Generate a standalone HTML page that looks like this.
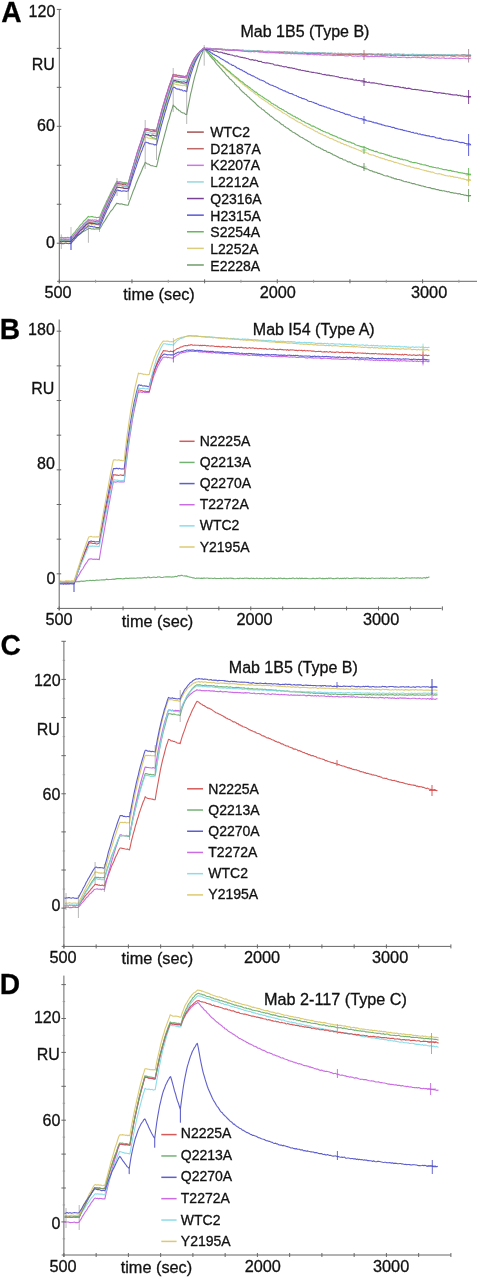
<!DOCTYPE html>
<html><head><meta charset="utf-8"><style>
html,body{margin:0;padding:0;background:#fff;}
svg{display:block;will-change:transform;}
text{font-family:"Liberation Sans",sans-serif;stroke:#111;stroke-width:0.3px;}
</style></head><body>
<svg width="479" height="1280" viewBox="0 0 479 1280">
<rect width="479" height="1280" fill="#fff"/>
<text x="0" y="22" font-size="30" font-weight="bold" fill="#000" transform="translate(1.2,0) scale(0.94,1)">A</text>
<line x1="59.3" y1="9.4" x2="59.3" y2="283.3" stroke="#666" stroke-width="1"/>
<line x1="56.8" y1="9.4" x2="61.3" y2="9.4" stroke="#666" stroke-width="1"/>
<line x1="56.8" y1="48.37" x2="61.3" y2="48.37" stroke="#666" stroke-width="1"/>
<line x1="56.8" y1="87.34" x2="61.3" y2="87.34" stroke="#666" stroke-width="1"/>
<line x1="56.8" y1="126.31" x2="61.3" y2="126.31" stroke="#666" stroke-width="1"/>
<line x1="56.8" y1="165.28" x2="61.3" y2="165.28" stroke="#666" stroke-width="1"/>
<line x1="56.8" y1="204.25" x2="61.3" y2="204.25" stroke="#666" stroke-width="1"/>
<line x1="56.8" y1="243.22" x2="61.3" y2="243.22" stroke="#666" stroke-width="1"/>
<line x1="57.1" y1="281.3" x2="477" y2="281.3" stroke="#666" stroke-width="1"/>
<line x1="59.3" y1="279.3" x2="59.3" y2="283.3" stroke="#666" stroke-width="1"/>
<line x1="131.96" y1="279.3" x2="131.96" y2="283.3" stroke="#666" stroke-width="1"/>
<line x1="204.62" y1="279.3" x2="204.62" y2="283.3" stroke="#666" stroke-width="1"/>
<line x1="277.28" y1="279.3" x2="277.28" y2="283.3" stroke="#666" stroke-width="1"/>
<line x1="349.94" y1="279.3" x2="349.94" y2="283.3" stroke="#666" stroke-width="1"/>
<line x1="422.6" y1="279.3" x2="422.6" y2="283.3" stroke="#666" stroke-width="1"/>
<line x1="95.63" y1="279.8" x2="95.63" y2="282.8" stroke="#999" stroke-width="1"/>
<line x1="168.29" y1="279.8" x2="168.29" y2="282.8" stroke="#999" stroke-width="1"/>
<line x1="240.95" y1="279.8" x2="240.95" y2="282.8" stroke="#999" stroke-width="1"/>
<line x1="313.61" y1="279.8" x2="313.61" y2="282.8" stroke="#999" stroke-width="1"/>
<line x1="386.27" y1="279.8" x2="386.27" y2="282.8" stroke="#999" stroke-width="1"/>
<line x1="458.93" y1="279.8" x2="458.93" y2="282.8" stroke="#999" stroke-width="1"/>
<text x="55.3" y="16.6" font-size="16" text-anchor="end" fill="#111">120</text>
<text x="54.8" y="69.8" font-size="16" text-anchor="end" fill="#111">RU</text>
<text x="54.8" y="131.2" font-size="16" text-anchor="end" fill="#111">60</text>
<text x="54.8" y="247.8" font-size="16" text-anchor="end" fill="#111">0</text>
<text x="44.5" y="298.2" font-size="16.3" fill="#111">500</text>
<text x="123.3" y="299.6" font-size="16.3" fill="#111">time (sec)</text>
<text x="259.7" y="297.6" font-size="16.3" fill="#111">2000</text>
<text x="411" y="297.6" font-size="16.3" fill="#111">3000</text>
<text x="240.5" y="36.8" font-size="16" fill="#111">Mab 1B5 (Type B)</text>
<line x1="187" y1="132.1" x2="203.8" y2="132.1" stroke="#9a4040" stroke-width="1.5" stroke-opacity="0.9"/>
<text x="210.3" y="137.1" font-size="14" fill="#111">WTC2</text>
<line x1="187" y1="148.71" x2="203.8" y2="148.71" stroke="#b85858" stroke-width="1.5" stroke-opacity="0.9"/>
<text x="210.3" y="153.78" font-size="14" fill="#111">D2187A</text>
<line x1="187" y1="165.32" x2="203.8" y2="165.32" stroke="#c46ae0" stroke-width="1.5" stroke-opacity="0.9"/>
<text x="210.3" y="170.46" font-size="14" fill="#111">K2207A</text>
<line x1="187" y1="181.93" x2="203.8" y2="181.93" stroke="#88d4dc" stroke-width="1.5" stroke-opacity="0.9"/>
<text x="210.3" y="187.14" font-size="14" fill="#111">L2212A</text>
<line x1="187" y1="198.54" x2="203.8" y2="198.54" stroke="#6a2c88" stroke-width="1.5" stroke-opacity="0.9"/>
<text x="210.3" y="203.82" font-size="14" fill="#111">Q2316A</text>
<line x1="187" y1="215.15" x2="203.8" y2="215.15" stroke="#4646d2" stroke-width="1.5" stroke-opacity="0.9"/>
<text x="210.3" y="220.5" font-size="14" fill="#111">H2315A</text>
<line x1="187" y1="231.76" x2="203.8" y2="231.76" stroke="#58b04a" stroke-width="1.5" stroke-opacity="0.9"/>
<text x="210.3" y="237.18" font-size="14" fill="#111">S2254A</text>
<line x1="187" y1="248.37" x2="203.8" y2="248.37" stroke="#d8c870" stroke-width="1.5" stroke-opacity="0.9"/>
<text x="210.3" y="253.86" font-size="14" fill="#111">L2252A</text>
<line x1="187" y1="264.98" x2="203.8" y2="264.98" stroke="#60905a" stroke-width="1.5" stroke-opacity="0.9"/>
<text x="210.3" y="270.54" font-size="14" fill="#111">E2228A</text>
<polyline points="59.8,239.79 60.8,240.04 61.8,239.9 62.8,240.08 63.8,240.1 64.8,239.65 65.8,239.61 66.8,240.27 67.8,239.81 68.8,239.79 69.8,240.4 70.8,239.98 71.77,239.03 72.74,237.51 73.72,236.44 74.69,234.87 75.66,234.09 76.63,233.13 77.61,231.73 78.58,230.8 79.55,229.66 80.52,228.1 81.49,227.6 82.47,226.43 83.44,225.18 84.41,223.97 85.38,223.65 86.36,222.37 87.33,221.61 88.3,220.8 89.32,220.8 90.34,221.08 91.35,220.77 92.37,221.2 93.39,221.01 94.41,221.49 95.43,221.53 96.45,220.98 97.46,221.08 98.48,221.21 99.5,221.87 100.52,218.85 101.55,216.45 102.57,213.68 103.59,211.38 104.62,208.86 105.64,206.46 106.66,204.31 107.69,202.01 108.71,200.01 109.74,197.61 110.76,195.63 111.78,193.44 112.81,191.44 113.83,189.12 114.85,186.68 115.88,185.25 116.9,183.37 117.93,183.58 118.95,183.55 119.98,183.88 121.01,183.69 122.04,184.37 123.06,184.34 124.09,184.28 125.12,184.25 126.15,185.03 127.17,185.27 128.2,184.67 129.2,181.45 130.2,177.41 131.2,173.54 132.2,170.06 133.2,166.9 134.2,163.51 135.2,159.44 136.2,156.54 137.2,152.79 138.2,150.1 139.2,146.61 140.2,143.92 141.2,140.93 142.2,137.54 143.2,134.97 144.2,131.51 145.2,128.46 146.23,129.12 147.25,128.89 148.28,129.23 149.31,129.6 150.34,129.94 151.36,129.75 152.39,129.81 153.42,130.62 154.45,130.31 155.47,130.95 156.5,131.02 157.48,126.65 158.46,122.85 159.45,119.12 160.43,115.53 161.41,111.89 162.39,108.34 163.38,104.96 164.36,101.86 165.34,98.23 166.32,94.97 167.31,92.07 168.29,88.63 169.27,85.7 170.25,83.32 171.24,80.11 172.22,77.35 173.2,74.21 174.16,74.72 175.13,75.04 176.09,74.76 177.06,75.4 178.02,75.56 178.99,75.25 179.95,75.84 180.91,75.84 181.88,76.13 182.84,75.98 183.81,76.38 184.77,76.5 185.74,76.03 186.7,76.15 187.67,73.64 188.64,71.12 189.62,68.03 190.59,65.89 191.56,63.9 192.53,61.75 193.51,60.02 194.48,58.37 195.45,56.94 196.42,55.77 197.39,54.3 198.37,53.23 199.34,52.51 200.31,50.97 201.28,50.54 202.26,49.88 203.23,48.81 204.2,48.08 205.2,48.61 206.2,48.22 207.2,48.25 208.2,48.51 209.2,48.79 210.2,48.37 211.19,48.61 212.19,48.69 213.19,49.15 214.19,48.89 215.19,49.29 216.19,48.8 217.19,48.99 218.19,49.3 219.19,49.55 220.19,49.26 221.19,49.14 222.19,49.11 223.19,49.5 224.19,49.28 225.18,49.83 226.18,49.91 227.18,49.44 228.18,49.57 229.18,50.05 230.18,49.97 231.18,50.16 232.18,49.84 233.18,49.72 234.18,49.9 235.18,50.35 236.18,49.99 237.18,50.1 238.17,50.2 239.17,50.25 240.17,50.3 241.17,50.75 242.17,50.19 243.17,50.12 244.17,50.91 245.17,50.91 246.17,51.04 247.17,50.64 248.17,51.1 249.17,51.13 250.17,50.61 251.16,51.07 252.16,51.19 253.16,51.09 254.16,51.02 255.16,50.88 256.16,50.97 257.16,50.92 258.16,50.83 259.16,51.29 260.16,51.09 261.16,51.55 262.16,50.97 263.16,51.7 264.16,51.57 265.15,51.8 266.15,51.81 267.15,51.85 268.15,51.63 269.15,51.22 270.15,51.84 271.15,51.42 272.15,51.56 273.15,51.89 274.15,51.81 275.15,51.76 276.15,52.21 277.15,51.99 278.14,51.81 279.14,51.77 280.14,52.29 281.14,52.02 282.14,52.29 283.14,51.98 284.14,51.89 285.14,52.2 286.14,52.45 287.14,51.97 288.14,52.5 289.14,52.63 290.14,52.57 291.13,52.62 292.13,51.99 293.13,52.52 294.13,52.74 295.13,52.12 296.13,52.32 297.13,52.35 298.13,52.59 299.13,52.53 300.13,52.6 301.13,52.87 302.13,52.28 303.13,52.35 304.13,52.44 305.12,52.46 306.12,52.44 307.12,53.2 308.12,53.13 309.12,52.54 310.12,52.9 311.12,52.77 312.12,52.8 313.12,52.85 314.12,53.11 315.12,53.09 316.12,52.93 317.12,52.82 318.11,52.96 319.11,52.82 320.11,53.19 321.11,53.34 322.11,53.09 323.11,52.88 324.11,52.98 325.11,53.16 326.11,53.36 327.11,53.53 328.11,53.23 329.11,53.59 330.11,53.47 331.1,53.34 332.1,53.31 333.1,53.43 334.1,53.62 335.1,53.41 336.1,53.65 337.1,53.48 338.1,53.33 339.1,53.58 340.1,53.73 341.1,53.25 342.1,53.56 343.1,53.58 344.1,53.96 345.09,54.02 346.09,53.59 347.09,54.03 348.09,53.96 349.09,53.56 350.09,53.74 351.09,53.48 352.09,54.05 353.09,53.95 354.09,54.15 355.09,54.09 356.09,54.01 357.09,54.08 358.08,53.96 359.08,53.6 360.08,54.01 361.08,53.56 362.08,53.69 363.08,54.21 364.08,53.64 365.08,53.69 366.08,53.71 367.08,54.35 368.08,53.81 369.08,53.7 370.08,54.37 371.07,53.81 372.07,54.4 373.07,54.28 374.07,54.42 375.07,54.53 376.07,54.25 377.07,54.44 378.07,53.84 379.07,54.44 380.07,54.25 381.07,54.43 382.07,53.95 383.07,54.48 384.07,54.64 385.06,53.96 386.06,54.18 387.06,54.39 388.06,54.61 389.06,54.15 390.06,54.12 391.06,54.19 392.06,54.49 393.06,54.61 394.06,54.34 395.06,54.33 396.06,54.36 397.06,54.34 398.05,54.41 399.05,54.15 400.05,54.49 401.05,54.88 402.05,54.45 403.05,54.73 404.05,54.27 405.05,54.7 406.05,54.77 407.05,54.71 408.05,54.6 409.05,54.58 410.05,54.72 411.04,54.93 412.04,54.34 413.04,54.31 414.04,54.84 415.04,54.99 416.04,54.68 417.04,54.63 418.04,54.86 419.04,54.44 420.04,54.52 421.04,54.47 422.04,54.79 423.04,54.59 424.04,54.53 425.03,54.91 426.03,55.12 427.03,54.61 428.03,54.94 429.03,54.72 430.03,55.08 431.03,54.87 432.03,54.63 433.03,54.6 434.03,54.45 435.03,54.82 436.03,54.76 437.03,54.6 438.02,54.75 439.02,54.73 440.02,55.1 441.02,54.6 442.02,55.29 443.02,54.89 444.02,54.99 445.02,54.9 446.02,55.2 447.02,55.19 448.02,54.99 449.02,54.94 450.02,55.14 451.01,55.25 452.01,54.89 453.01,55.17 454.01,55.36 455.01,54.97 456.01,54.79 457.01,54.8 458.01,55.19 459.01,55.16 460.01,55.4 461.01,55.32 462.01,54.84 463.01,54.8 464.01,54.86 465,54.81 466,55.23 467,55.36 468,55.4 469,54.89 470,55.39 471,54.95" fill="none" stroke="#9a4040" stroke-width="1.1" stroke-opacity="0.88" stroke-linejoin="round"/>
<polyline points="59.8,240.94 60.8,241.18 61.8,240.67 62.8,240.67 63.8,241.27 64.8,240.83 65.8,240.89 66.8,241.06 67.8,241.14 68.8,240.61 69.8,240.87 70.8,240.95 71.77,239.78 72.74,238.36 73.72,237.49 74.69,236.64 75.66,235.05 76.63,234.06 77.61,232.62 78.58,231.67 79.55,230.92 80.52,229.44 81.49,229.03 82.47,228.04 83.44,226.4 84.41,226.1 85.38,224.68 86.36,224.06 87.33,223.12 88.3,221.84 89.32,222.27 90.34,222.37 91.35,222.6 92.37,222.27 93.39,222.76 94.41,223.01 95.43,222.86 96.45,222.83 97.46,222.56 98.48,222.93 99.5,222.88 100.52,220.61 101.55,218.06 102.57,215.49 103.59,212.75 104.62,210.73 105.64,208.37 106.66,205.71 107.69,204.01 108.71,201.59 109.74,198.98 110.76,197.48 111.78,194.73 112.81,192.81 113.83,191.08 114.85,188.98 115.88,186.98 116.9,185.12 117.93,185.16 118.95,185.22 119.98,185.28 121.01,185.34 122.04,186 123.06,186.17 124.09,186.12 125.12,186.39 126.15,186.2 127.17,186.22 128.2,186.41 129.2,182.98 130.2,178.57 131.2,175.26 132.2,171.44 133.2,168.3 134.2,164.48 135.2,161.03 136.2,157.72 137.2,154.52 138.2,151.45 139.2,147.92 140.2,145.17 141.2,141.5 142.2,138.6 143.2,135.48 144.2,132.57 145.2,130.22 146.23,130.44 147.25,130.24 148.28,130.46 149.31,130.85 150.34,131.3 151.36,131.54 152.39,131.65 153.42,131.68 154.45,131.46 155.47,131.8 156.5,131.75 157.48,128.07 158.46,124.25 159.45,120.18 160.43,116.54 161.41,113.37 162.39,109.26 163.38,106.45 164.36,103.17 165.34,99.94 166.32,96.29 167.31,93.31 168.29,90.28 169.27,87.34 170.25,84.71 171.24,81.64 172.22,78.55 173.2,76.29 174.16,76.19 175.13,76.47 176.09,76.75 177.06,76.34 178.02,77.12 178.99,77.18 179.95,77.19 180.91,77.35 181.88,77.43 182.84,77.34 183.81,77.72 184.77,77.43 185.74,77.9 186.7,78.12 187.67,74.79 188.64,71.99 189.62,69.66 190.59,67.18 191.56,64.36 192.53,62.85 193.51,60.86 194.48,58.7 195.45,57.4 196.42,55.87 197.39,54.45 198.37,53.62 199.34,52.85 200.31,51.37 201.28,50.89 202.26,49.92 203.23,48.71 204.2,48.59 205.2,48.45 206.2,48.78 207.2,48.68 208.2,48.77 209.2,48.52 210.2,48.96 211.19,49.13 212.19,49.14 213.19,48.87 214.19,49.19 215.19,49.04 216.19,48.8 217.19,48.81 218.19,48.91 219.19,49.07 220.19,49.1 221.19,49.43 222.19,49.65 223.19,49.58 224.19,49.55 225.18,49.8 226.18,49.58 227.18,49.77 228.18,50.06 229.18,49.83 230.18,49.71 231.18,50.35 232.18,50.26 233.18,50.03 234.18,50.09 235.18,50.28 236.18,50.38 237.18,50.14 238.17,50.02 239.17,50.24 240.17,50.75 241.17,50.29 242.17,50.6 243.17,50.44 244.17,50.5 245.17,50.52 246.17,50.76 247.17,50.62 248.17,50.56 249.17,50.67 250.17,50.77 251.16,51.07 252.16,50.78 253.16,50.79 254.16,51.18 255.16,51.2 256.16,51.48 257.16,51 258.16,51.33 259.16,51.37 260.16,51.12 261.16,51.92 262.16,51.37 263.16,51.31 264.16,51.66 265.15,51.45 266.15,51.86 267.15,51.68 268.15,51.55 269.15,51.53 270.15,52.11 271.15,51.79 272.15,52.24 273.15,52.03 274.15,52.44 275.15,51.98 276.15,51.97 277.15,52.03 278.14,52.5 279.14,52.4 280.14,52.21 281.14,52.04 282.14,52.55 283.14,52.82 284.14,52.55 285.14,52.12 286.14,52.18 287.14,52.26 288.14,52.36 289.14,52.29 290.14,52.34 291.13,52.85 292.13,53.09 293.13,52.56 294.13,53.21 295.13,52.85 296.13,53.14 297.13,53.27 298.13,53.32 299.13,52.63 300.13,52.88 301.13,53.15 302.13,53.45 303.13,52.8 304.13,53 305.12,53.47 306.12,52.91 307.12,53.17 308.12,53.15 309.12,53.46 310.12,53.69 311.12,53.11 312.12,53.59 313.12,53.62 314.12,53.73 315.12,53.53 316.12,53.86 317.12,53.44 318.11,53.51 319.11,53.39 320.11,53.85 321.11,53.64 322.11,53.5 323.11,53.45 324.11,53.91 325.11,53.85 326.11,53.96 327.11,53.73 328.11,53.83 329.11,53.59 330.11,54.06 331.1,53.54 332.1,53.92 333.1,54.17 334.1,54.13 335.1,53.69 336.1,53.83 337.1,54.34 338.1,54.2 339.1,54.42 340.1,54.43 341.1,54.12 342.1,54.5 343.1,54.39 344.1,54.09 345.09,54.15 346.09,53.93 347.09,54.21 348.09,54.68 349.09,54.02 350.09,54.41 351.09,54.07 352.09,54.07 353.09,54.54 354.09,54.24 355.09,54.1 356.09,54.21 357.09,54.62 358.08,54.59 359.08,54.15 360.08,54.35 361.08,54.96 362.08,54.38 363.08,54.67 364.08,54.58 365.08,54.89 366.08,54.76 367.08,54.93 368.08,54.75 369.08,54.49 370.08,54.5 371.07,54.44 372.07,55.05 373.07,54.5 374.07,54.44 375.07,55.22 376.07,54.62 377.07,55.19 378.07,54.56 379.07,54.88 380.07,54.71 381.07,55.21 382.07,55.05 383.07,55.09 384.07,55.2 385.06,55.31 386.06,54.9 387.06,55.12 388.06,55.01 389.06,54.76 390.06,55.36 391.06,55.18 392.06,55.37 393.06,54.9 394.06,55.18 395.06,55.14 396.06,55.36 397.06,54.86 398.05,55.09 399.05,55.21 400.05,54.89 401.05,55.29 402.05,55.45 403.05,55.22 404.05,55.41 405.05,55.39 406.05,55.09 407.05,55.21 408.05,55.74 409.05,55.23 410.05,55.32 411.04,55.05 412.04,55.17 413.04,55.14 414.04,55.77 415.04,55.62 416.04,55.75 417.04,55.85 418.04,55.56 419.04,55.83 420.04,55.53 421.04,55.45 422.04,55.88 423.04,55.86 424.04,55.91 425.03,55.55 426.03,55.79 427.03,55.51 428.03,55.99 429.03,55.94 430.03,55.45 431.03,55.97 432.03,55.38 433.03,55.32 434.03,55.84 435.03,55.5 436.03,55.69 437.03,55.8 438.02,55.33 439.02,55.91 440.02,55.54 441.02,55.68 442.02,55.62 443.02,55.94 444.02,55.96 445.02,55.6 446.02,55.46 447.02,55.63 448.02,55.73 449.02,55.47 450.02,55.54 451.01,56.04 452.01,56 453.01,56.23 454.01,56.24 455.01,56.17 456.01,55.77 457.01,55.61 458.01,55.74 459.01,55.87 460.01,55.93 461.01,55.95 462.01,55.81 463.01,56.22 464.01,55.77 465,55.92 466,56.27 467,56.21 468,55.81 469,55.78 470,56.24 471,55.61" fill="none" stroke="#b85858" stroke-width="1.1" stroke-opacity="0.88" stroke-linejoin="round"/>
<polyline points="59.8,240.71 60.8,241.02 61.8,241.03 62.8,240.73 63.8,240.64 64.8,240.76 65.8,241.22 66.8,240.97 67.8,241.38 68.8,241.23 69.8,241.38 70.8,240.63 71.77,239.95 72.74,239.03 73.72,238.59 74.69,237.76 75.66,236.78 76.63,236.45 77.61,235.36 78.58,234.83 79.55,234.08 80.52,233.84 81.49,232.86 82.47,232.07 83.44,231.24 84.41,230.91 85.38,230.43 86.36,229.85 87.33,229.43 88.3,228.75 89.32,228.39 90.34,228.38 91.35,228.96 92.37,229.05 93.39,228.89 94.41,229.21 95.43,229.05 96.45,228.88 97.46,228.85 98.48,228.77 99.5,229.31 100.52,227.76 101.55,226.05 102.57,224 103.59,222.5 104.62,221.07 105.64,219.37 106.66,217.62 107.69,215.92 108.71,214.48 109.74,212.71 110.76,211.25 111.78,210.2 112.81,209.03 113.83,207.28 114.85,205.8 115.88,204.4 116.9,203.16 117.93,203.67 118.95,203.6 119.98,204.21 121.01,203.75 122.04,204.05 123.06,204.37 124.09,204.43 125.12,204.92 126.15,205.03 127.17,205.23 128.2,205.09 129.2,201.76 130.2,199.39 131.2,196.6 132.2,193.84 133.2,191.01 134.2,188.73 135.2,186.32 136.2,183.14 137.2,181.11 138.2,178.43 139.2,176.15 140.2,174.1 141.2,171.83 142.2,169.3 143.2,166.71 144.2,165.09 145.2,162.34 146.23,163.07 147.25,163.94 148.28,164.02 149.31,164.43 150.34,165.4 151.36,165.78 152.39,165.64 153.42,166.04 154.45,166.26 155.47,166.43 156.5,166.8 157.48,163.22 158.46,158.41 159.45,154.51 160.43,150.54 161.41,146.56 162.39,143.1 163.38,139.53 164.36,135.93 165.34,132.15 166.32,128.74 167.31,124.6 168.29,121.39 169.27,118.57 170.25,114.54 171.24,111.45 172.22,108.43 173.2,105.11 174.16,106.3 175.13,106.8 176.09,107.81 177.06,109.19 178.02,109.3 178.99,110.63 179.95,110.73 180.91,112.02 181.88,112.38 182.84,112.93 183.81,113.06 184.77,113.51 185.74,114.55 186.7,114.54 187.67,109.09 188.64,104.39 189.62,99.49 190.59,94.13 191.56,90.38 192.53,85.78 193.51,81.61 194.48,77.54 195.45,74.1 196.42,71.1 197.39,67.22 198.37,63.94 199.34,60.96 200.31,58.09 201.28,55.56 202.26,53.42 203.23,50.3 204.2,48.05 205.2,49.94 206.2,51.27 207.2,52.53 208.2,53.21 209.2,54.55 210.2,56.27 211.19,57.13 212.19,58.53 213.19,59.43 214.19,60.41 215.19,61.86 216.19,63.37 217.19,64.58 218.19,65.58 219.19,66.66 220.19,67.87 221.19,68.93 222.19,70.14 223.19,71.51 224.19,72.12 225.18,73.54 226.18,74.91 227.18,75.94 228.18,76.49 229.18,78.19 230.18,79.16 231.18,79.68 232.18,80.81 233.18,81.8 234.18,82.72 235.18,84.49 236.18,85.05 237.18,86.43 238.17,86.83 239.17,87.75 240.17,89.42 241.17,90.34 242.17,91.47 243.17,92.2 244.17,93.03 245.17,94.17 246.17,94.58 247.17,95.87 248.17,96.72 249.17,97.41 250.17,98.69 251.16,99.38 252.16,100.43 253.16,101.22 254.16,102.06 255.16,102.98 256.16,104.05 257.16,105.22 258.16,106.04 259.16,106.84 260.16,107.67 261.16,108.07 262.16,109.46 263.16,109.72 264.16,110.43 265.15,111.55 266.15,112.54 267.15,113.04 268.15,114.08 269.15,114.58 270.15,115.91 271.15,116.28 272.15,117.08 273.15,117.89 274.15,118.93 275.15,119.77 276.15,120.16 277.15,120.83 278.14,121.71 279.14,122.01 280.14,123.02 281.14,124.08 282.14,124.75 283.14,124.88 284.14,126.23 285.14,126.55 286.14,127.72 287.14,127.92 288.14,128.49 289.14,129.43 290.14,130.38 291.13,130.68 292.13,131.7 293.13,132.23 294.13,132.61 295.13,133.21 296.13,134.02 297.13,134.57 298.13,135.19 299.13,136.04 300.13,136.84 301.13,137.23 302.13,137.5 303.13,138.17 304.13,138.89 305.12,139.69 306.12,139.91 307.12,140.46 308.12,141.23 309.12,141.79 310.12,142.16 311.12,143.15 312.12,144.02 313.12,144.28 314.12,145 315.12,145.64 316.12,146.2 317.12,146.81 318.11,146.97 319.11,147.71 320.11,147.79 321.11,148.93 322.11,149.06 323.11,149.66 324.11,150.52 325.11,150.55 326.11,150.98 327.11,152 328.11,152.33 329.11,152.42 330.11,152.87 331.1,153.62 332.1,153.83 333.1,154.98 334.1,154.94 335.1,155.49 336.1,156.06 337.1,156.63 338.1,157.03 339.1,157.66 340.1,158.14 341.1,158.42 342.1,158.6 343.1,159.76 344.1,159.97 345.09,159.93 346.09,160.66 347.09,161.34 348.09,161.97 349.09,161.66 350.09,162.04 351.09,162.84 352.09,163.21 353.09,164.01 354.09,164.37 355.09,164.38 356.09,164.86 357.09,165.4 358.08,166.04 359.08,165.89 360.08,166.44 361.08,166.59 362.08,167.42 363.08,167.31 364.08,168.42 365.08,168.48 366.08,168.89 367.08,168.88 368.08,169.37 369.08,169.93 370.08,170.6 371.07,170.71 372.07,170.87 373.07,171.78 374.07,171.88 375.07,172.13 376.07,172.22 377.07,172.64 378.07,173.47 379.07,173.2 380.07,173.86 381.07,174.26 382.07,174.38 383.07,175.05 384.07,175.49 385.06,175.77 386.06,176 387.06,175.9 388.06,176.1 389.06,176.72 390.06,176.93 391.06,177.15 392.06,178 393.06,177.79 394.06,178.58 395.06,178.97 396.06,178.62 397.06,179.55 398.05,179.43 399.05,179.58 400.05,179.85 401.05,180.02 402.05,180.67 403.05,180.87 404.05,181.52 405.05,181.79 406.05,181.45 407.05,182 408.05,182.26 409.05,182.37 410.05,182.69 411.04,182.97 412.04,183.58 413.04,183.56 414.04,183.64 415.04,183.99 416.04,184.42 417.04,184.78 418.04,184.78 419.04,185.39 420.04,185.25 421.04,185.87 422.04,186.06 423.04,185.96 424.04,186.66 425.03,186.62 426.03,186.97 427.03,187.26 428.03,187.52 429.03,187.6 430.03,187.52 431.03,188.34 432.03,188.62 433.03,188.56 434.03,188.85 435.03,188.83 436.03,189.55 437.03,189.6 438.02,189.45 439.02,190.14 440.02,190.49 441.02,190.19 442.02,190.92 443.02,190.72 444.02,190.69 445.02,191.32 446.02,191.22 447.02,191.74 448.02,191.83 449.02,191.65 450.02,192.18 451.01,192.64 452.01,192.53 453.01,192.78 454.01,193.23 455.01,193.09 456.01,193.31 457.01,193.57 458.01,193.95 459.01,193.64 460.01,193.74 461.01,194.46 462.01,194.47 463.01,194.45 464.01,195.1 465,195.27 466,195.17 467,195.71 468,195.76 469,195.86 470,195.66 471,195.61" fill="none" stroke="#60905a" stroke-width="1.1" stroke-opacity="0.88" stroke-linejoin="round"/>
<polyline points="59.8,242.14 60.8,242.19 61.8,241.88 62.8,241.98 63.8,242.05 64.8,241.8 65.8,242.16 66.8,242.05 67.8,241.91 68.8,241.69 69.8,242.04 70.8,241.86 71.77,241.03 72.74,239.46 73.72,238.53 74.69,237.28 75.66,236.37 76.63,235.45 77.61,234.04 78.58,232.97 79.55,232.31 80.52,231.1 81.49,230.37 82.47,229.14 83.44,228.15 84.41,227.58 85.38,226.98 86.36,226.04 87.33,224.88 88.3,223.92 89.32,223.78 90.34,224.07 91.35,224.21 92.37,224.81 93.39,224.25 94.41,225 95.43,224.71 96.45,224.75 97.46,224.68 98.48,225.31 99.5,224.75 100.52,222.49 101.55,219.92 102.57,217.2 103.59,214.79 104.62,213.01 105.64,210.5 106.66,208.15 107.69,206.02 108.71,203.15 109.74,201.44 110.76,199.33 111.78,196.8 112.81,194.91 113.83,193.28 114.85,190.76 115.88,189.14 116.9,186.73 117.93,187.32 118.95,187.18 119.98,187.54 121.01,187.59 122.04,188.13 123.06,188.16 124.09,188.09 125.12,188.35 126.15,188.25 127.17,188.65 128.2,188.31 129.2,185.06 130.2,181.68 131.2,178.16 132.2,174.59 133.2,171.45 134.2,168.65 135.2,165.18 136.2,162.54 137.2,159.32 138.2,156.72 139.2,153.72 140.2,150.76 141.2,147.66 142.2,144.64 143.2,142.33 144.2,139.82 145.2,137.34 146.23,137.07 147.25,137.32 148.28,138.24 149.31,138.29 150.34,138.32 151.36,138.73 152.39,138.46 153.42,138.96 154.45,139.23 155.47,139.34 156.5,139.13 157.48,135.19 158.46,131.75 159.45,128.21 160.43,123.96 161.41,120.29 162.39,116.86 163.38,114.02 164.36,110.38 165.34,107.18 166.32,104.44 167.31,101.03 168.29,97.72 169.27,95.12 170.25,91.67 171.24,89.07 172.22,86.65 173.2,83.54 174.16,83.65 175.13,84.25 176.09,84.29 177.06,84.99 178.02,84.47 178.99,85.2 179.95,85.03 180.91,85.51 181.88,85.36 182.84,85.67 183.81,85.53 184.77,85.56 185.74,85.86 186.7,86.24 187.67,81.86 188.64,78.09 189.62,74.88 190.59,71.54 191.56,68.9 192.53,66.53 193.51,64.15 194.48,62.04 195.45,59.82 196.42,57.8 197.39,56.15 198.37,54.89 199.34,53.39 200.31,52.43 201.28,51.03 202.26,50.37 203.23,49.27 204.2,48.43 205.2,49.53 206.2,50.4 207.2,51.35 208.2,52.28 209.2,53.1 210.2,54.7 211.19,55.46 212.19,56.14 213.19,57.79 214.19,58.5 215.19,59.51 216.19,60.34 217.19,61.05 218.19,62.71 219.19,62.99 220.19,64.1 221.19,65.54 222.19,65.78 223.19,67.01 224.19,67.91 225.18,68.64 226.18,70.09 227.18,70.59 228.18,71.16 229.18,72.42 230.18,72.94 231.18,74.38 232.18,75.38 233.18,76.28 234.18,76.46 235.18,77.82 236.18,78.37 237.18,79.35 238.17,80.05 239.17,80.89 240.17,81.59 241.17,82.8 242.17,83.19 243.17,84.71 244.17,84.78 245.17,86.32 246.17,86.5 247.17,87.2 248.17,88.52 249.17,89.13 250.17,90.1 251.16,90.66 252.16,91.53 253.16,91.85 254.16,93.08 255.16,93.7 256.16,94.81 257.16,94.79 258.16,95.58 259.16,96.8 260.16,97.72 261.16,98.04 262.16,98.99 263.16,99.59 264.16,100.16 265.15,100.92 266.15,101.73 267.15,101.97 268.15,102.88 269.15,103.91 270.15,104.21 271.15,105.06 272.15,105.56 273.15,106.31 274.15,107.21 275.15,107.94 276.15,108.77 277.15,109.03 278.14,109.46 279.14,110.21 280.14,110.63 281.14,111.41 282.14,112.31 283.14,112.96 284.14,113.29 285.14,113.86 286.14,114.4 287.14,115.08 288.14,115.94 289.14,116.35 290.14,117.45 291.13,117.78 292.13,118.2 293.13,118.85 294.13,119.12 295.13,120.26 296.13,120.85 297.13,121.11 298.13,121.96 299.13,122.17 300.13,122.68 301.13,123.25 302.13,123.77 303.13,124.65 304.13,125.22 305.12,125.84 306.12,125.87 307.12,126.94 308.12,127.24 309.12,127.69 310.12,128.31 311.12,128.78 312.12,129.11 313.12,129.78 314.12,130.49 315.12,131.05 316.12,131.72 317.12,131.64 318.11,132.7 319.11,133.12 320.11,133.54 321.11,134.24 322.11,134.05 323.11,135.04 324.11,135.62 325.11,135.48 326.11,136.33 327.11,137.08 328.11,137.02 329.11,137.93 330.11,138.43 331.1,138.51 332.1,138.74 333.1,139.24 334.1,140.18 335.1,140.3 336.1,140.66 337.1,141.2 338.1,142.02 339.1,141.92 340.1,142.16 341.1,143.33 342.1,143.25 343.1,143.73 344.1,144.62 345.09,144.48 346.09,144.74 347.09,145.79 348.09,145.69 349.09,146.08 350.09,147.05 351.09,146.89 352.09,147.82 353.09,147.76 354.09,148.13 355.09,148.45 356.09,149.1 357.09,149.5 358.08,149.76 359.08,150.22 360.08,150.43 361.08,151.24 362.08,151.69 363.08,151.92 364.08,152.34 365.08,152.1 366.08,152.61 367.08,152.94 368.08,153.25 369.08,154.26 370.08,154.57 371.07,154.92 372.07,154.99 373.07,154.98 374.07,155.58 375.07,155.62 376.07,156.64 377.07,156.47 378.07,156.82 379.07,157.68 380.07,157.42 381.07,158.32 382.07,158.16 383.07,158.77 384.07,158.65 385.06,159.6 386.06,159.52 387.06,159.79 388.06,160.35 389.06,160.62 390.06,160.65 391.06,160.86 392.06,161.53 393.06,161.39 394.06,162.37 395.06,162.25 396.06,162.41 397.06,162.83 398.05,162.96 399.05,163.41 400.05,163.88 401.05,164.06 402.05,164.29 403.05,164.54 404.05,164.98 405.05,165.5 406.05,165.5 407.05,166.05 408.05,166.09 409.05,166.08 410.05,166.39 411.04,167.2 412.04,167.18 413.04,167.37 414.04,167.74 415.04,168.27 416.04,168.15 417.04,168.4 418.04,168.66 419.04,168.63 420.04,169.32 421.04,169.52 422.04,169.78 423.04,170 424.04,170.26 425.03,170.7 426.03,170.52 427.03,171.4 428.03,170.95 429.03,171.8 430.03,171.48 431.03,172.21 432.03,172.02 433.03,172.11 434.03,172.71 435.03,173.18 436.03,173.42 437.03,173.67 438.02,173.98 439.02,173.46 440.02,173.95 441.02,173.95 442.02,174.69 443.02,174.67 444.02,175.12 445.02,175.38 446.02,175.76 447.02,175.71 448.02,176.08 449.02,176.03 450.02,175.87 451.01,176.72 452.01,176.29 453.01,176.49 454.01,177.29 455.01,177.05 456.01,177.56 457.01,177.25 458.01,177.6 459.01,178.2 460.01,177.85 461.01,178.43 462.01,178.96 463.01,178.58 464.01,179.16 465,179.38 466,179.47 467,179.78 468,179.91 469,179.55 470,179.87 471,180.33" fill="none" stroke="#d8c870" stroke-width="1.1" stroke-opacity="0.88" stroke-linejoin="round"/>
<polyline points="59.8,238.18 60.8,237.55 61.8,237.81 62.8,237.42 63.8,237.97 64.8,237.62 65.8,237.65 66.8,237.74 67.8,237.29 68.8,237.74 69.8,237.77 70.8,237.79 71.77,235.99 72.74,234.63 73.72,233.28 74.69,232.59 75.66,230.97 76.63,229.7 77.61,228.59 78.58,227.54 79.55,226.07 80.52,224.93 81.49,224.14 82.47,223.03 83.44,221.55 84.41,220.3 85.38,219.92 86.36,218.72 87.33,217.58 88.3,216.42 89.32,216.99 90.34,216.69 91.35,216.63 92.37,216.64 93.39,216.93 94.41,217.22 95.43,217.12 96.45,217.66 97.46,217.49 98.48,217.4 99.5,217.63 100.52,215.15 101.55,212.78 102.57,210.33 103.59,208.05 104.62,205.76 105.64,203.81 106.66,201.11 107.69,199.44 108.71,196.94 109.74,195.31 110.76,192.65 111.78,190.98 112.81,188.98 113.83,187.26 114.85,184.96 115.88,183.14 116.9,181.21 117.93,181.74 118.95,181.93 119.98,181.63 121.01,181.93 122.04,182.09 123.06,182.83 124.09,182.55 125.12,182.75 126.15,182.64 127.17,183.04 128.2,183.25 129.2,179.82 130.2,176.02 131.2,173.16 132.2,170.05 133.2,166.6 134.2,164.16 135.2,160.8 136.2,157.84 137.2,155.22 138.2,152.36 139.2,149.5 140.2,147.06 141.2,144.1 142.2,141.32 143.2,138.5 144.2,136.35 145.2,133.69 146.23,134.47 147.25,134.91 148.28,135.19 149.31,135.72 150.34,136.29 151.36,136.69 152.39,137.7 153.42,137.87 154.45,137.95 155.47,138.66 156.5,138.91 157.48,134.39 158.46,130.97 159.45,126.68 160.43,123.5 161.41,119.12 162.39,115.63 163.38,112.07 164.36,109.11 165.34,105.71 166.32,102.23 167.31,98.68 168.29,95.76 169.27,92.92 170.25,89.41 171.24,87.18 172.22,84.26 173.2,81.55 174.16,81.64 175.13,81.84 176.09,82.38 177.06,82.05 178.02,82.31 178.99,82.37 179.95,82.62 180.91,83.3 181.88,82.92 182.84,83.61 183.81,83.49 184.77,84.03 185.74,84.07 186.7,84.15 187.67,80.47 188.64,76.35 189.62,73.34 190.59,70.51 191.56,67.89 192.53,65.65 193.51,63.58 194.48,61.43 195.45,59.71 196.42,57.82 197.39,55.98 198.37,54.67 199.34,53.55 200.31,52.41 201.28,50.96 202.26,49.94 203.23,49.23 204.2,48.08 205.2,49.6 206.2,49.89 207.2,51.39 208.2,52.24 209.2,52.98 210.2,54.25 211.19,55.13 212.19,56.47 213.19,57.36 214.19,58.06 215.19,59.22 216.19,60.16 217.19,60.51 218.19,61.95 219.19,62.87 220.19,63.9 221.19,64.61 222.19,65.21 223.19,65.95 224.19,67.19 225.18,67.71 226.18,69.02 227.18,69.73 228.18,70.79 229.18,71.27 230.18,72.07 231.18,73.4 232.18,74.04 233.18,74.64 234.18,75.61 235.18,76.33 236.18,77.31 237.18,78.02 238.17,78.64 239.17,79.99 240.17,80.71 241.17,81.4 242.17,81.8 243.17,82.51 244.17,83.71 245.17,84.55 246.17,85.18 247.17,85.58 248.17,86.74 249.17,87.33 250.17,87.96 251.16,88.87 252.16,89.49 253.16,90.38 254.16,91.18 255.16,92.09 256.16,92.1 257.16,93.18 258.16,94.19 259.16,94.66 260.16,95.29 261.16,96.2 262.16,96.23 263.16,97.52 264.16,98.06 265.15,98.7 266.15,99.15 267.15,100.07 268.15,100.33 269.15,101.31 270.15,101.74 271.15,102.93 272.15,103.47 273.15,103.85 274.15,104.71 275.15,105.04 276.15,105.78 277.15,106.11 278.14,107.29 279.14,107.83 280.14,108.43 281.14,108.5 282.14,109.69 283.14,109.64 284.14,110.68 285.14,111.21 286.14,111.45 287.14,112.33 288.14,113.28 289.14,113.64 290.14,113.97 291.13,114.93 292.13,115.13 293.13,116.12 294.13,116.28 295.13,116.58 296.13,117.84 297.13,117.67 298.13,118.36 299.13,119.31 300.13,119.32 301.13,120.2 302.13,120.98 303.13,121.29 304.13,121.61 305.12,122.46 306.12,123.03 307.12,123.34 308.12,123.89 309.12,124.15 310.12,124.72 311.12,125.69 312.12,126.16 313.12,125.88 314.12,126.52 315.12,127.03 316.12,127.97 317.12,127.97 318.11,128.42 319.11,129.37 320.11,129.37 321.11,130.48 322.11,130.53 323.11,131.34 324.11,131.74 325.11,131.7 326.11,132.61 327.11,132.77 328.11,133.06 329.11,133.36 330.11,134.32 331.1,134.65 332.1,134.88 333.1,135.73 334.1,135.65 335.1,136.27 336.1,136.41 337.1,137.04 338.1,137.89 339.1,137.99 340.1,138.13 341.1,138.6 342.1,139.34 343.1,139.45 344.1,140.34 345.09,140.07 346.09,141.12 347.09,141.31 348.09,141.86 349.09,141.88 350.09,142.03 351.09,142.5 352.09,143.24 353.09,143.14 354.09,143.58 355.09,144.5 356.09,144.94 357.09,145.29 358.08,145.65 359.08,145.78 360.08,146.4 361.08,146.62 362.08,146.86 363.08,147.11 364.08,147.14 365.08,147.54 366.08,148.02 367.08,148.53 368.08,148.6 369.08,149.62 370.08,149.65 371.07,150.11 372.07,150.57 373.07,150.37 374.07,151.23 375.07,151.61 376.07,151.38 377.07,151.59 378.07,152.45 379.07,152.85 380.07,153.09 381.07,153.09 382.07,153.56 383.07,153.48 384.07,153.89 385.06,154.34 386.06,154.9 387.06,154.68 388.06,155.65 389.06,155.23 390.06,156.28 391.06,155.99 392.06,156.75 393.06,157.04 394.06,157.44 395.06,157.34 396.06,157.81 397.06,157.77 398.05,158.48 399.05,158.18 400.05,159.08 401.05,159.12 402.05,158.97 403.05,159.95 404.05,159.72 405.05,159.79 406.05,160.21 407.05,160.29 408.05,160.76 409.05,161.36 410.05,161.84 411.04,161.82 412.04,162.25 413.04,162.48 414.04,162.65 415.04,162.64 416.04,162.78 417.04,162.95 418.04,163.51 419.04,163.48 420.04,164.16 421.04,164.06 422.04,164.51 423.04,164.72 424.04,165.03 425.03,164.88 426.03,165.2 427.03,165.78 428.03,165.63 429.03,166.23 430.03,166.69 431.03,166.46 432.03,167.14 433.03,167.08 434.03,167.57 435.03,167.46 436.03,167.86 437.03,168.02 438.02,167.85 439.02,168.32 440.02,168.58 441.02,168.7 442.02,169.07 443.02,169.48 444.02,169.6 445.02,169.82 446.02,169.49 447.02,170.14 448.02,170.28 449.02,170.73 450.02,170.19 451.01,170.52 452.01,171.36 453.01,171.07 454.01,171.54 455.01,171.64 456.01,171.68 457.01,171.9 458.01,172.19 459.01,172.72 460.01,172.54 461.01,172.93 462.01,172.73 463.01,173.24 464.01,173.34 465,173.63 466,173.92 467,173.46 468,174.35 469,174.24 470,174.13 471,174.47" fill="none" stroke="#58b04a" stroke-width="1.1" stroke-opacity="0.88" stroke-linejoin="round"/>
<polyline points="59.8,243.18 60.8,243.28 61.8,243.77 62.8,243.67 63.8,243.79 64.8,243.23 65.8,243.19 66.8,243.4 67.8,243.5 68.8,243.67 69.8,243.34 70.8,243.69 71.77,242.45 72.74,241.12 73.72,240.44 74.69,238.8 75.66,238.18 76.63,236.82 77.61,235.7 78.58,235.05 79.55,234.11 80.52,233.22 81.49,232.09 82.47,231.6 83.44,230.57 84.41,229.17 85.38,228.17 86.36,228.06 87.33,226.77 88.3,225.68 89.32,225.93 90.34,226.53 91.35,226.28 92.37,226.59 93.39,226.97 94.41,226.85 95.43,227.21 96.45,227.56 97.46,227.54 98.48,227.51 99.5,227.6 100.52,224.83 101.55,222.62 102.57,220.2 103.59,217.76 104.62,215.34 105.64,213.24 106.66,210.54 107.69,208.72 108.71,206.75 109.74,203.85 110.76,201.91 111.78,200.42 112.81,197.66 113.83,196.25 114.85,194.09 115.88,191.75 116.9,190.3 117.93,189.96 118.95,190.77 119.98,190.47 121.01,191.09 122.04,191.18 123.06,190.68 124.09,190.99 125.12,190.88 126.15,191.45 127.17,191 128.2,191.06 129.2,187.76 130.2,185.08 131.2,181.37 132.2,178.27 133.2,175.26 134.2,172.29 135.2,169.18 136.2,166.66 137.2,163.28 138.2,160.55 139.2,158.06 140.2,154.82 141.2,152.07 142.2,149.95 143.2,146.93 144.2,144.83 145.2,142.26 146.23,142.29 147.25,142.63 148.28,142.78 149.31,143.72 150.34,143.67 151.36,143.86 152.39,143.99 153.42,144.26 154.45,145 155.47,144.61 156.5,145.14 157.48,141.1 158.46,137.02 159.45,133.09 160.43,129.19 161.41,125.29 162.39,122.15 163.38,118.66 164.36,114.91 165.34,111.27 166.32,108.48 167.31,104.67 168.29,101.49 169.27,98.76 170.25,95.91 171.24,92.75 172.22,89.5 173.2,87.38 174.16,87.17 175.13,87.74 176.09,88.65 177.06,88.87 178.02,89.19 178.99,88.98 179.95,89.92 180.91,89.85 181.88,89.82 182.84,90.71 183.81,91.07 184.77,90.6 185.74,91.15 186.7,91.72 187.67,86.67 188.64,82.45 189.62,78.98 190.59,75.19 191.56,72.42 192.53,69.36 193.51,66.67 194.48,64.08 195.45,61.42 196.42,59.75 197.39,57.77 198.37,55.97 199.34,54.45 200.31,52.8 201.28,51.39 202.26,50.75 203.23,49.21 204.2,47.98 205.2,49.32 206.2,49.58 207.2,50.35 208.2,50.71 209.2,51.18 210.2,51.95 211.19,52.97 212.19,53.14 213.19,54.27 214.19,54.39 215.19,55.47 216.19,55.5 217.19,56.32 218.19,56.67 219.19,57.28 220.19,58.17 221.19,58.64 222.19,59.36 223.19,59.69 224.19,60.35 225.18,60.94 226.18,61.98 227.18,61.9 228.18,62.74 229.18,63.65 230.18,63.99 231.18,64.3 232.18,65.46 233.18,65.3 234.18,65.88 235.18,66.34 236.18,67.23 237.18,68.11 238.17,68.19 239.17,68.74 240.17,69.69 241.17,69.65 242.17,70.13 243.17,71.18 244.17,71.25 245.17,72.13 246.17,72.34 247.17,73.23 248.17,73.95 249.17,74.15 250.17,74.52 251.16,75.31 252.16,75.88 253.16,75.87 254.16,76.52 255.16,77.13 256.16,77.73 257.16,78.04 258.16,78.85 259.16,79.02 260.16,80.02 261.16,80.07 262.16,80.45 263.16,80.82 264.16,81.34 265.15,81.88 266.15,82.89 267.15,82.99 268.15,83.49 269.15,84.37 270.15,84.84 271.15,85.14 272.15,85.19 273.15,85.71 274.15,86.31 275.15,86.57 276.15,87.1 277.15,87.44 278.14,87.91 279.14,88.76 280.14,89.09 281.14,89.41 282.14,89.87 283.14,90.42 284.14,90.91 285.14,90.82 286.14,91.91 287.14,92.03 288.14,92.36 289.14,93.28 290.14,93.54 291.13,93.64 292.13,93.8 293.13,94.54 294.13,94.96 295.13,95.32 296.13,95.51 297.13,96.31 298.13,96.46 299.13,97.27 300.13,97.48 301.13,97.7 302.13,98.52 303.13,98.62 304.13,98.72 305.12,99.27 306.12,99.48 307.12,100.17 308.12,100.95 309.12,101.36 310.12,101.51 311.12,101.5 312.12,101.94 313.12,102.29 314.12,102.81 315.12,103.39 316.12,103.27 317.12,104.02 318.11,104.34 319.11,104.9 320.11,105.39 321.11,105.42 322.11,105.94 323.11,106.04 324.11,106.54 325.11,107.05 326.11,106.94 327.11,107.66 328.11,108 329.11,108.1 330.11,108.5 331.1,109.31 332.1,109.27 333.1,109.49 334.1,109.91 335.1,110.44 336.1,110.68 337.1,110.98 338.1,111.29 339.1,111.54 340.1,112.1 341.1,112.51 342.1,112.43 343.1,113.16 344.1,113.26 345.09,114.12 346.09,114.41 347.09,114.09 348.09,114.86 349.09,114.9 350.09,115.03 351.09,115.95 352.09,116.29 353.09,116.51 354.09,116.7 355.09,117.28 356.09,117.25 357.09,117.65 358.08,117.94 359.08,118.41 360.08,118.71 361.08,118.57 362.08,118.79 363.08,119.36 364.08,119.69 365.08,119.79 366.08,120.49 367.08,120.78 368.08,120.94 369.08,121.1 370.08,121.52 371.07,121.41 372.07,122.18 373.07,121.92 374.07,122.82 375.07,122.88 376.07,122.88 377.07,123.09 378.07,123.7 379.07,123.86 380.07,124.32 381.07,124.12 382.07,125.01 383.07,124.92 384.07,125.2 385.06,125.71 386.06,125.87 387.06,126 388.06,126.15 389.06,126.55 390.06,126.46 391.06,126.9 392.06,127.61 393.06,127.31 394.06,127.54 395.06,128.4 396.06,128.27 397.06,128.65 398.05,128.95 399.05,129.3 400.05,129.23 401.05,129.84 402.05,129.47 403.05,130.4 404.05,130.21 405.05,130.71 406.05,130.69 407.05,131.29 408.05,131.23 409.05,131.65 410.05,131.66 411.04,132.3 412.04,132.49 413.04,132.27 414.04,132.94 415.04,133.32 416.04,132.99 417.04,133.18 418.04,134 419.04,134.26 420.04,133.82 421.04,134.56 422.04,134.9 423.04,134.59 424.04,135.23 425.03,135.06 426.03,135.67 427.03,135.67 428.03,135.86 429.03,135.8 430.03,136.43 431.03,136.69 432.03,136.57 433.03,136.59 434.03,136.84 435.03,137.18 436.03,137.98 437.03,137.99 438.02,138.31 439.02,138.4 440.02,138.12 441.02,138.52 442.02,139.18 443.02,139.3 444.02,139.61 445.02,139.68 446.02,139.79 447.02,140.03 448.02,140.35 449.02,140.15 450.02,140.03 451.01,140.45 452.01,140.4 453.01,140.81 454.01,141.25 455.01,141.19 456.01,141.36 457.01,141.42 458.01,141.82 459.01,142.14 460.01,142.38 461.01,142.85 462.01,142.34 463.01,142.67 464.01,142.71 465,143.57 466,143.51 467,143.71 468,144.02 469,143.55 470,144.45 471,144.17" fill="none" stroke="#4646d2" stroke-width="1.1" stroke-opacity="0.88" stroke-linejoin="round"/>
<polyline points="59.8,241.6 60.8,241.42 61.8,241.7 62.8,241.34 63.8,241.32 64.8,241.3 65.8,241.68 66.8,241.46 67.8,241.22 68.8,241.38 69.8,241.55 70.8,241.4 71.77,240.39 72.74,239.43 73.72,238.13 74.69,237.14 75.66,235.64 76.63,235 77.61,233.99 78.58,232.61 79.55,231.18 80.52,230.21 81.49,229.75 82.47,228.86 83.44,227.77 84.41,226.65 85.38,225.74 86.36,224.48 87.33,223.97 88.3,223.4 89.32,222.89 90.34,223.33 91.35,223.64 92.37,223.58 93.39,223.43 94.41,223.43 95.43,223.91 96.45,224.14 97.46,224.17 98.48,223.86 99.5,224.2 100.52,221.75 101.55,218.95 102.57,216.84 103.59,214.18 104.62,211.7 105.64,209.26 106.66,207.59 107.69,205.41 108.71,202.67 109.74,200.55 110.76,198.67 111.78,196.52 112.81,194.92 113.83,192.5 114.85,190.87 115.88,188.92 116.9,186.88 117.93,187.47 118.95,187.32 119.98,187.54 121.01,187.82 122.04,187.75 123.06,187.71 124.09,188.45 125.12,188.4 126.15,188.34 127.17,188.4 128.2,188.59 129.2,184.66 130.2,180.87 131.2,177.69 132.2,174.49 133.2,170.42 134.2,167.76 135.2,163.96 136.2,161.21 137.2,157.84 138.2,154.3 139.2,151.17 140.2,148.68 141.2,145.78 142.2,142.71 143.2,139.66 144.2,136.81 145.2,134.23 146.23,134.51 147.25,134.76 148.28,134.54 149.31,135.18 150.34,135.47 151.36,135.34 152.39,135.06 153.42,135.35 154.45,135.87 155.47,135.82 156.5,136.33 157.48,132.16 158.46,128.35 159.45,124.14 160.43,120.76 161.41,117.32 162.39,113.97 163.38,110.53 164.36,106.67 165.34,103.58 166.32,100.77 167.31,96.94 168.29,93.87 169.27,90.98 170.25,88.51 171.24,85.35 172.22,82.88 173.2,80.26 174.16,80.5 175.13,80.12 176.09,80.87 177.06,81.17 178.02,81.29 178.99,81.61 179.95,81.75 180.91,81.76 181.88,82.12 182.84,82.01 183.81,81.81 184.77,82.08 185.74,82.73 186.7,82.37 187.67,78.83 188.64,75.82 189.62,72.62 190.59,69.91 191.56,67.1 192.53,64.79 193.51,62.31 194.48,60.45 195.45,58.63 196.42,57.29 197.39,55.79 198.37,54.05 199.34,53.25 200.31,51.68 201.28,50.85 202.26,49.6 203.23,49.08 204.2,48.02 205.2,48.91 206.2,48.7 207.2,49.32 208.2,49.26 209.2,49.42 210.2,50.08 211.19,49.88 212.19,50.32 213.19,50.67 214.19,51.2 215.19,51.21 216.19,50.94 217.19,51.51 218.19,52.15 219.19,52.31 220.19,52.17 221.19,52.22 222.19,52.57 223.19,53.21 224.19,52.99 225.18,53.8 226.18,53.53 227.18,54.11 228.18,54.35 229.18,54.23 230.18,54.69 231.18,55.01 232.18,54.96 233.18,55.41 234.18,55.72 235.18,56.22 236.18,55.91 237.18,56.06 238.17,56.56 239.17,56.86 240.17,57 241.17,57.57 242.17,57.23 243.17,57.71 244.17,57.91 245.17,57.92 246.17,58.35 247.17,58.58 248.17,58.74 249.17,59.28 250.17,59.68 251.16,59.89 252.16,59.51 253.16,59.86 254.16,60.54 255.16,60.07 256.16,60.3 257.16,60.5 258.16,61.44 259.16,61.29 260.16,61.46 261.16,61.41 262.16,62.25 263.16,62.56 264.16,62.53 265.15,62.93 266.15,62.87 267.15,62.88 268.15,62.99 269.15,63.3 270.15,63.39 271.15,63.78 272.15,63.73 273.15,63.94 274.15,64.84 275.15,65.01 276.15,65.19 277.15,65.03 278.14,65.32 279.14,65.6 280.14,66.01 281.14,65.83 282.14,66.2 283.14,66.44 284.14,66.88 285.14,66.69 286.14,66.62 287.14,67.14 288.14,67.73 289.14,67.36 290.14,67.93 291.13,67.74 292.13,68.05 293.13,68.53 294.13,68.32 295.13,68.8 296.13,69.1 297.13,69.14 298.13,69.63 299.13,69.91 300.13,69.65 301.13,70.23 302.13,70.42 303.13,70.49 304.13,70.68 305.12,70.86 306.12,71.19 307.12,71.35 308.12,71.2 309.12,71.7 310.12,71.94 311.12,71.93 312.12,72.47 313.12,72.2 314.12,72.58 315.12,72.78 316.12,73 317.12,72.85 318.11,73.43 319.11,73.17 320.11,73.69 321.11,73.82 322.11,74.2 323.11,74.51 324.11,74.8 325.11,74.38 326.11,75.11 327.11,74.94 328.11,75.15 329.11,74.96 330.11,75.8 331.1,75.48 332.1,75.7 333.1,75.9 334.1,76.03 335.1,76.25 336.1,76.43 337.1,76.81 338.1,76.85 339.1,77.34 340.1,77.66 341.1,77.84 342.1,77.57 343.1,77.99 344.1,78.21 345.09,78.38 346.09,78.29 347.09,78.3 348.09,78.93 349.09,79.02 350.09,78.95 351.09,79.37 352.09,79.06 353.09,79.81 354.09,80.07 355.09,80.3 356.09,79.79 357.09,80.42 358.08,80.66 359.08,80.32 360.08,80.86 361.08,80.69 362.08,80.88 363.08,80.9 364.08,81.27 365.08,81.89 366.08,81.85 367.08,82.18 368.08,82.48 369.08,81.99 370.08,82.71 371.07,82.92 372.07,82.88 373.07,82.79 374.07,82.83 375.07,83.2 376.07,83.31 377.07,83.38 378.07,83.88 379.07,84 380.07,83.86 381.07,83.95 382.07,84.37 383.07,84.7 384.07,84.82 385.06,84.96 386.06,85.33 387.06,85.37 388.06,85.28 389.06,85.67 390.06,85.77 391.06,85.66 392.06,85.68 393.06,86 394.06,86.43 395.06,86.61 396.06,86.4 397.06,86.75 398.05,86.53 399.05,87.1 400.05,87.13 401.05,87.54 402.05,87.76 403.05,87.27 404.05,88.15 405.05,87.66 406.05,88.45 407.05,88.61 408.05,88.15 409.05,88.35 410.05,88.39 411.04,89.14 412.04,89.17 413.04,89.48 414.04,89.5 415.04,89.29 416.04,89.77 417.04,89.58 418.04,89.7 419.04,89.92 420.04,90.29 421.04,90.12 422.04,90.46 423.04,90.61 424.04,90.94 425.03,90.82 426.03,90.92 427.03,91.17 428.03,91.24 429.03,91.59 430.03,91.23 431.03,91.43 432.03,91.46 433.03,91.9 434.03,92.39 435.03,92.32 436.03,92.49 437.03,92.87 438.02,92.92 439.02,92.63 440.02,92.71 441.02,93.1 442.02,92.99 443.02,93.42 444.02,93.14 445.02,93.52 446.02,93.92 447.02,93.68 448.02,93.73 449.02,94.35 450.02,94.04 451.01,94.73 452.01,94.64 453.01,94.99 454.01,94.84 455.01,94.93 456.01,94.88 457.01,94.85 458.01,95.7 459.01,95.24 460.01,95.26 461.01,96.07 462.01,95.88 463.01,96.05 464.01,96.45 465,96.42 466,96.17 467,96.32 468,96.75 469,96.89 470,96.65 471,96.8" fill="none" stroke="#6a2c88" stroke-width="1.1" stroke-opacity="0.88" stroke-linejoin="round"/>
<polyline points="59.8,240.01 60.8,239.65 61.8,240.24 62.8,240.13 63.8,239.72 64.8,240.06 65.8,240.07 66.8,239.67 67.8,239.94 68.8,240.23 69.8,239.96 70.8,240.18 71.77,238.58 72.74,238 73.72,236.56 74.69,235.32 75.66,233.75 76.63,232.91 77.61,231.53 78.58,230.8 79.55,229.53 80.52,228.54 81.49,227.56 82.47,226.43 83.44,225.55 84.41,224.75 85.38,223.49 86.36,222.89 87.33,222.27 88.3,221.18 89.32,221.55 90.34,221.06 91.35,221.66 92.37,221.48 93.39,222.18 94.41,221.96 95.43,222.26 96.45,222.42 97.46,222.01 98.48,222.09 99.5,222.75 100.52,220.22 101.55,217.43 102.57,214.66 103.59,212.26 104.62,210.52 105.64,208.12 106.66,205.59 107.69,203.59 108.71,201.5 109.74,198.7 110.76,197.17 111.78,195.27 112.81,193.13 113.83,191.13 114.85,188.8 115.88,186.99 116.9,184.69 117.93,185.43 118.95,185.5 119.98,185.46 121.01,185.33 122.04,185.57 123.06,185.88 124.09,186.42 125.12,186.18 126.15,186.6 127.17,186.16 128.2,186.3 129.2,182.61 130.2,179.04 131.2,175.89 132.2,172.06 133.2,168.6 134.2,165.52 135.2,162.02 136.2,159.12 137.2,155.78 138.2,152.75 139.2,149.34 140.2,146.29 141.2,143.36 142.2,140.86 143.2,137.95 144.2,134.83 145.2,131.99 146.23,131.91 147.25,132.78 148.28,132.8 149.31,132.85 150.34,132.84 151.36,133.26 152.39,133.62 153.42,133.42 154.45,133.56 155.47,133.89 156.5,134 157.48,129.73 158.46,125.98 159.45,122.53 160.43,119.18 161.41,115.39 162.39,111.65 163.38,108.46 164.36,105.13 165.34,102.37 166.32,98.8 167.31,96.34 168.29,92.79 169.27,89.78 170.25,86.79 171.24,84.38 172.22,81.68 173.2,79.22 174.16,79.29 175.13,79.33 176.09,79.07 177.06,79.9 178.02,79.48 178.99,79.58 179.95,79.64 180.91,80.07 181.88,80.22 182.84,80.04 183.81,80.08 184.77,79.96 185.74,80.5 186.7,80.67 187.67,76.76 188.64,73.72 189.62,71.26 190.59,68.6 191.56,65.73 192.53,64.21 193.51,61.98 194.48,60.14 195.45,58.14 196.42,57.11 197.39,55.28 198.37,54.15 199.34,53.24 200.31,52.05 201.28,50.53 202.26,49.59 203.23,48.82 204.2,48 205.2,48.67 206.2,48.46 207.2,48.47 208.2,48.44 209.2,48.6 210.2,48.61 211.19,48.9 212.19,48.71 213.19,49.13 214.19,49.17 215.19,49.25 216.19,49.21 217.19,48.8 218.19,49.06 219.19,49.45 220.19,49.12 221.19,49.34 222.19,49.11 223.19,49.65 224.19,49.31 225.18,49.39 226.18,49.8 227.18,49.27 228.18,49.26 229.18,49.64 230.18,49.71 231.18,49.49 232.18,49.77 233.18,50.12 234.18,50.26 235.18,50.34 236.18,50.28 237.18,49.75 238.17,50.03 239.17,50.15 240.17,49.86 241.17,50.5 242.17,50.15 243.17,50.59 244.17,50.56 245.17,50.27 246.17,50.38 247.17,50.51 248.17,50.35 249.17,50.24 250.17,50.61 251.16,50.5 252.16,50.56 253.16,51.03 254.16,51.04 255.16,50.81 256.16,50.55 257.16,51.18 258.16,50.82 259.16,50.73 260.16,51.29 261.16,51.45 262.16,50.97 263.16,51.24 264.16,51.55 265.15,51.29 266.15,51.19 267.15,51.08 268.15,51.01 269.15,51.74 270.15,51.71 271.15,51.24 272.15,51.65 273.15,51.32 274.15,51.8 275.15,51.54 276.15,51.83 277.15,51.73 278.14,51.41 279.14,51.83 280.14,51.93 281.14,51.48 282.14,51.5 283.14,51.72 284.14,52.11 285.14,52.35 286.14,51.96 287.14,52.32 288.14,52.23 289.14,51.91 290.14,52.08 291.13,52.43 292.13,52.17 293.13,52.22 294.13,52.42 295.13,51.99 296.13,52.27 297.13,52.35 298.13,52.42 299.13,52.54 300.13,52.24 301.13,52.43 302.13,52.44 303.13,52.18 304.13,52.76 305.12,52.92 306.12,52.63 307.12,52.54 308.12,52.53 309.12,52.63 310.12,52.59 311.12,52.53 312.12,53.1 313.12,52.66 314.12,52.56 315.12,52.94 316.12,52.44 317.12,52.75 318.11,52.94 319.11,53.17 320.11,52.78 321.11,52.6 322.11,53.36 323.11,52.62 324.11,52.97 325.11,53.06 326.11,53.47 327.11,52.99 328.11,52.92 329.11,52.97 330.11,53.07 331.1,52.91 332.1,53.53 333.1,53.24 334.1,53.44 335.1,53.1 336.1,53.43 337.1,53.65 338.1,53.12 339.1,53.72 340.1,53.21 341.1,53.57 342.1,53.77 343.1,53.41 344.1,53.8 345.09,53.39 346.09,53.45 347.09,53.86 348.09,53.62 349.09,53.2 350.09,53.29 351.09,53.62 352.09,53.48 353.09,53.27 354.09,53.9 355.09,53.52 356.09,54 357.09,53.59 358.08,53.46 359.08,53.67 360.08,54.01 361.08,54.09 362.08,53.84 363.08,53.6 364.08,53.84 365.08,53.65 366.08,53.74 367.08,53.47 368.08,53.5 369.08,54.25 370.08,54.13 371.07,53.73 372.07,54.04 373.07,53.6 374.07,54.24 375.07,54.08 376.07,54.18 377.07,53.97 378.07,53.99 379.07,54.31 380.07,53.92 381.07,53.74 382.07,53.79 383.07,54.44 384.07,53.95 385.06,53.79 386.06,54.21 387.06,53.87 388.06,54.12 389.06,54.41 390.06,53.99 391.06,54.16 392.06,54.58 393.06,54.54 394.06,54.56 395.06,53.9 396.06,54.66 397.06,54.35 398.05,54.03 399.05,54.71 400.05,54.03 401.05,54.74 402.05,53.99 403.05,54.04 404.05,54.36 405.05,54.48 406.05,54.48 407.05,54.67 408.05,54.12 409.05,54.62 410.05,54.31 411.04,54.83 412.04,54.58 413.04,54.64 414.04,54.21 415.04,54.84 416.04,54.35 417.04,54.3 418.04,54.48 419.04,54.78 420.04,54.42 421.04,54.55 422.04,54.67 423.04,54.39 424.04,54.3 425.03,54.54 426.03,54.8 427.03,54.78 428.03,54.41 429.03,54.78 430.03,54.93 431.03,54.84 432.03,54.43 433.03,54.33 434.03,55.09 435.03,54.88 436.03,54.54 437.03,54.92 438.02,54.8 439.02,54.85 440.02,54.64 441.02,54.9 442.02,54.68 443.02,54.69 444.02,54.65 445.02,54.99 446.02,55.1 447.02,54.65 448.02,54.49 449.02,54.64 450.02,55.05 451.01,54.74 452.01,54.47 453.01,55.14 454.01,54.82 455.01,54.54 456.01,55.09 457.01,54.9 458.01,55.18 459.01,55.18 460.01,55.18 461.01,55.23 462.01,54.84 463.01,55.19 464.01,54.95 465,55.08 466,54.74 467,55.07 468,54.64 469,55.27 470,54.74 471,55.06" fill="none" stroke="#88d4dc" stroke-width="1.1" stroke-opacity="0.88" stroke-linejoin="round"/>
<polyline points="59.8,239.27 60.8,239.26 61.8,239.28 62.8,238.94 63.8,238.66 64.8,239.39 65.8,238.84 66.8,239.29 67.8,238.93 68.8,238.95 69.8,239.03 70.8,239.04 71.77,237.98 72.74,236.6 73.72,235.06 74.69,234.17 75.66,232.66 76.63,232.12 77.61,230.46 78.58,229.5 79.55,228.59 80.52,227.32 81.49,226.71 82.47,225.6 83.44,224.21 84.41,223.29 85.38,222.55 86.36,221.4 87.33,220.55 88.3,219.37 89.32,219.68 90.34,219.82 91.35,220.18 92.37,219.84 93.39,220.29 94.41,219.91 95.43,220.06 96.45,220.09 97.46,220.72 98.48,220.11 99.5,220.33 100.52,217.91 101.55,215.58 102.57,213.07 103.59,210.2 104.62,208.03 105.64,205.95 106.66,203.18 107.69,200.89 108.71,199.23 109.74,196.38 110.76,194.3 111.78,192.27 112.81,190.71 113.83,188.28 114.85,186.35 115.88,184.47 116.9,182.81 117.93,182.32 118.95,182.62 119.98,182.96 121.01,183.3 122.04,183.04 123.06,183.41 124.09,183.64 125.12,183.35 126.15,183.67 127.17,183.56 128.2,184.33 129.2,179.86 130.2,176.3 131.2,173.05 132.2,169.19 133.2,165.98 134.2,162.36 135.2,159.51 136.2,155.86 137.2,152.44 138.2,149.1 139.2,146.2 140.2,143.35 141.2,140.28 142.2,137.29 143.2,134.21 144.2,131.67 145.2,128.42 146.23,128.73 147.25,129.23 148.28,129.27 149.31,129.17 150.34,129.57 151.36,129.68 152.39,129.42 153.42,129.62 154.45,130.01 155.47,129.81 156.5,129.88 157.48,126.15 158.46,121.99 159.45,118.44 160.43,115.4 161.41,111.28 162.39,108.28 163.38,104.27 164.36,101.22 165.34,98.17 166.32,94.87 167.31,92.31 168.29,89.33 169.27,85.87 170.25,82.89 171.24,80.72 172.22,77.9 173.2,75.02 174.16,74.85 175.13,75 176.09,75.72 177.06,75.89 178.02,75.88 178.99,75.92 179.95,76.02 180.91,76.23 181.88,76.39 182.84,76.67 183.81,76.63 184.77,76.67 185.74,76.68 186.7,77.13 187.67,74.29 188.64,70.89 189.62,68.8 190.59,66.36 191.56,63.88 192.53,61.84 193.51,60.61 194.48,58.42 195.45,56.89 196.42,55.5 197.39,54.82 198.37,53.32 199.34,51.96 200.31,51.22 201.28,50.53 202.26,49.69 203.23,48.69 204.2,48.58 205.2,48.54 206.2,48.28 207.2,48.39 208.2,48.42 209.2,48.31 210.2,48.86 211.19,48.66 212.19,49.05 213.19,49.27 214.19,48.93 215.19,48.97 216.19,49.11 217.19,49.27 218.19,49 219.19,49.35 220.19,49.36 221.19,49.27 222.19,49.92 223.19,49.88 224.19,49.78 225.18,49.52 226.18,50.11 227.18,49.9 228.18,50.37 229.18,50.25 230.18,50 231.18,50.47 232.18,50.41 233.18,50.29 234.18,50.71 235.18,50.4 236.18,50.32 237.18,50.3 238.17,50.82 239.17,50.61 240.17,50.58 241.17,50.56 242.17,51.2 243.17,50.87 244.17,51.39 245.17,51.48 246.17,51.48 247.17,51.07 248.17,51.7 249.17,51.51 250.17,51.75 251.16,51.85 252.16,51.44 253.16,51.54 254.16,52.02 255.16,51.59 256.16,51.5 257.16,51.5 258.16,51.98 259.16,51.83 260.16,52.4 261.16,51.71 262.16,52.07 263.16,52.38 264.16,52.35 265.15,52.58 266.15,52.49 267.15,52.72 268.15,52.85 269.15,52.82 270.15,52.66 271.15,52.55 272.15,52.71 273.15,52.51 274.15,52.59 275.15,52.85 276.15,52.84 277.15,52.85 278.14,52.66 279.14,53.42 280.14,52.95 281.14,53.12 282.14,53.06 283.14,53.28 284.14,53.51 285.14,53.68 286.14,53.46 287.14,53.77 288.14,53.36 289.14,53.49 290.14,53.43 291.13,53.98 292.13,53.36 293.13,53.48 294.13,53.96 295.13,53.58 296.13,53.48 297.13,53.77 298.13,53.89 299.13,53.93 300.13,53.79 301.13,53.93 302.13,53.92 303.13,53.88 304.13,54.18 305.12,54 306.12,54.01 307.12,54.65 308.12,54.65 309.12,54.29 310.12,54.45 311.12,54.14 312.12,54.12 313.12,54.56 314.12,54.94 315.12,54.29 316.12,54.63 317.12,54.94 318.11,54.35 319.11,54.85 320.11,54.63 321.11,55.06 322.11,55.15 323.11,55.24 324.11,55.19 325.11,54.67 326.11,55.17 327.11,55.12 328.11,54.95 329.11,54.91 330.11,55.16 331.1,55.16 332.1,55.18 333.1,55.65 334.1,55.11 335.1,55.64 336.1,55.11 337.1,55.58 338.1,55.42 339.1,55.41 340.1,55.51 341.1,55.27 342.1,55.37 343.1,55.56 344.1,55.42 345.09,55.97 346.09,55.88 347.09,55.86 348.09,55.95 349.09,55.55 350.09,55.46 351.09,55.55 352.09,56.22 353.09,55.94 354.09,56.36 355.09,55.87 356.09,55.95 357.09,56.19 358.08,56.38 359.08,56.07 360.08,56.14 361.08,56.07 362.08,56.01 363.08,56.57 364.08,56.6 365.08,56.25 366.08,56.04 367.08,56.66 368.08,56.36 369.08,56.61 370.08,56.38 371.07,56.13 372.07,56.69 373.07,56.21 374.07,56.9 375.07,56.31 376.07,56.48 377.07,56.23 378.07,56.43 379.07,56.8 380.07,56.38 381.07,56.43 382.07,56.41 383.07,56.4 384.07,56.82 385.06,56.62 386.06,57.07 387.06,57.03 388.06,56.92 389.06,57.28 390.06,57.34 391.06,56.83 392.06,57.23 393.06,57.19 394.06,56.81 395.06,57.31 396.06,56.73 397.06,57.27 398.05,57.48 399.05,57.29 400.05,57.35 401.05,57.35 402.05,57.17 403.05,56.95 404.05,57.19 405.05,57.16 406.05,57.58 407.05,57.66 408.05,57.75 409.05,57.26 410.05,57.73 411.04,57.76 412.04,57.08 413.04,57.52 414.04,57.18 415.04,57.19 416.04,57.5 417.04,57.73 418.04,57.33 419.04,57.46 420.04,57.61 421.04,57.68 422.04,57.36 423.04,57.42 424.04,57.32 425.03,57.58 426.03,58.13 427.03,57.51 428.03,57.99 429.03,57.92 430.03,58.11 431.03,58.08 432.03,57.51 433.03,57.74 434.03,58.16 435.03,58.03 436.03,58.21 437.03,57.57 438.02,58.24 439.02,57.9 440.02,58.23 441.02,58.09 442.02,57.92 443.02,58.08 444.02,57.69 445.02,58.44 446.02,58.41 447.02,58.24 448.02,58.26 449.02,58.35 450.02,58.13 451.01,57.98 452.01,58.33 453.01,58.61 454.01,58.53 455.01,58.49 456.01,58 457.01,58.14 458.01,58.13 459.01,58.37 460.01,58.66 461.01,58.45 462.01,58.43 463.01,58.32 464.01,58.14 465,58.22 466,58.81 467,58.77 468,58.58 469,58.62 470,58.27 471,58.12" fill="none" stroke="#c46ae0" stroke-width="1.1" stroke-opacity="0.88" stroke-linejoin="round"/>
<line x1="61.3" y1="234.4" x2="61.3" y2="249" stroke="#888" stroke-width="1" stroke-opacity="0.6"/>
<line x1="88.4" y1="221.4" x2="88.4" y2="242.8" stroke="#888" stroke-width="1" stroke-opacity="0.6"/>
<line x1="99.5" y1="218" x2="99.5" y2="232" stroke="#888" stroke-width="1" stroke-opacity="0.6"/>
<line x1="117" y1="178" x2="117" y2="196" stroke="#888" stroke-width="1" stroke-opacity="0.6"/>
<line x1="128.2" y1="186" x2="128.2" y2="200" stroke="#888" stroke-width="1" stroke-opacity="0.6"/>
<line x1="145.2" y1="120" x2="145.2" y2="168.9" stroke="#888" stroke-width="1" stroke-opacity="0.6"/>
<line x1="156.5" y1="128" x2="156.5" y2="160" stroke="#888" stroke-width="1" stroke-opacity="0.6"/>
<line x1="173.2" y1="68" x2="173.2" y2="112" stroke="#888" stroke-width="1" stroke-opacity="0.6"/>
<line x1="186.7" y1="84" x2="186.7" y2="124" stroke="#888" stroke-width="1" stroke-opacity="0.6"/>
<line x1="204.2" y1="45" x2="204.2" y2="65.7" stroke="#888" stroke-width="1" stroke-opacity="0.6"/>
<line x1="71" y1="236" x2="71" y2="250" stroke="#4646d2" stroke-width="1.3" stroke-opacity="0.8"/>
<line x1="71" y1="227" x2="71" y2="236" stroke="#888" stroke-width="1" stroke-opacity="0.5"/>
<line x1="364" y1="50" x2="364" y2="60" stroke="#b07070" stroke-width="1" stroke-opacity="0.85"/>
<line x1="361.5" y1="55" x2="366.5" y2="55" stroke="#b07070" stroke-width="1" stroke-opacity="0.6"/>
<line x1="364" y1="78" x2="364" y2="86" stroke="#6a2c88" stroke-width="1" stroke-opacity="0.85"/>
<line x1="361.5" y1="82" x2="366.5" y2="82" stroke="#6a2c88" stroke-width="1" stroke-opacity="0.6"/>
<line x1="364" y1="116" x2="364" y2="124" stroke="#4646d2" stroke-width="1" stroke-opacity="0.85"/>
<line x1="361.5" y1="120" x2="366.5" y2="120" stroke="#4646d2" stroke-width="1" stroke-opacity="0.6"/>
<line x1="364" y1="146" x2="364" y2="154" stroke="#58b04a" stroke-width="1" stroke-opacity="0.85"/>
<line x1="361.5" y1="150" x2="366.5" y2="150" stroke="#58b04a" stroke-width="1" stroke-opacity="0.6"/>
<line x1="364" y1="163" x2="364" y2="171" stroke="#60905a" stroke-width="1" stroke-opacity="0.85"/>
<line x1="361.5" y1="167" x2="366.5" y2="167" stroke="#60905a" stroke-width="1" stroke-opacity="0.6"/>
<line x1="468.6" y1="49" x2="468.6" y2="62.5" stroke="#a08090" stroke-width="1" stroke-opacity="0.85"/>
<line x1="466.1" y1="55.75" x2="471.1" y2="55.75" stroke="#a08090" stroke-width="1" stroke-opacity="0.6"/>
<line x1="468.6" y1="90" x2="468.6" y2="104" stroke="#6a2c88" stroke-width="1" stroke-opacity="0.85"/>
<line x1="466.1" y1="97" x2="471.1" y2="97" stroke="#6a2c88" stroke-width="1" stroke-opacity="0.6"/>
<line x1="468.6" y1="134" x2="468.6" y2="156" stroke="#4646d2" stroke-width="1" stroke-opacity="0.85"/>
<line x1="466.1" y1="145" x2="471.1" y2="145" stroke="#4646d2" stroke-width="1" stroke-opacity="0.6"/>
<line x1="468.6" y1="168" x2="468.6" y2="182" stroke="#58b04a" stroke-width="1" stroke-opacity="0.85"/>
<line x1="466.1" y1="175" x2="471.1" y2="175" stroke="#58b04a" stroke-width="1" stroke-opacity="0.6"/>
<line x1="468.6" y1="175" x2="468.6" y2="186" stroke="#d8c870" stroke-width="1" stroke-opacity="0.85"/>
<line x1="466.1" y1="180.5" x2="471.1" y2="180.5" stroke="#d8c870" stroke-width="1" stroke-opacity="0.6"/>
<line x1="468.6" y1="189" x2="468.6" y2="202" stroke="#60905a" stroke-width="1" stroke-opacity="0.85"/>
<line x1="466.1" y1="195.5" x2="471.1" y2="195.5" stroke="#60905a" stroke-width="1" stroke-opacity="0.6"/>
<text x="0" y="339" font-size="30" font-weight="bold" fill="#000" transform="translate(-0.3,0) scale(0.94,1)">B</text>
<line x1="59.2" y1="319.5" x2="59.2" y2="610.4" stroke="#666" stroke-width="1"/>
<line x1="56.7" y1="331.2" x2="61.2" y2="331.2" stroke="#666" stroke-width="1"/>
<line x1="56.7" y1="365.86" x2="61.2" y2="365.86" stroke="#666" stroke-width="1"/>
<line x1="56.7" y1="400.52" x2="61.2" y2="400.52" stroke="#666" stroke-width="1"/>
<line x1="56.7" y1="435.18" x2="61.2" y2="435.18" stroke="#666" stroke-width="1"/>
<line x1="56.7" y1="469.84" x2="61.2" y2="469.84" stroke="#666" stroke-width="1"/>
<line x1="56.7" y1="504.5" x2="61.2" y2="504.5" stroke="#666" stroke-width="1"/>
<line x1="56.7" y1="539.16" x2="61.2" y2="539.16" stroke="#666" stroke-width="1"/>
<line x1="56.7" y1="573.82" x2="61.2" y2="573.82" stroke="#666" stroke-width="1"/>
<line x1="57" y1="608.4" x2="441.6" y2="608.4" stroke="#666" stroke-width="1"/>
<line x1="59.2" y1="606.4" x2="59.2" y2="610.4" stroke="#666" stroke-width="1"/>
<line x1="91.13" y1="606.4" x2="91.13" y2="610.4" stroke="#666" stroke-width="1"/>
<line x1="123.06" y1="606.4" x2="123.06" y2="610.4" stroke="#666" stroke-width="1"/>
<line x1="154.99" y1="606.4" x2="154.99" y2="610.4" stroke="#666" stroke-width="1"/>
<line x1="186.92" y1="606.4" x2="186.92" y2="610.4" stroke="#666" stroke-width="1"/>
<line x1="218.85" y1="606.4" x2="218.85" y2="610.4" stroke="#666" stroke-width="1"/>
<line x1="250.78" y1="606.4" x2="250.78" y2="610.4" stroke="#666" stroke-width="1"/>
<line x1="282.71" y1="606.4" x2="282.71" y2="610.4" stroke="#666" stroke-width="1"/>
<line x1="314.64" y1="606.4" x2="314.64" y2="610.4" stroke="#666" stroke-width="1"/>
<line x1="346.57" y1="606.4" x2="346.57" y2="610.4" stroke="#666" stroke-width="1"/>
<line x1="378.5" y1="606.4" x2="378.5" y2="610.4" stroke="#666" stroke-width="1"/>
<line x1="410.43" y1="606.4" x2="410.43" y2="610.4" stroke="#666" stroke-width="1"/>
<line x1="442.36" y1="606.4" x2="442.36" y2="610.4" stroke="#666" stroke-width="1"/>
<text x="54.8" y="335.2" font-size="16" text-anchor="end" fill="#111">180</text>
<text x="54.3" y="394" font-size="16" text-anchor="end" fill="#111">RU</text>
<text x="54.8" y="469.2" font-size="16" text-anchor="end" fill="#111">80</text>
<text x="55.3" y="584" font-size="16" text-anchor="end" fill="#111">0</text>
<text x="45.5" y="624.6" font-size="16.3" fill="#111">500</text>
<text x="121.8" y="626.5" font-size="16.3" fill="#111">time (sec)</text>
<text x="236.4" y="625" font-size="16.3" fill="#111">2000</text>
<text x="363" y="625" font-size="16.3" fill="#111">3000</text>
<text x="252.8" y="335" font-size="16" fill="#111">Mab I54 (Type A)</text>
<line x1="179.4" y1="441.3" x2="194.6" y2="441.3" stroke="#d04848" stroke-width="1.5" stroke-opacity="0.9"/>
<text x="199.7" y="446.4" font-size="14" fill="#111">N2225A</text>
<line x1="179.4" y1="462.44" x2="194.6" y2="462.44" stroke="#66a866" stroke-width="1.5" stroke-opacity="0.9"/>
<text x="199.7" y="467.42" font-size="14" fill="#111">Q2213A</text>
<line x1="179.4" y1="483.58" x2="194.6" y2="483.58" stroke="#4c4cc8" stroke-width="1.5" stroke-opacity="0.9"/>
<text x="199.7" y="488.44" font-size="14" fill="#111">Q2270A</text>
<line x1="179.4" y1="504.72" x2="194.6" y2="504.72" stroke="#c45ce0" stroke-width="1.5" stroke-opacity="0.9"/>
<text x="199.7" y="509.46" font-size="14" fill="#111">T2272A</text>
<line x1="179.4" y1="525.86" x2="194.6" y2="525.86" stroke="#80d8e8" stroke-width="1.5" stroke-opacity="0.9"/>
<text x="199.7" y="530.48" font-size="14" fill="#111">WTC2</text>
<line x1="179.4" y1="547" x2="194.6" y2="547" stroke="#d8c464" stroke-width="1.5" stroke-opacity="0.9"/>
<text x="199.7" y="551.5" font-size="14" fill="#111">Y2195A</text>
<polyline points="59.8,581.62 60.81,581.61 61.83,581.76 62.84,582.38 63.86,582.06 64.87,581.78 65.89,581.67 66.9,581.61 67.91,581.61 68.93,581.71 69.94,581.87 70.96,581.72 71.97,581.78 72.99,582.1 74,581.7 75,581.62 76,582.04 77,581.56 77.99,581.75 78.99,581.39 79.99,581.63 80.99,581 81.99,581.12 82.99,581.51 83.99,580.97 84.98,581.17 85.98,580.74 86.98,580.58 87.98,580.75 88.98,580.7 89.98,580.28 90.98,580.6 91.97,580.44 92.97,580.31 93.97,580.56 94.97,580.59 95.97,580.13 96.97,579.98 97.97,580.28 98.96,580.2 99.96,579.94 100.96,579.95 101.96,579.67 102.96,579.91 103.96,579.73 104.96,579.89 105.96,579.38 106.95,579.13 107.95,579.71 108.95,579.43 109.95,579.54 110.95,579.44 111.95,579.4 112.95,579.02 113.94,579.36 114.94,579.11 115.94,578.88 116.94,578.64 117.94,578.52 118.94,578.58 119.94,578.6 120.93,578.55 121.93,578.73 122.93,578.95 123.93,578.58 124.93,578.61 125.93,578.04 126.93,578.54 127.92,578.36 128.92,578.5 129.92,578.11 130.92,578.3 131.92,578.15 132.92,578.32 133.92,577.99 134.91,578.26 135.91,578.25 136.91,577.94 137.91,577.87 138.91,577.99 139.91,577.8 140.91,578.12 141.9,578.05 142.9,577.66 143.9,577.77 144.9,577.27 145.9,577.87 146.9,577.6 147.9,577.09 148.89,577.04 149.89,577.68 150.89,577.6 151.89,577.44 152.89,577.25 153.89,577.1 154.89,577.27 155.88,577.59 156.88,577.35 157.88,576.86 158.88,576.97 159.88,576.86 160.88,577.46 161.88,577.43 162.88,577.47 163.87,577.05 164.87,576.93 165.87,576.7 166.87,576.83 167.87,576.87 168.87,576.87 169.87,576.79 170.86,577.06 171.86,577.12 172.86,576.69 173.86,576.99 174.86,576.51 175.86,576.42 176.86,576.7 177.85,575.85 178.85,575.5 179.85,575.94 180.85,575.38 181.85,575.35 182.85,575.73 183.85,575.96 184.84,575.7 185.84,576.22 186.84,575.89 187.84,576.81 188.84,576.81 189.84,577.17 190.84,577.22 191.83,577.52 192.83,577.91 193.83,577.71 194.83,578.16 195.83,578.44 196.83,577.89 197.83,578.28 198.82,578.16 199.82,578.2 200.82,578.34 201.82,578.12 202.82,578.41 203.82,577.88 204.82,578.31 205.81,578.2 206.81,577.95 207.81,577.99 208.81,578.57 209.81,578.33 210.81,578.23 211.81,578.24 212.8,578.53 213.8,578.37 214.8,578.05 215.8,578.63 216.8,578.56 217.8,578.52 218.8,578.47 219.79,578.44 220.79,578.17 221.79,578.7 222.79,578.49 223.79,578.06 224.79,578.58 225.79,578.28 226.79,577.99 227.78,578.66 228.78,578.13 229.78,578.3 230.78,578.04 231.78,578.38 232.78,578.4 233.78,578.63 234.77,578.74 235.77,578.69 236.77,578.52 237.77,578.3 238.77,578.74 239.77,578.17 240.77,578.24 241.76,578.44 242.76,578.29 243.76,578.45 244.76,578.09 245.76,578.19 246.76,578.01 247.76,578.34 248.75,578.19 249.75,578.65 250.75,578.2 251.75,578.15 252.75,578.57 253.75,578.16 254.75,578.67 255.74,578.42 256.74,578.11 257.74,578.56 258.74,578.8 259.74,578.25 260.74,578.44 261.74,578.44 262.73,578.76 263.73,578.79 264.73,578.05 265.73,578.31 266.73,578.65 267.73,578.33 268.73,578.41 269.72,578.45 270.72,578.01 271.72,578.03 272.72,578.72 273.72,578.32 274.72,578.35 275.72,578.45 276.71,578.6 277.71,578.71 278.71,578.06 279.71,578.5 280.71,578 281.71,578.43 282.71,578.65 283.71,578.38 284.7,578.29 285.7,578.68 286.7,578.55 287.7,578.73 288.7,578.43 289.7,578.24 290.7,578.55 291.69,578.38 292.69,577.99 293.69,578.1 294.69,578.76 295.69,578.51 296.69,578.02 297.69,578.59 298.68,578.6 299.68,578.03 300.68,578.78 301.68,578.13 302.68,578.39 303.68,578.56 304.68,578.38 305.67,578.26 306.67,578.37 307.67,578.49 308.67,578.75 309.67,578.69 310.67,578.77 311.67,578.63 312.66,578.36 313.66,578.26 314.66,578.71 315.66,578.72 316.66,578.22 317.66,578.6 318.66,578.25 319.65,578.02 320.65,578.35 321.65,578.69 322.65,578.4 323.65,578.62 324.65,578.64 325.65,578.6 326.64,578.2 327.64,578.69 328.64,578.03 329.64,578.36 330.64,578.03 331.64,578.26 332.64,578.67 333.63,578.61 334.63,578.75 335.63,578.4 336.63,578.37 337.63,578.08 338.63,578.33 339.63,578.67 340.62,578.21 341.62,578.62 342.62,578.18 343.62,578.58 344.62,578.09 345.62,578.7 346.62,578.02 347.62,577.99 348.61,578.38 349.61,578.55 350.61,578.49 351.61,578.24 352.61,578.49 353.61,578.08 354.61,578.17 355.6,578.14 356.6,578.09 357.6,577.94 358.6,578.07 359.6,578.33 360.6,578.38 361.6,578.16 362.59,578.38 363.59,578.15 364.59,578.53 365.59,577.89 366.59,578.5 367.59,578.6 368.59,578.34 369.58,578.38 370.58,578.65 371.58,577.98 372.58,577.94 373.58,578.26 374.58,578.43 375.58,578.28 376.57,578.23 377.57,578.19 378.57,578.21 379.57,578.54 380.57,577.89 381.57,578.35 382.57,577.9 383.56,578.49 384.56,578.03 385.56,578.45 386.56,578.06 387.56,578.31 388.56,578.21 389.56,578.56 390.55,578.17 391.55,578.2 392.55,578.18 393.55,577.98 394.55,578.53 395.55,578.04 396.55,577.88 397.54,577.93 398.54,578.33 399.54,578.47 400.54,578.22 401.54,578.5 402.54,577.91 403.54,578.44 404.54,578.34 405.53,577.89 406.53,577.79 407.53,578.05 408.53,578.04 409.53,578.09 410.53,578.27 411.53,577.87 412.52,577.88 413.52,577.94 414.52,577.8 415.52,578.01 416.52,578.13 417.52,577.87 418.52,577.75 419.51,578.22 420.51,577.7 421.51,578.31 422.51,578.11 423.51,577.79 424.51,577.61 425.51,578.24 426.5,577.39 427.5,577.67 428.5,577.14 429.5,576.95" fill="none" stroke="#66a866" stroke-width="1.1" stroke-opacity="0.9" stroke-linejoin="round"/>
<polyline points="59.8,583.26 60.81,583.68 61.83,583.3 62.84,583.57 63.86,583.87 64.87,583.58 65.89,583.23 66.9,583.29 67.91,583.43 68.93,583.76 69.94,583.74 70.96,583.41 71.97,583.57 72.99,583.38 74,583.49 75,581.56 76,580.3 77,578.1 78,576.33 79,574.88 80,572.88 81,571.15 82,569.78 83,568.48 84,566.52 85,564.89 86,563.35 87,562.07 88,560.3 89,559.03 90.03,559.08 91.06,558.77 92.09,559.05 93.12,559.51 94.15,559.07 95.18,559.55 96.21,559.05 97.24,559.42 98.27,559.4 99.3,559.62 100.31,553.01 101.31,547.09 102.32,541.39 103.33,535.97 104.34,529.88 105.34,524.49 106.35,518.63 107.36,513.48 108.36,507.31 109.37,502.59 110.38,496.81 111.39,491.57 112.39,486.68 113.4,481.53 114.38,482.07 115.36,482.1 116.35,481.99 117.33,481.67 118.31,481.72 119.29,481.94 120.27,481.89 121.25,481.86 122.24,481.89 123.22,481.97 124.2,482.04 125.21,472.4 126.23,463.67 127.24,455.84 128.26,447.93 129.27,440.42 130.29,433.81 131.3,427.35 132.31,420.62 133.33,414.92 134.34,409.83 135.36,405 136.37,400.7 137.39,395.53 138.4,391.96 139.38,392.12 140.36,391.78 141.35,392.26 142.33,392.41 143.31,391.86 144.29,392.38 145.27,392.29 146.25,392.58 147.24,392.13 148.22,392.59 149.2,392.11 150.21,387.95 151.23,384.44 152.24,380.86 153.26,377.7 154.27,374.56 155.29,372.47 156.3,369.51 157.31,367.29 158.33,365.07 159.34,363.56 160.36,361.22 161.37,360.21 162.39,358.12 163.4,357.3 164.4,357.05 165.4,357.29 166.4,357.1 167.4,357.65 168.4,357.26 169.4,357.78 170.4,357.75 171.4,358.01 172.4,358.14 173.4,358.04 174.42,356.61 175.45,356.31 176.47,355.02 177.49,354.96 178.52,354.49 179.54,353.38 180.56,352.88 181.59,353.12 182.61,352.42 183.64,352.39 184.66,352.25 185.68,352.12 186.71,351.59 187.73,351.68 188.75,351.58 189.78,351.33 190.8,350.9 191.8,351.41 192.8,351.1 193.8,351.56 194.79,351.23 195.79,351.39 196.79,351.11 197.79,351.24 198.79,351.98 199.79,351.68 200.79,351.98 201.79,351.85 202.78,352.13 203.78,352.04 204.78,351.82 205.78,352.03 206.78,352.36 207.78,352.06 208.78,352.76 209.78,352.13 210.77,352.61 211.77,352.93 212.77,352.89 213.77,352.49 214.77,352.53 215.77,353.09 216.77,352.92 217.77,352.74 218.76,352.84 219.76,353.34 220.76,352.9 221.76,353.18 222.76,353.77 223.76,353.28 224.76,353.83 225.76,353.24 226.75,353.44 227.75,353.39 228.75,354 229.75,353.93 230.75,354.16 231.75,354.26 232.75,354.25 233.75,353.82 234.74,354.16 235.74,353.88 236.74,354.55 237.74,354.27 238.74,354.4 239.74,354.8 240.74,354.93 241.74,354.68 242.73,354.56 243.73,355.01 244.73,355.04 245.73,354.59 246.73,354.84 247.73,355.29 248.73,355.37 249.73,355.37 250.72,355.08 251.72,354.88 252.72,355.51 253.72,355.02 254.72,355.39 255.72,355.27 256.72,355.69 257.72,355.36 258.71,355.42 259.71,355.85 260.71,355.8 261.71,356.07 262.71,355.41 263.71,355.47 264.71,355.96 265.71,355.87 266.7,356.23 267.7,355.94 268.7,355.65 269.7,356.05 270.7,355.91 271.7,356.4 272.7,356.46 273.7,356.55 274.69,355.99 275.69,356.4 276.69,356.16 277.69,356.83 278.69,356.21 279.69,356.66 280.69,356.76 281.69,356.39 282.68,356.74 283.68,356.42 284.68,356.41 285.68,356.63 286.68,356.51 287.68,356.85 288.68,357.08 289.68,357.32 290.67,356.84 291.67,357.05 292.67,357.26 293.67,357.01 294.67,357.05 295.67,357.14 296.67,357.55 297.67,357.21 298.66,357.58 299.66,357.12 300.66,357.29 301.66,357.32 302.66,357.31 303.66,357.3 304.66,357.53 305.66,357.9 306.65,357.82 307.65,358.12 308.65,357.62 309.65,357.65 310.65,357.64 311.65,357.88 312.65,357.62 313.65,358.2 314.64,357.94 315.64,357.67 316.64,358.08 317.64,358.06 318.64,357.9 319.64,358.03 320.64,358.36 321.64,358.66 322.63,358.38 323.63,358.14 324.63,358 325.63,358.27 326.63,358.23 327.63,358.42 328.63,358.48 329.63,358.38 330.62,358.32 331.62,358.97 332.62,359.02 333.62,358.87 334.62,359.07 335.62,358.82 336.62,358.99 337.62,358.79 338.61,359 339.61,359.19 340.61,359.11 341.61,359.21 342.61,359.1 343.61,358.92 344.61,359.32 345.61,359.43 346.6,358.94 347.6,358.92 348.6,358.82 349.6,359.05 350.6,359.03 351.6,359.08 352.6,359.09 353.6,359.24 354.59,359.16 355.59,359.82 356.59,359.14 357.59,359.13 358.59,359.89 359.59,359.49 360.59,359.82 361.59,359.51 362.58,359.3 363.58,359.35 364.58,360.09 365.58,359.42 366.58,359.77 367.58,359.66 368.58,359.99 369.58,359.81 370.57,360.19 371.57,359.74 372.57,360.03 373.57,360.42 374.57,360.09 375.57,360.46 376.57,359.76 377.57,360.46 378.56,360.1 379.56,360.61 380.56,360.41 381.56,360.08 382.56,360.52 383.56,360.07 384.56,360.39 385.56,360.59 386.55,360.16 387.55,360.1 388.55,360.75 389.55,360.26 390.55,360.75 391.55,360.54 392.55,360.35 393.55,360.91 394.54,360.55 395.54,360.49 396.54,361.02 397.54,361.12 398.54,360.62 399.54,361.16 400.54,360.5 401.54,361.07 402.53,360.93 403.53,360.69 404.53,360.83 405.53,360.8 406.53,361.11 407.53,360.93 408.53,360.96 409.53,361.18 410.52,360.95 411.52,360.76 412.52,361.11 413.52,361.43 414.52,360.96 415.52,361 416.52,361.54 417.52,360.97 418.51,361.63 419.51,361.12 420.51,361.07 421.51,361.51 422.51,361.66 423.51,361.34 424.51,361.21 425.51,361.12 426.5,361.04 427.5,361.62 428.5,361.67 429.5,361.35" fill="none" stroke="#c45ce0" stroke-width="1.1" stroke-opacity="0.9" stroke-linejoin="round"/>
<polyline points="59.8,583.78 60.81,584.01 61.83,583.96 62.84,583.94 63.86,584.13 64.87,583.59 65.89,584.18 66.9,583.9 67.91,583.66 68.93,583.95 69.94,583.64 70.96,583.73 71.97,584.06 72.99,584.05 74,583.88 75,580.93 76,577.91 77,574.5 78,571.25 79,569 80,565.38 81,562.81 82,559.7 83,557.26 84,554.69 85,551.37 86,549.05 87,546.32 88,543.92 89,541.52 90.03,541.45 91.06,541.06 92.09,541.39 93.12,541.57 94.15,541.41 95.18,542.04 96.21,541.71 97.24,541.77 98.27,541.72 99.3,542.03 100.31,536.47 101.31,530.22 102.32,524.92 103.33,519.23 104.34,513.58 105.34,508.48 106.35,503.37 107.36,498.12 108.36,493.28 109.37,487.96 110.38,483.14 111.39,478.04 112.39,473.14 113.4,468.52 114.38,468.59 115.36,468.6 116.35,468.35 117.33,468.39 118.31,468.94 119.29,468.33 120.27,468.69 121.25,469.11 122.24,468.73 123.22,468.95 124.2,468.88 125.21,460.28 126.23,452.14 127.24,443.76 128.26,436.76 129.27,430.28 130.29,423.52 131.3,417.97 132.31,411.77 133.33,406.67 134.34,401.45 135.36,397.37 136.37,392.7 137.39,388.89 138.4,384.95 139.38,384.83 140.36,385.5 141.35,385.06 142.33,385.92 143.31,385.97 144.29,385.69 145.27,386.09 146.25,386.04 147.24,386.26 148.22,386.75 149.2,386.46 150.21,382.77 151.23,378.85 152.24,375.67 153.26,373.06 154.27,370.33 155.29,368.26 156.3,365.7 157.31,363.87 158.33,361.71 159.34,360.24 160.36,358.14 161.37,356.42 162.39,355.65 163.4,354.32 164.4,354.07 165.4,354.19 166.4,354.49 167.4,354.92 168.4,354.81 169.4,354.7 170.4,354.88 171.4,354.77 172.4,354.86 173.4,354.75 174.42,354.47 175.45,353.34 176.47,353.21 177.49,352.4 178.52,352.03 179.54,352.17 180.56,351.94 181.59,351.38 182.61,351.5 183.64,351.09 184.66,350.76 185.68,350.65 186.71,350.03 187.73,349.97 188.75,350.38 189.78,349.99 190.8,350.37 191.8,349.88 192.8,349.98 193.8,350 194.79,350.65 195.79,350.42 196.79,350.26 197.79,350.19 198.79,350.68 199.79,350.3 200.79,351.05 201.79,350.56 202.78,351.12 203.78,351.27 204.78,350.89 205.78,351.2 206.78,351.35 207.78,351.24 208.78,351.28 209.78,351.73 210.77,351.29 211.77,351.61 212.77,351.24 213.77,351.75 214.77,352.14 215.77,351.75 216.77,352.09 217.77,351.83 218.76,351.94 219.76,352.02 220.76,352.47 221.76,352.1 222.76,351.94 223.76,352.4 224.76,352.49 225.76,352.57 226.75,352.53 227.75,352.45 228.75,352.85 229.75,352.53 230.75,352.6 231.75,352.59 232.75,352.55 233.75,352.73 234.74,353.16 235.74,352.99 236.74,353.09 237.74,352.97 238.74,353.04 239.74,353.44 240.74,353.69 241.74,353.1 242.73,353.59 243.73,353.86 244.73,353.57 245.73,353.9 246.73,353.38 247.73,353.91 248.73,353.42 249.73,353.55 250.72,353.5 251.72,353.47 252.72,354.12 253.72,353.84 254.72,353.9 255.72,354.24 256.72,353.9 257.72,354.43 258.71,353.94 259.71,354.61 260.71,354.57 261.71,354.32 262.71,354.71 263.71,354.68 264.71,354.81 265.71,354.33 266.7,354.46 267.7,354.42 268.7,354.57 269.7,354.7 270.7,354.98 271.7,354.6 272.7,354.82 273.7,354.64 274.69,354.81 275.69,354.54 276.69,354.97 277.69,355.07 278.69,355.09 279.69,355.35 280.69,355.11 281.69,354.95 282.68,355.53 283.68,355.13 284.68,355 285.68,355.29 286.68,355.48 287.68,355.17 288.68,355.18 289.68,355.1 290.67,355.51 291.67,355.4 292.67,355.78 293.67,355.3 294.67,355.7 295.67,355.37 296.67,355.44 297.67,355.41 298.66,355.87 299.66,355.98 300.66,355.77 301.66,356.12 302.66,356.14 303.66,356.22 304.66,356.08 305.66,355.96 306.65,355.97 307.65,356.31 308.65,355.94 309.65,355.94 310.65,356.57 311.65,356.56 312.65,356.37 313.65,356.55 314.64,355.96 315.64,356.57 316.64,356.46 317.64,356.25 318.64,356.28 319.64,356.63 320.64,356.85 321.64,356.75 322.63,356.23 323.63,356.69 324.63,356.53 325.63,356.48 326.63,356.37 327.63,356.83 328.63,356.61 329.63,356.7 330.62,356.86 331.62,357.22 332.62,356.75 333.62,357.03 334.62,357.12 335.62,357.24 336.62,357.35 337.62,356.88 338.61,357.42 339.61,356.83 340.61,357.17 341.61,357.42 342.61,357.59 343.61,357.18 344.61,357.48 345.61,357.52 346.6,357.04 347.6,357.63 348.6,357.73 349.6,357.21 350.6,357.38 351.6,357.51 352.6,357.94 353.6,357.99 354.59,357.4 355.59,357.61 356.59,357.42 357.59,357.4 358.59,357.56 359.59,358.17 360.59,358.17 361.59,357.64 362.58,358.01 363.58,358.05 364.58,357.93 365.58,358.28 366.58,357.71 367.58,357.89 368.58,357.79 369.58,358.46 370.57,358.4 371.57,358.15 372.57,357.89 373.57,358.54 374.57,358.51 375.57,358.61 376.57,358.7 377.57,358.51 378.56,358.4 379.56,358.68 380.56,358.18 381.56,358.77 382.56,358.37 383.56,358.51 384.56,358.88 385.56,358.22 386.55,358.51 387.55,358.92 388.55,358.62 389.55,359.05 390.55,358.93 391.55,358.57 392.55,358.81 393.55,358.73 394.54,359 395.54,359.07 396.54,358.93 397.54,358.62 398.54,359.27 399.54,358.76 400.54,359.15 401.54,359.33 402.53,359.06 403.53,358.76 404.53,359.19 405.53,358.86 406.53,358.94 407.53,359 408.53,359 409.53,359.35 410.52,359.51 411.52,359.29 412.52,359.73 413.52,359.05 414.52,359.28 415.52,359.3 416.52,359.5 417.52,359.63 418.51,359.34 419.51,359.49 420.51,359.48 421.51,359.47 422.51,359.27 423.51,359.85 424.51,359.3 425.51,359.64 426.5,359.51 427.5,359.69 428.5,359.94 429.5,360.04" fill="none" stroke="#4c4cc8" stroke-width="1.1" stroke-opacity="0.9" stroke-linejoin="round"/>
<polyline points="59.8,582.9 60.81,582.7 61.83,582.43 62.84,582.21 63.86,582.32 64.87,582.91 65.89,582.5 66.9,582.5 67.91,582.48 68.93,582.47 69.94,582.35 70.96,582.42 71.97,582.58 72.99,582.56 74,582.25 75,579.4 76,576.47 77,574.01 78,571.37 79,568.82 80,565.72 81,563.22 82,560.73 83,557.93 84,555.36 85,552.52 86,550.44 87,548.02 88,545.24 89,543.13 90.03,542.88 91.06,542.9 92.09,543.17 93.12,543.44 94.15,543.39 95.18,543.35 96.21,543.99 97.24,543.85 98.27,543.57 99.3,543.46 100.31,538.57 101.31,533.4 102.32,527.98 103.33,522.78 104.34,517.9 105.34,512.64 106.35,507.22 107.36,502.61 108.36,497.72 109.37,493.12 110.38,488.09 111.39,483.85 112.39,479.35 113.4,474.52 114.38,474.9 115.36,474.77 116.35,475.12 117.33,475.04 118.31,475.51 119.29,475.19 120.27,474.91 121.25,475 122.24,475.55 123.22,475.13 124.2,475.71 125.21,466.54 126.23,458.01 127.24,450.19 128.26,443.14 129.27,435.97 130.29,429.38 131.3,423.33 132.31,417.7 133.33,412.24 134.34,407.42 135.36,402.47 136.37,397.95 137.39,393.68 138.4,390.06 139.38,390.06 140.36,390.27 141.35,390.44 142.33,390.76 143.31,391.37 144.29,391.2 145.27,391.15 146.25,391.44 147.24,391.55 148.22,391.34 149.2,392.05 150.21,387 151.23,382.97 152.24,378.64 153.26,374.61 154.27,371.79 155.29,367.96 156.3,365.13 157.31,362.47 158.33,360.06 159.34,357.82 160.36,356.39 161.37,353.91 162.39,352.47 163.4,350.62 164.4,350.83 165.4,350.73 166.4,351.03 167.4,351.02 168.4,351.44 169.4,351.71 170.4,351.12 171.4,351.39 172.4,351.55 173.4,351.89 174.42,350.26 175.45,349.96 176.47,349.07 177.49,348.55 178.52,348.18 179.54,347.71 180.56,347.05 181.59,347.04 182.61,346.54 183.64,345.98 184.66,345.71 185.68,345.5 186.71,345.8 187.73,345.67 188.75,344.97 189.78,345.18 190.8,344.66 191.8,344.7 192.8,345.25 193.8,345.2 194.79,345.15 195.79,345.2 196.79,345.27 197.79,345.26 198.79,345.24 199.79,345.81 200.79,345.17 201.79,345.63 202.78,345.35 203.78,345.55 204.78,345.35 205.78,345.48 206.78,345.9 207.78,345.49 208.78,345.85 209.78,346.06 210.77,346.08 211.77,345.75 212.77,346.06 213.77,346.03 214.77,346.46 215.77,346.57 216.77,346.4 217.77,346.6 218.76,346.36 219.76,346.86 220.76,346.7 221.76,346.89 222.76,346.36 223.76,346.83 224.76,346.86 225.76,346.94 226.75,347.15 227.75,346.66 228.75,346.63 229.75,347.03 230.75,346.81 231.75,347.46 232.75,347.46 233.75,347.17 234.74,347.48 235.74,347.38 236.74,347.67 237.74,347.43 238.74,347.2 239.74,347.88 240.74,347.35 241.74,347.28 242.73,347.86 243.73,347.81 244.73,348.03 245.73,347.57 246.73,348.18 247.73,348.16 248.73,348.06 249.73,347.61 250.72,348.26 251.72,348 252.72,347.86 253.72,348.07 254.72,348.61 255.72,348.16 256.72,348.33 257.72,348.73 258.71,348.63 259.71,348.42 260.71,348.44 261.71,348.66 262.71,348.7 263.71,348.91 264.71,348.9 265.71,348.58 266.7,349.18 267.7,349.18 268.7,348.99 269.7,348.76 270.7,349.06 271.7,349.44 272.7,349.02 273.7,349.11 274.69,349.46 275.69,349.55 276.69,349.67 277.69,349.38 278.69,349.7 279.69,349.35 280.69,349.25 281.69,349.82 282.68,349.51 283.68,350.07 284.68,349.68 285.68,349.74 286.68,350.2 287.68,349.59 288.68,350.4 289.68,349.94 290.67,349.76 291.67,350.04 292.67,349.92 293.67,350.08 294.67,350.33 295.67,350.42 296.67,350.17 297.67,350.87 298.66,350.24 299.66,350.25 300.66,350.43 301.66,350.27 302.66,351.02 303.66,350.49 304.66,350.42 305.66,350.95 306.65,350.77 307.65,350.64 308.65,350.97 309.65,350.79 310.65,350.75 311.65,351.14 312.65,350.97 313.65,351.1 314.64,351.26 315.64,351.71 316.64,351.44 317.64,351.45 318.64,351.28 319.64,351.45 320.64,351.34 321.64,351.85 322.63,351.96 323.63,351.92 324.63,351.63 325.63,351.91 326.63,351.62 327.63,352.06 328.63,352.22 329.63,351.64 330.62,351.62 331.62,352.38 332.62,352.09 333.62,352.3 334.62,352.39 335.62,352.4 336.62,351.88 337.62,352.04 338.61,352.17 339.61,352.62 340.61,352.54 341.61,352.17 342.61,352.15 343.61,352.72 344.61,352.82 345.61,352.18 346.6,352.47 347.6,352.33 348.6,352.63 349.6,352.34 350.6,352.67 351.6,352.54 352.6,352.49 353.6,353.26 354.59,352.64 355.59,353.3 356.59,353.18 357.59,352.91 358.59,352.98 359.59,353.01 360.59,352.97 361.59,353.25 362.58,352.94 363.58,353.34 364.58,353.3 365.58,353.1 366.58,353.75 367.58,353.25 368.58,353.56 369.58,353.67 370.57,353.72 371.57,353.63 372.57,353.58 373.57,353.59 374.57,353.87 375.57,353.37 376.57,353.81 377.57,354.06 378.56,353.79 379.56,353.85 380.56,354.05 381.56,354.16 382.56,353.83 383.56,354.09 384.56,354.3 385.56,354.17 386.55,353.88 387.55,354.55 388.55,354.06 389.55,354.34 390.55,353.9 391.55,354.44 392.55,354.37 393.55,354.69 394.54,354.18 395.54,354.05 396.54,354.33 397.54,354.44 398.54,354.68 399.54,354.41 400.54,354.81 401.54,354.91 402.53,354.29 403.53,355.09 404.53,354.38 405.53,354.57 406.53,354.46 407.53,355.07 408.53,355.22 409.53,354.71 410.52,354.98 411.52,355.33 412.52,355.2 413.52,354.83 414.52,355.02 415.52,355.41 416.52,355.41 417.52,355.13 418.51,355.24 419.51,354.86 420.51,355.15 421.51,355.51 422.51,354.93 423.51,355.08 424.51,355.41 425.51,355 426.5,355.16 427.5,355.64 428.5,355.22 429.5,355.5" fill="none" stroke="#d04848" stroke-width="1.1" stroke-opacity="0.9" stroke-linejoin="round"/>
<polyline points="59.8,582.35 60.81,582.02 61.83,582.15 62.84,581.65 63.86,582.02 64.87,582.02 65.89,581.99 66.9,581.98 67.91,581.65 68.93,582.09 69.94,581.88 70.96,582.16 71.97,581.8 72.99,582.33 74,581.97 75,579.64 76,576.79 77,574.04 78,571.63 79,569.02 80,566.76 81,564.19 82,561.72 83,559.94 84,557.58 85,554.92 86,552.69 87,550.65 88,548.29 89,545.93 90.03,546.09 91.06,546.4 92.09,545.88 93.12,546.23 94.15,546.03 95.18,546.47 96.21,546.09 97.24,546.47 98.27,546.27 99.3,546.47 100.31,541.75 101.31,536.01 102.32,531.04 103.33,526.38 104.34,520.96 105.34,516.11 106.35,511.47 107.36,506.89 108.36,501.9 109.37,497.35 110.38,492.66 111.39,488.36 112.39,484.05 113.4,479.88 114.38,479.74 115.36,480.02 116.35,480.31 117.33,479.99 118.31,480.42 119.29,480.52 120.27,480.72 121.25,480.63 122.24,480.61 123.22,480.66 124.2,480.5 125.21,471.2 126.23,461.53 127.24,453.12 128.26,444.92 129.27,437.71 130.29,430.98 131.3,424.17 132.31,417.47 133.33,412.36 134.34,406.25 135.36,401.25 136.37,396.69 137.39,391.83 138.4,388.23 139.38,388.28 140.36,388.62 141.35,388.47 142.33,388.4 143.31,388.34 144.29,388.5 145.27,388.83 146.25,389.07 147.24,388.62 148.22,388.96 149.2,389.12 150.21,383.46 151.23,378.95 152.24,374.13 153.26,370.06 154.27,366.17 155.29,363.3 156.3,359.38 157.31,356.68 158.33,354.24 159.34,351.69 160.36,349.2 161.37,347.36 162.39,345.42 163.4,343.74 164.4,343.81 165.4,343.73 166.4,344.28 167.4,344.11 168.4,344.6 169.4,344.33 170.4,344.85 171.4,344.44 172.4,344.84 173.4,345.18 174.42,343.38 175.45,342.68 176.47,341.51 177.49,340.22 178.52,339.94 179.54,339.11 180.56,338.29 181.59,338.37 182.61,337.84 183.64,337.64 184.66,336.65 185.68,336.53 186.71,336.44 187.73,336.02 188.75,335.64 189.78,335.65 190.8,335.55 191.8,335.67 192.8,335.7 193.8,335.76 194.79,335.9 195.79,336.12 196.79,335.85 197.79,336.1 198.79,336.47 199.79,336.49 200.79,336.57 201.79,336.75 202.78,336.48 203.78,336.83 204.78,336.86 205.78,336.59 206.78,336.99 207.78,336.83 208.78,336.97 209.78,336.72 210.77,337.25 211.77,337 212.77,337.15 213.77,337.29 214.77,337.55 215.77,337.79 216.77,337.77 217.77,337.68 218.76,337.45 219.76,337.72 220.76,337.85 221.76,337.7 222.76,338.22 223.76,337.81 224.76,338.04 225.76,338.47 226.75,337.93 227.75,338.16 228.75,338.62 229.75,338.7 230.75,338.37 231.75,338.64 232.75,338.6 233.75,338.28 234.74,339.01 235.74,339.04 236.74,339.13 237.74,338.63 238.74,338.96 239.74,339.24 240.74,339.33 241.74,339.39 242.73,338.81 243.73,339.37 244.73,339.16 245.73,339.06 246.73,339.41 247.73,339.13 248.73,339.37 249.73,339.53 250.72,339.57 251.72,339.56 252.72,339.75 253.72,339.83 254.72,339.6 255.72,339.72 256.72,339.86 257.72,339.67 258.71,340.13 259.71,340.49 260.71,340.03 261.71,340.59 262.71,340.24 263.71,340.36 264.71,340.68 265.71,340.47 266.7,340.57 267.7,340.96 268.7,340.34 269.7,340.69 270.7,340.63 271.7,340.85 272.7,340.94 273.7,341.11 274.69,340.85 275.69,341.41 276.69,341.49 277.69,341.4 278.69,341.32 279.69,341.52 280.69,340.98 281.69,341.49 282.68,341.41 283.68,341.36 284.68,341.7 285.68,341.51 286.68,341.98 287.68,341.4 288.68,341.57 289.68,341.79 290.67,341.58 291.67,341.61 292.67,342.11 293.67,341.83 294.67,341.78 295.67,342.29 296.67,342.46 297.67,342.32 298.66,342.37 299.66,342.15 300.66,342.7 301.66,342.65 302.66,342.72 303.66,342.55 304.66,342.36 305.66,342.6 306.65,342.58 307.65,342.82 308.65,342.48 309.65,342.58 310.65,342.9 311.65,342.62 312.65,342.69 313.65,343.04 314.64,343.01 315.64,343.36 316.64,343.53 317.64,343.24 318.64,343.35 319.64,343.22 320.64,343.41 321.64,343.28 322.63,343.72 323.63,343.47 324.63,343.31 325.63,343.49 326.63,343.88 327.63,343.27 328.63,344.09 329.63,343.94 330.62,343.78 331.62,343.65 332.62,343.67 333.62,343.79 334.62,344.14 335.62,344.11 336.62,344.05 337.62,344 338.61,344.07 339.61,343.89 340.61,344.13 341.61,344.42 342.61,343.93 343.61,344.71 344.61,344.01 345.61,344.4 346.6,344.32 347.6,344.56 348.6,344.38 349.6,344.7 350.6,344.29 351.6,345.02 352.6,345.08 353.6,345.08 354.59,344.98 355.59,344.58 356.59,345.01 357.59,345.01 358.59,345.23 359.59,345 360.59,345.31 361.59,344.97 362.58,344.78 363.58,344.93 364.58,345.64 365.58,345.14 366.58,345.03 367.58,345.1 368.58,345.77 369.58,345.69 370.57,345.44 371.57,345.17 372.57,345.81 373.57,345.21 374.57,345.85 375.57,345.63 376.57,345.61 377.57,345.38 378.56,345.93 379.56,346.14 380.56,345.84 381.56,346.22 382.56,345.71 383.56,345.86 384.56,345.98 385.56,345.82 386.55,346.5 387.55,346.16 388.55,345.79 389.55,346.34 390.55,345.98 391.55,346.18 392.55,346.59 393.55,346.25 394.54,346.23 395.54,346.74 396.54,346.3 397.54,346.88 398.54,346.18 399.54,346.25 400.54,347.03 401.54,346.76 402.53,346.75 403.53,346.97 404.53,346.61 405.53,347.1 406.53,346.67 407.53,347.17 408.53,346.91 409.53,347.27 410.52,347.35 411.52,347.25 412.52,346.76 413.52,347.05 414.52,347.45 415.52,347.1 416.52,346.95 417.52,347.19 418.51,346.96 419.51,346.94 420.51,347.39 421.51,346.96 422.51,347.3 423.51,347.26 424.51,347.68 425.51,347.36 426.5,347.46 427.5,347.65 428.5,347.3 429.5,347.58" fill="none" stroke="#80d8e8" stroke-width="1.1" stroke-opacity="0.9" stroke-linejoin="round"/>
<polyline points="59.8,580.76 60.81,580.92 61.83,581.25 62.84,581.35 63.86,581.36 64.87,581.24 65.89,580.63 66.9,580.94 67.91,580.89 68.93,580.9 69.94,580.97 70.96,581.14 71.97,580.6 72.99,581.07 74,580.64 75,577.95 76,574.89 77,571.51 78,568.47 79,565.55 80,562.46 81,558.96 82,556.25 83,553.22 84,550.37 85,547.45 86,544.32 87,541.8 88,538.82 89,536.81 90.03,536.8 91.06,536.28 92.09,536.81 93.12,537.05 94.15,536.9 95.18,536.97 96.21,536.88 97.24,536.84 98.27,536.83 99.3,536.67 100.31,530.8 101.31,524.77 102.32,519.08 103.33,513.24 104.34,507.49 105.34,502.41 106.35,496.25 107.36,490.92 108.36,485.87 109.37,480.2 110.38,474.71 111.39,469.96 112.39,464.69 113.4,460.04 114.38,459.75 115.36,459.84 116.35,460.06 117.33,460.22 118.31,459.89 119.29,459.9 120.27,460.52 121.25,460.16 122.24,460.76 123.22,460.71 124.2,460.53 125.21,451.02 126.23,442.6 127.24,434.37 128.26,427.29 129.27,420.2 130.29,413.71 131.3,407.2 132.31,401.81 133.33,396.32 134.34,391.05 135.36,386.1 136.37,381.93 137.39,377.37 138.4,373 139.38,373.87 140.36,373.37 141.35,373.72 142.33,373.84 143.31,374.35 144.29,374.25 145.27,374.31 146.25,374.75 147.24,374.76 148.22,374.64 149.2,374.55 150.21,370.42 151.23,367.31 152.24,363.83 153.26,360.93 154.27,357.72 155.29,355.57 156.3,352.5 157.31,350.5 158.33,349.03 159.34,347.06 160.36,344.9 161.37,343.5 162.39,341.98 163.4,341.01 164.4,341.16 165.4,341.2 166.4,341.13 167.4,340.95 168.4,341.24 169.4,341.8 170.4,341.71 171.4,341.66 172.4,341.72 173.4,341.62 174.42,340.51 175.45,339.95 176.47,339.41 177.49,338.63 178.52,338.42 179.54,337.97 180.56,337.67 181.59,337.35 182.61,337.36 183.64,336.9 184.66,336.98 185.68,336.52 186.71,336.16 187.73,336.11 188.75,336.16 189.78,335.62 190.8,335.97 191.8,336.25 192.8,336.14 193.8,336.19 194.79,336.39 195.79,335.81 196.79,336.33 197.79,336.27 198.79,336.19 199.79,336.44 200.79,336.24 201.79,336.84 202.78,336.44 203.78,336.74 204.78,336.6 205.78,337.39 206.78,336.87 207.78,337.19 208.78,336.85 209.78,337.15 210.77,337.32 211.77,337.09 212.77,337.85 213.77,337.74 214.77,337.33 215.77,337.74 216.77,337.56 217.77,337.87 218.76,338.23 219.76,337.85 220.76,338.43 221.76,338.23 222.76,338.42 223.76,338.78 224.76,338.21 225.76,338.73 226.75,338.95 227.75,338.69 228.75,338.56 229.75,339.07 230.75,338.89 231.75,338.62 232.75,339.39 233.75,338.86 234.74,339.41 235.74,339.03 236.74,339.33 237.74,339.45 238.74,339.33 239.74,339.64 240.74,340.04 241.74,339.58 242.73,339.89 243.73,340.22 244.73,339.66 245.73,340.32 246.73,340.43 247.73,340.26 248.73,339.87 249.73,340.12 250.72,340.16 251.72,340.46 252.72,340.29 253.72,340.95 254.72,341.05 255.72,340.41 256.72,341.07 257.72,340.83 258.71,340.98 259.71,340.99 260.71,340.99 261.71,341.18 262.71,341.32 263.71,341.17 264.71,341.18 265.71,341.36 266.7,341.29 267.7,341.71 268.7,341.72 269.7,341.94 270.7,341.94 271.7,341.99 272.7,341.75 273.7,341.97 274.69,341.79 275.69,342.42 276.69,342.58 277.69,342.45 278.69,342.39 279.69,342.31 280.69,342.56 281.69,342.81 282.68,342.66 283.68,342.8 284.68,342.47 285.68,342.65 286.68,342.98 287.68,343.31 288.68,342.9 289.68,343.15 290.67,343.07 291.67,342.97 292.67,343.17 293.67,343.55 294.67,343.37 295.67,343.5 296.67,343.62 297.67,343.75 298.66,343.82 299.66,343.95 300.66,344.17 301.66,344.04 302.66,344.04 303.66,344.37 304.66,344.06 305.66,344.19 306.65,343.9 307.65,344.4 308.65,344.42 309.65,344.75 310.65,344.13 311.65,344.32 312.65,344.79 313.65,344.87 314.64,344.84 315.64,344.55 316.64,345.15 317.64,344.91 318.64,345.2 319.64,345.24 320.64,345.17 321.64,345.1 322.63,345.27 323.63,344.9 324.63,345.45 325.63,345.65 326.63,345.45 327.63,345.53 328.63,345.66 329.63,345.65 330.62,345.28 331.62,345.89 332.62,345.91 333.62,345.52 334.62,345.83 335.62,345.52 336.62,345.68 337.62,345.84 338.61,345.99 339.61,346.27 340.61,346.45 341.61,346.35 342.61,346.05 343.61,346.11 344.61,345.98 345.61,346.39 346.6,346.31 347.6,346.5 348.6,346.44 349.6,346.68 350.6,346.81 351.6,346.59 352.6,346.7 353.6,346.89 354.59,346.56 355.59,346.96 356.59,346.59 357.59,346.79 358.59,346.95 359.59,347.04 360.59,347.01 361.59,347.44 362.58,347.01 363.58,347.49 364.58,347.47 365.58,347.1 366.58,347.21 367.58,347.6 368.58,347.53 369.58,347.61 370.57,347.86 371.57,347.34 372.57,347.41 373.57,348.1 374.57,347.6 375.57,347.89 376.57,347.67 377.57,347.59 378.56,348.19 379.56,348.18 380.56,347.86 381.56,347.74 382.56,348.33 383.56,347.98 384.56,348.41 385.56,348.04 386.55,348.68 387.55,348.04 388.55,348.24 389.55,348.19 390.55,348.55 391.55,348.72 392.55,348.24 393.55,348.62 394.54,348.97 395.54,348.58 396.54,348.88 397.54,348.92 398.54,348.62 399.54,349.14 400.54,349.11 401.54,348.88 402.53,348.71 403.53,348.67 404.53,349.31 405.53,349.12 406.53,349.11 407.53,349.07 408.53,348.78 409.53,348.96 410.52,348.9 411.52,349.6 412.52,349.67 413.52,349.29 414.52,349.49 415.52,349.5 416.52,349.84 417.52,349.88 418.51,349.24 419.51,349.92 420.51,349.7 421.51,349.53 422.51,349.9 423.51,349.34 424.51,349.99 425.51,350.07 426.5,349.47 427.5,349.65 428.5,350.25 429.5,350.25" fill="none" stroke="#d8c464" stroke-width="1.1" stroke-opacity="0.9" stroke-linejoin="round"/>
<line x1="74" y1="583" x2="74" y2="592" stroke="#4c4cc8" stroke-width="1.2" stroke-opacity="0.85"/>
<line x1="173.4" y1="350" x2="173.4" y2="362.5" stroke="#4c4cc8" stroke-width="1" stroke-opacity="0.7"/>
<line x1="173.4" y1="338" x2="173.4" y2="350" stroke="#999" stroke-width="1" stroke-opacity="0.5"/>
<line x1="423" y1="343.6" x2="423" y2="351.6" stroke="#80d8e8" stroke-width="1" stroke-opacity="0.7"/>
<line x1="423" y1="345.9" x2="423" y2="353.9" stroke="#d8c464" stroke-width="1" stroke-opacity="0.7"/>
<line x1="423" y1="351.5" x2="423" y2="359.5" stroke="#d04848" stroke-width="1" stroke-opacity="0.7"/>
<line x1="423" y1="355.8" x2="423" y2="363.8" stroke="#4c4cc8" stroke-width="1" stroke-opacity="0.7"/>
<line x1="423" y1="357.5" x2="423" y2="365.5" stroke="#c45ce0" stroke-width="1" stroke-opacity="0.7"/>
<text x="0" y="655.3" font-size="30" font-weight="bold" fill="#000" transform="translate(0.5,0) scale(0.94,1)">C</text>
<line x1="63.9" y1="641.3" x2="63.9" y2="948.4" stroke="#666" stroke-width="1"/>
<line x1="61.4" y1="641.3" x2="65.9" y2="641.3" stroke="#666" stroke-width="1"/>
<line x1="61.4" y1="679.42" x2="65.9" y2="679.42" stroke="#666" stroke-width="1"/>
<line x1="61.4" y1="717.54" x2="65.9" y2="717.54" stroke="#666" stroke-width="1"/>
<line x1="61.4" y1="755.66" x2="65.9" y2="755.66" stroke="#666" stroke-width="1"/>
<line x1="61.4" y1="793.78" x2="65.9" y2="793.78" stroke="#666" stroke-width="1"/>
<line x1="61.4" y1="831.9" x2="65.9" y2="831.9" stroke="#666" stroke-width="1"/>
<line x1="61.4" y1="870.02" x2="65.9" y2="870.02" stroke="#666" stroke-width="1"/>
<line x1="61.4" y1="908.14" x2="65.9" y2="908.14" stroke="#666" stroke-width="1"/>
<line x1="62.7" y1="660.36" x2="65.1" y2="660.36" stroke="#999" stroke-width="1"/>
<line x1="62.7" y1="698.48" x2="65.1" y2="698.48" stroke="#999" stroke-width="1"/>
<line x1="62.7" y1="736.6" x2="65.1" y2="736.6" stroke="#999" stroke-width="1"/>
<line x1="62.7" y1="774.72" x2="65.1" y2="774.72" stroke="#999" stroke-width="1"/>
<line x1="62.7" y1="812.84" x2="65.1" y2="812.84" stroke="#999" stroke-width="1"/>
<line x1="62.7" y1="850.96" x2="65.1" y2="850.96" stroke="#999" stroke-width="1"/>
<line x1="62.7" y1="889.08" x2="65.1" y2="889.08" stroke="#999" stroke-width="1"/>
<line x1="62.7" y1="927.2" x2="65.1" y2="927.2" stroke="#999" stroke-width="1"/>
<line x1="61.7" y1="946.4" x2="450.9" y2="946.4" stroke="#666" stroke-width="1"/>
<line x1="63.9" y1="944.4" x2="63.9" y2="948.4" stroke="#666" stroke-width="1"/>
<line x1="96.15" y1="944.4" x2="96.15" y2="948.4" stroke="#666" stroke-width="1"/>
<line x1="128.4" y1="944.4" x2="128.4" y2="948.4" stroke="#666" stroke-width="1"/>
<line x1="160.65" y1="944.4" x2="160.65" y2="948.4" stroke="#666" stroke-width="1"/>
<line x1="192.9" y1="944.4" x2="192.9" y2="948.4" stroke="#666" stroke-width="1"/>
<line x1="225.15" y1="944.4" x2="225.15" y2="948.4" stroke="#666" stroke-width="1"/>
<line x1="257.4" y1="944.4" x2="257.4" y2="948.4" stroke="#666" stroke-width="1"/>
<line x1="289.65" y1="944.4" x2="289.65" y2="948.4" stroke="#666" stroke-width="1"/>
<line x1="321.9" y1="944.4" x2="321.9" y2="948.4" stroke="#666" stroke-width="1"/>
<line x1="354.15" y1="944.4" x2="354.15" y2="948.4" stroke="#666" stroke-width="1"/>
<line x1="386.4" y1="944.4" x2="386.4" y2="948.4" stroke="#666" stroke-width="1"/>
<line x1="418.65" y1="944.4" x2="418.65" y2="948.4" stroke="#666" stroke-width="1"/>
<line x1="450.9" y1="944.4" x2="450.9" y2="948.4" stroke="#666" stroke-width="1"/>
<text x="60.6" y="685.5" font-size="16" text-anchor="end" fill="#111">120</text>
<text x="59.8" y="734.8" font-size="16" text-anchor="end" fill="#111">RU</text>
<text x="60.4" y="800.3" font-size="16" text-anchor="end" fill="#111">60</text>
<text x="60.4" y="911.2" font-size="16" text-anchor="end" fill="#111">0</text>
<text x="49.4" y="962.8" font-size="16.3" fill="#111">500</text>
<text x="121.6" y="963.8" font-size="16.3" fill="#111">time (sec)</text>
<text x="243.9" y="962.7" font-size="16.3" fill="#111">2000</text>
<text x="372" y="962.7" font-size="16.3" fill="#111">3000</text>
<text x="228.8" y="672.9" font-size="16" fill="#111">Mab 1B5 (Type B)</text>
<line x1="187.1" y1="788.8" x2="203" y2="788.8" stroke="#d04848" stroke-width="1.5" stroke-opacity="0.9"/>
<text x="208.3" y="793.5" font-size="14" fill="#111">N2225A</text>
<line x1="187.1" y1="810.02" x2="203" y2="810.02" stroke="#66a866" stroke-width="1.5" stroke-opacity="0.9"/>
<text x="208.3" y="814.62" font-size="14" fill="#111">Q2213A</text>
<line x1="187.1" y1="831.24" x2="203" y2="831.24" stroke="#4c4cc8" stroke-width="1.5" stroke-opacity="0.9"/>
<text x="208.3" y="835.74" font-size="14" fill="#111">Q2270A</text>
<line x1="187.1" y1="852.46" x2="203" y2="852.46" stroke="#c45ce0" stroke-width="1.5" stroke-opacity="0.9"/>
<text x="208.3" y="856.86" font-size="14" fill="#111">T2272A</text>
<line x1="187.1" y1="873.68" x2="203" y2="873.68" stroke="#80d8e8" stroke-width="1.5" stroke-opacity="0.9"/>
<text x="208.3" y="877.98" font-size="14" fill="#111">WTC2</text>
<line x1="187.1" y1="894.9" x2="203" y2="894.9" stroke="#d8c464" stroke-width="1.5" stroke-opacity="0.9"/>
<text x="208.3" y="899.1" font-size="14" fill="#111">Y2195A</text>
<polyline points="64.5,905.69 65.49,905.97 66.49,905.27 67.48,905.53 68.47,905.88 69.46,905.24 70.46,905.46 71.45,905.32 72.44,905.67 73.44,905.99 74.43,905.59 75.42,905.86 76.41,905.25 77.41,905.54 78.4,905.97 79.38,904.55 80.36,902.57 81.35,901.13 82.33,899.87 83.31,899.07 84.29,897.12 85.28,895.95 86.26,894.73 87.24,893.6 88.22,892.66 89.21,891.25 90.19,890.3 91.17,888.89 92.15,888.04 93.14,886.55 94.12,885.66 95.1,884.4 96.13,884.58 97.17,884.54 98.2,885.21 99.23,884.92 100.27,885.5 101.3,885.37 102.33,885.03 103.37,885.74 104.4,885.78 105.38,882.75 106.36,879.74 107.34,877.52 108.33,874.45 109.31,872.39 110.29,869.87 111.27,866.8 112.25,864.64 113.23,862.85 114.21,860.45 115.19,857.79 116.17,855.8 117.16,854.09 118.14,851.34 119.12,849.46 120.1,847.97 121.14,847.97 122.19,848.42 123.23,848.45 124.28,848.72 125.32,849.04 126.37,849.26 127.41,848.92 128.46,849.44 129.5,849.88 130.48,845.58 131.46,840.76 132.44,837.14 133.43,833.05 134.41,830 135.39,825.87 136.37,822.96 137.35,819.26 138.33,816.51 139.31,812.78 140.29,810.19 141.27,807.41 142.26,804.53 143.24,801.81 144.22,799.7 145.2,796.67 146.2,797.69 147.2,798.11 148.2,798.42 149.2,798.6 150.2,798.72 151.2,799.05 152.2,799.13 153.2,799.39 154.2,799.82 155.2,799.64 156.22,793.01 157.25,787.35 158.27,781.76 159.29,776.07 160.32,770.42 161.34,765.6 162.36,761.01 163.38,757.15 164.41,753.25 165.43,749.23 166.45,745.34 167.48,742.7 168.5,739.42 169.47,739.44 170.45,740.46 171.43,740.95 172.4,740.87 173.38,741.46 174.35,741.38 175.32,741.99 176.3,742.19 177.27,743.07 178.25,743.18 179.22,743.06 180.2,743.69 181.19,739.83 182.18,736.56 183.16,733.74 184.15,731.09 185.14,728.32 186.13,725.08 187.12,722.43 188.11,720.04 189.09,717.58 190.08,715.5 191.07,713.09 192.06,710.77 193.05,708.74 194.04,706.99 195.02,704.72 196.01,702.98 197,701.25 198,701.86 199,702.33 200.01,703.31 201.01,703.98 202.01,704.3 203.01,705.4 204.01,705.48 205.02,706.21 206.02,706.91 207.02,707.48 208.02,708.29 209.03,708.15 210.03,708.74 211.03,709.3 212.03,709.89 213.03,710.66 214.04,711.36 215.04,712.09 216.04,712.72 217.04,713.06 218.04,713.56 219.05,714.04 220.05,714.39 221.05,714.93 222.05,715.59 223.05,715.93 224.06,716.87 225.06,717.1 226.06,718.2 227.06,718.22 228.06,719.09 229.07,719.22 230.07,719.71 231.07,720.39 232.07,720.99 233.07,721.85 234.08,721.72 235.08,722.11 236.08,722.67 237.08,723.79 238.09,723.66 239.09,724.86 240.09,724.75 241.09,725.83 242.09,725.87 243.1,726.81 244.1,726.94 245.1,727.36 246.1,727.56 247.1,728.35 248.11,728.87 249.11,729.73 250.11,729.88 251.11,730.62 252.11,730.77 253.12,731.38 254.12,731.84 255.12,731.92 256.12,732.75 257.12,733.31 258.13,733.54 259.13,733.81 260.13,734.25 261.13,734.91 262.14,735.79 263.14,735.85 264.14,736.12 265.14,736.76 266.14,737.41 267.15,737.94 268.15,737.8 269.15,738.51 270.15,738.61 271.15,739.26 272.16,739.81 273.16,740.02 274.16,740.4 275.16,741.36 276.16,741.32 277.17,742.18 278.17,742.11 279.17,742.55 280.17,742.99 281.18,743.9 282.18,743.74 283.18,744.25 284.18,744.98 285.18,745.25 286.19,746.01 287.19,745.94 288.19,746.15 289.19,747.08 290.19,747.24 291.2,747.74 292.2,747.86 293.2,748.85 294.2,749.12 295.2,749.09 296.21,749.57 297.21,749.77 298.21,750.83 299.21,750.55 300.21,751.15 301.22,751.37 302.22,751.97 303.22,752.45 304.22,752.54 305.23,753.18 306.23,753.62 307.23,753.64 308.23,754.61 309.23,754.5 310.24,755.01 311.24,755.69 312.24,755.54 313.24,755.65 314.24,756.21 315.25,756.45 316.25,756.8 317.25,757.81 318.25,757.95 319.25,757.93 320.26,758.45 321.26,758.79 322.26,758.93 323.26,759.39 324.26,759.54 325.27,760.61 326.27,760.58 327.27,760.97 328.27,761.56 329.27,761.68 330.28,761.94 331.28,762.48 332.28,762.66 333.28,762.83 334.29,763.5 335.29,763.3 336.29,764.01 337.29,764.01 338.29,764.61 339.3,764.67 340.3,765.26 341.3,765.44 342.3,766.03 343.3,766.06 344.31,766.2 345.31,766.91 346.31,767.07 347.31,767.64 348.31,767.88 349.32,767.69 350.32,768.45 351.32,768.3 352.32,769.32 353.33,769.36 354.33,769.66 355.33,769.79 356.33,769.84 357.33,770.34 358.34,770.63 359.34,770.83 360.34,771.77 361.34,771.49 362.34,771.98 363.35,772.05 364.35,772.83 365.35,772.52 366.35,773.51 367.35,773.15 368.36,773.5 369.36,773.93 370.36,774.11 371.36,774.21 372.36,775.06 373.37,774.74 374.37,775.21 375.37,775.26 376.37,775.57 377.38,776.1 378.38,776.52 379.38,776.35 380.38,776.97 381.38,777.16 382.39,777.93 383.39,778.2 384.39,778.16 385.39,778.52 386.39,778.24 387.4,778.9 388.4,779.45 389.4,779.69 390.4,779.82 391.4,780.12 392.41,780.52 393.41,780.49 394.41,780.41 395.41,781.07 396.41,780.97 397.42,781.74 398.42,781.44 399.42,782.21 400.42,782.29 401.42,782.54 402.43,782.43 403.43,782.88 404.43,783.17 405.43,783.78 406.44,783.79 407.44,784.07 408.44,784.5 409.44,784.3 410.44,784.69 411.45,784.86 412.45,785 413.45,785.14 414.45,785.4 415.45,785.42 416.46,786.34 417.46,786.01 418.46,786.72 419.46,786.55 420.46,786.76 421.47,786.75 422.47,787.34 423.47,787.34 424.47,787.69 425.48,788.23 426.48,788.59 427.48,788.1 428.48,788.85 429.48,789.21 430.49,789.39 431.49,789.58 432.49,789.76 433.49,789.75 434.49,789.61 435.5,789.94 436.5,790.63 437.5,790.51" fill="none" stroke="#d04848" stroke-width="1.1" stroke-opacity="0.9" stroke-linejoin="round"/>
<polyline points="64.5,907.38 65.49,907.56 66.49,907.32 67.48,907.21 68.47,907.23 69.46,907.74 70.46,907.37 71.45,907.6 72.44,907.55 73.44,907.28 74.43,907.32 75.42,907.4 76.41,907.41 77.41,907.48 78.4,907.17 79.38,906.1 80.36,905.12 81.35,903.54 82.33,902.48 83.31,901.59 84.29,900.35 85.28,899.17 86.26,897.68 87.24,897.06 88.22,896.05 89.21,894.5 90.19,893.52 91.17,893.08 92.15,891.74 93.14,891.04 94.12,889.49 95.1,889.22 96.13,889.07 97.17,888.86 98.2,889.31 99.23,889.24 100.27,889.08 101.3,889.74 102.33,889.03 103.37,889.32 104.4,889.78 105.38,885.72 106.36,881.18 107.34,877.92 108.33,873.45 109.31,869.96 110.29,866.71 111.27,862.68 112.25,859.41 113.23,856.12 114.21,852.94 115.19,849.66 116.17,846.46 117.16,843.6 118.14,840.64 119.12,837.92 120.1,834.69 121.14,834.78 122.19,835.51 123.23,835.53 124.28,835.71 125.32,835.77 126.37,835.4 127.41,835.55 128.46,836.26 129.5,836.01 130.48,830.25 131.46,825.14 132.44,819.48 133.43,815.04 134.41,809.97 135.39,804.93 136.37,800.85 137.35,796.31 138.33,791.95 139.31,787.82 140.29,783.96 141.27,780.52 142.26,776.85 143.24,773.78 144.22,769.98 145.2,766.96 146.2,767.34 147.2,767.41 148.2,767.45 149.2,767.75 150.2,767.68 151.2,767.93 152.2,767.9 153.2,767.61 154.2,768.01 155.2,768.19 156.22,761.87 157.25,755.74 158.27,749.87 159.29,745.08 160.32,740.35 161.34,735.79 162.36,731.22 163.38,727.04 164.41,722.98 165.43,719.35 166.45,716.45 167.48,712.63 168.5,709.95 169.47,709.95 170.45,710.15 171.43,710.73 172.4,710.08 173.38,710.7 174.35,710.78 175.32,710.32 176.3,710.51 177.27,710.65 178.25,710.62 179.22,710.85 180.2,711.25 181.19,708.86 182.18,706.25 183.16,704.11 184.15,702.39 185.14,700.51 186.13,699.21 187.12,697.67 188.11,696.62 189.09,695.49 190.08,694.61 191.07,693.75 192.06,692.99 193.05,692.12 194.04,691.44 195.02,690.9 196.01,690.48 197,689.64 198,690.18 199,690.26 200.01,689.98 201.01,690.59 202.01,690.48 203.01,690.68 204.01,690.42 205.02,690.91 206.02,690.42 207.02,690.71 208.02,690.77 209.03,690.65 210.03,690.86 211.03,691.31 212.03,690.63 213.03,691.27 214.04,690.87 215.04,691.24 216.04,691.43 217.04,691.35 218.04,691.66 219.05,691.7 220.05,691.15 221.05,691.38 222.05,691.84 223.05,691.88 224.06,691.79 225.06,691.48 226.06,691.64 227.06,691.81 228.06,692.03 229.07,692.26 230.07,691.94 231.07,692.31 232.07,692.37 233.07,692.21 234.08,692.65 235.08,692.21 236.08,692.7 237.08,692.33 238.09,692.8 239.09,692.61 240.09,692.56 241.09,693.02 242.09,692.71 243.1,693.09 244.1,692.91 245.1,692.61 246.1,692.85 247.1,692.84 248.11,692.82 249.11,692.77 250.11,693.27 251.11,693.25 252.11,693.45 253.12,693.24 254.12,693.02 255.12,693.72 256.12,693.68 257.12,693.8 258.13,693.52 259.13,693.43 260.13,694.01 261.13,693.37 262.14,693.79 263.14,693.49 264.14,693.68 265.14,694.23 266.14,694.23 267.15,693.98 268.15,693.68 269.15,694.07 270.15,694.42 271.15,694.43 272.16,693.83 273.16,694.03 274.16,694.26 275.16,693.95 276.16,694.25 277.17,694.45 278.17,694.24 279.17,694.68 280.17,694.88 281.18,694.37 282.18,694.61 283.18,694.81 284.18,694.41 285.18,694.73 286.19,694.81 287.19,695.06 288.19,694.9 289.19,695.18 290.19,695.08 291.2,694.66 292.2,695.19 293.2,695.02 294.2,695.11 295.2,695.09 296.21,695.2 297.21,695.11 298.21,695.15 299.21,695.54 300.21,695.05 301.22,695.21 302.22,695.25 303.22,694.99 304.22,695.1 305.23,695.44 306.23,695.89 307.23,695.59 308.23,695.37 309.23,695.24 310.24,695.47 311.24,696.03 312.24,695.55 313.24,696.02 314.24,695.86 315.25,695.49 316.25,696.17 317.25,695.84 318.25,695.54 319.25,696.26 320.26,696.07 321.26,695.69 322.26,695.97 323.26,696.02 324.26,695.88 325.27,696.24 326.27,696.46 327.27,696.34 328.27,696 329.27,696.65 330.28,696.4 331.28,696.06 332.28,696.65 333.28,696.75 334.29,696.69 335.29,696.85 336.29,696.52 337.29,696.17 338.29,696.88 339.3,696.72 340.3,697.01 341.3,697.04 342.3,696.81 343.3,696.39 344.31,697.05 345.31,696.43 346.31,696.72 347.31,696.76 348.31,696.58 349.32,696.74 350.32,697.09 351.32,696.66 352.32,697.11 353.32,696.76 354.33,696.74 355.33,697.4 356.33,696.88 357.33,696.71 358.34,697.23 359.34,697.18 360.34,697.25 361.34,697.59 362.34,697.08 363.35,697.33 364.35,697.56 365.35,697.1 366.35,697.45 367.35,697.23 368.36,697.77 369.36,697.08 370.36,697.23 371.36,697.69 372.36,697.2 373.37,697.68 374.37,697.45 375.37,697.72 376.37,697.74 377.38,697.82 378.38,698.03 379.38,697.44 380.38,697.38 381.38,697.61 382.39,697.43 383.39,697.71 384.39,698.22 385.39,697.64 386.39,697.79 387.4,697.54 388.4,698.11 389.4,697.9 390.4,698.01 391.4,698.36 392.41,697.86 393.41,698.16 394.41,697.88 395.41,698.46 396.41,698.52 397.42,698.05 398.42,698.53 399.42,697.95 400.42,697.86 401.43,698.17 402.43,698.13 403.43,698.06 404.43,698.17 405.43,698.12 406.44,698.24 407.44,698.56 408.44,698.2 409.44,698.5 410.44,698.74 411.45,698.49 412.45,698.18 413.45,698.32 414.45,698.24 415.45,698.39 416.46,698.77 417.46,698.77 418.46,698.59 419.46,698.29 420.46,698.73 421.47,699.05 422.47,698.67 423.47,698.77 424.47,698.79 425.48,698.74 426.48,699.15 427.48,698.47 428.48,698.77 429.48,699.2 430.49,698.55 431.49,699.23 432.49,698.95 433.49,698.89 434.49,699.28 435.5,699.34 436.5,698.7 437.5,698.78" fill="none" stroke="#c45ce0" stroke-width="1.1" stroke-opacity="0.9" stroke-linejoin="round"/>
<polyline points="64.5,905.25 65.49,905.47 66.49,905.63 67.48,905.48 68.47,905.72 69.46,905.22 70.46,905.23 71.45,905.56 72.44,905.45 73.44,905.53 74.43,905.71 75.42,905.65 76.41,905.24 77.41,905.26 78.4,905.22 79.38,903.88 80.36,902.15 81.35,900.22 82.33,898.09 83.31,896.56 84.29,894.65 85.28,892.53 86.26,890.84 87.24,889.72 88.22,887.89 89.21,886.38 90.19,884.6 91.17,882.96 92.15,881.39 93.14,880.12 94.12,878.62 95.1,877.24 96.13,877.3 97.17,877.63 98.2,877.21 99.23,877.95 100.27,877.48 101.3,877.73 102.33,877.69 103.37,877.55 104.4,877.65 105.38,874.41 106.36,871.7 107.34,868.37 108.33,865.82 109.31,862.87 110.29,860.3 111.27,857.05 112.25,854.41 113.23,852.13 114.21,849.65 115.19,847.2 116.17,844.84 117.16,842.43 118.14,839.45 119.12,837.59 120.1,835.53 121.14,835.9 122.19,835.7 123.23,835.7 124.28,835.66 125.32,835.88 126.37,835.91 127.41,836.29 128.46,836.13 129.5,836.77 130.48,831.09 131.46,826.52 132.44,821.51 133.43,816.92 134.41,812.42 135.39,808.35 136.37,804.54 137.35,800.4 138.33,796.56 139.31,792.68 140.29,789.23 141.27,786.26 142.26,782.37 143.24,779.68 144.22,776.76 145.2,773.63 146.2,773.66 147.2,773.76 148.2,774.29 149.2,774.42 150.2,774.17 151.2,774.43 152.2,774.94 153.2,774.44 154.2,775.22 155.2,775.09 156.22,768.1 157.25,762.41 158.27,756.04 159.29,750.74 160.32,745.4 161.34,740.23 162.36,735.79 163.38,731.3 164.41,727.68 165.43,724.03 166.45,719.72 167.48,716.45 168.5,713.45 169.47,713.73 170.45,713.78 171.43,714.13 172.4,714.53 173.38,713.97 174.35,714.13 175.32,714.5 176.3,714.74 177.27,714.93 178.25,714.83 179.22,715.22 180.2,715.39 181.19,711.68 182.18,707.99 183.16,705.54 184.15,702.57 185.14,700.36 186.13,698.24 187.12,695.68 188.11,694.73 189.09,693.01 190.08,691.49 191.07,690.27 192.06,688.87 193.05,688 194.04,686.93 195.02,686.05 196.01,685.4 197,684.72 198,685.12 199,684.9 200.01,684.73 201.01,685.3 202.01,685.33 203.01,685.57 204.01,685.44 205.02,684.99 206.02,685.15 207.02,685.88 208.02,685.73 209.03,685.62 210.03,686.05 211.03,685.49 212.03,686.15 213.03,685.73 214.04,685.65 215.04,686.38 216.04,686.46 217.04,685.85 218.04,686.46 219.05,686.75 220.05,686.76 221.05,686.58 222.05,686.87 223.05,686.92 224.06,686.76 225.06,687.14 226.06,686.63 227.06,686.71 228.06,686.93 229.07,687.39 230.07,686.84 231.07,687.08 232.07,687.29 233.07,687.75 234.08,687.45 235.08,687.89 236.08,687.25 237.08,687.54 238.09,687.42 239.09,687.52 240.09,688.14 241.09,687.78 242.09,687.94 243.1,688.04 244.1,687.73 245.1,688.56 246.1,688.34 247.1,688.66 248.11,688.08 249.11,688.54 250.11,688.73 251.11,688.76 252.11,688.57 253.12,688.96 254.12,689.1 255.12,688.99 256.12,689.11 257.12,688.73 258.13,689.13 259.13,689.26 260.13,688.96 261.13,689.44 262.14,689.04 263.14,689.62 264.14,689.4 265.14,689.17 266.14,689.49 267.15,689.93 268.15,689.69 269.15,689.87 270.15,689.9 271.15,689.66 272.16,690.07 273.16,690.12 274.16,690.43 275.16,690.11 276.16,690.01 277.17,690.73 278.17,690.72 279.17,690.24 280.17,690.45 281.18,691.02 282.18,690.71 283.18,690.78 284.18,691.09 285.18,691.4 286.19,691.29 287.19,690.86 288.19,691.24 289.19,691.77 290.19,691.58 291.2,691.62 292.2,691.76 293.2,691.87 294.2,691.39 295.2,692.12 296.21,691.66 297.21,691.95 298.21,691.85 299.21,691.75 300.21,691.93 301.22,692.25 302.22,692.52 303.22,692.33 304.22,692.42 305.23,692.82 306.23,692.71 307.23,692.81 308.23,692.83 309.23,692.63 310.24,693.24 311.24,692.78 312.24,692.77 313.24,693.39 314.24,693.09 315.25,693.39 316.25,693.25 317.25,693.09 318.25,693.27 319.25,693.3 320.26,693.42 321.26,693.46 322.26,693.19 323.26,693.39 324.26,693.84 325.27,693.73 326.27,693.58 327.27,694.05 328.27,693.66 329.27,694.23 330.28,694.35 331.28,694.05 332.28,693.98 333.28,694.4 334.29,694.24 335.29,693.81 336.29,694.23 337.29,694.5 338.29,694.46 339.3,694.52 340.3,694.13 341.3,694.66 342.3,694.57 343.3,694.28 344.31,694.65 345.31,694.37 346.31,694.22 347.31,694.55 348.31,694.73 349.32,694.71 350.32,694.74 351.32,694.89 352.32,694.74 353.32,694.89 354.33,694.49 355.33,694.4 356.33,694.43 357.33,694.46 358.34,694.49 359.34,694.57 360.34,694.27 361.34,694.66 362.34,694.69 363.35,694.51 364.35,694.45 365.35,695.04 366.35,694.89 367.35,694.91 368.36,694.84 369.36,694.34 370.36,694.53 371.36,694.88 372.36,694.94 373.37,694.45 374.37,694.8 375.37,694.93 376.37,695.01 377.38,694.44 378.38,694.97 379.38,694.82 380.38,695.14 381.38,694.42 382.39,694.97 383.39,695.15 384.39,695.06 385.39,694.6 386.39,694.76 387.4,695.19 388.4,694.89 389.4,694.8 390.4,694.76 391.4,694.84 392.41,694.52 393.41,694.76 394.41,695.18 395.41,695.16 396.41,694.62 397.42,695.03 398.42,695.21 399.42,694.65 400.42,694.76 401.43,694.95 402.43,694.73 403.43,695.05 404.43,695.14 405.43,694.83 406.44,695.21 407.44,695.33 408.44,694.7 409.44,695.08 410.44,694.64 411.45,695.11 412.45,694.59 413.45,694.85 414.45,695.16 415.45,695.09 416.46,694.89 417.46,694.7 418.46,695.22 419.46,695.03 420.46,694.75 421.47,695.26 422.47,695.17 423.47,695.12 424.47,694.93 425.48,695.18 426.48,694.69 427.48,694.77 428.48,695.13 429.48,694.94 430.49,694.83 431.49,694.6 432.49,694.76 433.49,695.21 434.49,694.64 435.5,695.09 436.5,694.91 437.5,694.92" fill="none" stroke="#66a866" stroke-width="1.1" stroke-opacity="0.9" stroke-linejoin="round"/>
<polyline points="64.5,904.89 65.49,905.35 66.49,905.37 67.48,904.99 68.47,905.25 69.46,905.01 70.46,905.26 71.45,905.37 72.44,904.86 73.44,905.07 74.43,904.83 75.42,905.18 76.41,904.8 77.41,905.28 78.4,905.35 79.38,902.96 80.36,901.63 81.35,899.42 82.33,897.73 83.31,896.13 84.29,894.83 85.28,893.53 86.26,891.36 87.24,890.48 88.22,888.6 89.21,886.93 90.19,885.83 91.17,884.52 92.15,882.84 93.14,881.46 94.12,880.42 95.1,879.12 96.13,878.62 97.17,879.1 98.2,879.46 99.23,879.49 100.27,878.96 101.3,879.7 102.33,879.52 103.37,879.78 104.4,879.41 105.38,876.56 106.36,873.12 107.34,869.53 108.33,866.68 109.31,863.27 110.29,860.87 111.27,857.9 112.25,854.86 113.23,852.36 114.21,849.96 115.19,846.83 116.17,844.47 117.16,841.89 118.14,839.9 119.12,837.04 120.1,835.38 121.14,835.28 122.19,835.69 123.23,835.24 124.28,835.43 125.32,835.45 126.37,835.95 127.41,835.51 128.46,835.6 129.5,836.27 130.48,831.29 131.46,826.58 132.44,821.79 133.43,817.06 134.41,812.8 135.39,809.14 136.37,804.69 137.35,800.91 138.33,797.71 139.31,794.21 140.29,790.32 141.27,787.02 142.26,784.47 143.24,780.84 144.22,778.25 145.2,775.65 146.2,775.13 147.2,775.35 148.2,775.81 149.2,775.66 150.2,776.41 151.2,776.13 152.2,776.57 153.2,776.49 154.2,776.23 155.2,776.29 156.22,769.31 157.25,762.48 158.27,756.49 159.29,749.96 160.32,744.36 161.34,739.08 162.36,734.44 163.38,729.71 164.41,725.22 165.43,720.75 166.45,717.21 167.48,713.49 168.5,710.24 169.47,710.11 170.45,710.3 171.43,710.93 172.4,710.46 173.38,711.37 174.35,711.41 175.32,711.58 176.3,711.46 177.27,711.46 178.25,711.62 179.22,711.97 180.2,711.72 181.19,709.2 182.18,706.33 183.16,703.39 184.15,701.45 185.14,699.43 186.13,697.6 187.12,696 188.11,693.74 189.09,693.05 190.08,691.85 191.07,690.84 192.06,689.66 193.05,688.37 194.04,687.93 195.02,687.19 196.01,686.27 197,685.64 198,686.23 199,686.19 200.01,685.87 201.01,686.15 202.01,686.17 203.01,686.77 204.01,686.58 205.02,686.35 206.02,686.43 207.02,687.01 208.02,686.82 209.03,686.9 210.03,686.95 211.03,686.76 212.03,686.7 213.03,687.17 214.04,687 215.04,687.61 216.04,687.36 217.04,687.34 218.04,687.86 219.05,687.72 220.05,687.91 221.05,687.95 222.05,687.97 223.05,688.13 224.06,687.85 225.06,688.05 226.06,687.92 227.06,688.44 228.06,688.16 229.07,688.21 230.07,688.51 231.07,688.07 232.07,688.11 233.07,688.86 234.08,688.36 235.08,688.76 236.08,688.66 237.08,688.78 238.09,688.66 239.09,689.03 240.09,688.61 241.09,688.83 242.09,689.34 243.1,689.32 244.1,689.25 245.1,689.06 246.1,688.91 247.1,689.06 248.11,689.77 249.11,689.83 250.11,689.39 251.11,689.69 252.11,689.55 253.12,689.91 254.12,689.63 255.12,690.03 256.12,689.41 257.12,690.06 258.13,689.79 259.13,690.31 260.13,689.74 261.13,689.72 262.14,690.14 263.14,690.09 264.14,689.9 265.14,689.92 266.14,690.17 267.15,690.52 268.15,690.39 269.15,690.53 270.15,690.18 271.15,690.56 272.16,690.13 273.16,690.17 274.16,690.25 275.16,690.34 276.16,691 277.17,691.09 278.17,690.82 279.17,690.68 280.17,690.78 281.18,691.13 282.18,691.04 283.18,690.97 284.18,691.16 285.18,691.1 286.19,691.48 287.19,690.91 288.19,691.41 289.19,690.9 290.19,691.62 291.2,691.59 292.2,691.71 293.2,691.15 294.2,691.61 295.2,691.33 296.21,691.48 297.21,691.71 298.21,691.52 299.21,692.01 300.21,691.34 301.22,691.61 302.22,691.46 303.22,692.12 304.22,691.9 305.23,691.97 306.23,691.87 307.23,691.78 308.23,691.56 309.23,691.92 310.24,691.92 311.24,692.01 312.24,692.22 313.24,691.91 314.24,691.91 315.25,691.88 316.25,692.44 317.25,692.63 318.25,692.01 319.25,692.1 320.26,692.07 321.26,692.27 322.26,692.41 323.26,692.73 324.26,692.19 325.27,692.29 326.27,692.81 327.27,692.21 328.27,692.87 329.27,692.92 330.28,692.82 331.28,692.35 332.28,692.66 333.28,692.87 334.29,692.67 335.29,692.49 336.29,692.81 337.29,692.92 338.29,692.87 339.3,692.51 340.3,692.43 341.3,692.64 342.3,692.97 343.3,692.82 344.31,693.22 345.31,692.66 346.31,693.12 347.31,692.51 348.31,692.66 349.32,692.54 350.32,693.07 351.32,693.27 352.32,692.81 353.32,692.76 354.33,692.63 355.33,692.73 356.33,692.84 357.33,692.68 358.34,693.04 359.34,692.92 360.34,692.65 361.34,693.17 362.34,692.96 363.35,692.94 364.35,693.33 365.35,692.89 366.35,693.3 367.35,692.77 368.36,693.43 369.36,692.75 370.36,693.38 371.36,693.48 372.36,692.98 373.37,693.17 374.37,693.23 375.37,693.4 376.37,692.96 377.38,693.3 378.38,693.09 379.38,692.77 380.38,693.31 381.38,693.5 382.39,693.14 383.39,693.11 384.39,693.23 385.39,693.58 386.39,693.32 387.4,693.46 388.4,693.44 389.4,692.84 390.4,693.35 391.4,693.63 392.41,693.36 393.41,693.02 394.41,693.32 395.41,693.65 396.41,693.2 397.42,693.1 398.42,693.64 399.42,693.47 400.42,693.18 401.43,693.23 402.43,692.95 403.43,692.99 404.43,693.58 405.43,693.54 406.44,693.47 407.44,693.71 408.44,693.21 409.44,693.7 410.44,693.51 411.45,692.96 412.45,693.34 413.45,693.56 414.45,693.38 415.45,693.2 416.46,693.74 417.46,693.33 418.46,693.25 419.46,693.41 420.46,693.22 421.47,693.25 422.47,693.52 423.47,693 424.47,693.1 425.48,693.13 426.48,693.24 427.48,693.36 428.48,693.08 429.48,693.71 430.49,693.06 431.49,693.07 432.49,693.58 433.49,693.28 434.49,693.2 435.5,693.46 436.5,693.01 437.5,693.19" fill="none" stroke="#80d8e8" stroke-width="1.1" stroke-opacity="0.9" stroke-linejoin="round"/>
<polyline points="64.5,902.99 65.49,903.38 66.49,902.93 67.48,903.19 68.47,903.11 69.46,902.65 70.46,903.08 71.45,903.24 72.44,903.34 73.44,903.06 74.43,903.02 75.42,903.11 76.41,903.29 77.41,903.26 78.4,903.31 79.38,901.3 80.36,898.79 81.35,897.21 82.33,895.01 83.31,893.31 84.29,891.21 85.28,889.32 86.26,887.55 87.24,885.53 88.22,883.94 89.21,882.38 90.19,880.06 91.17,878.73 92.15,877.07 93.14,875.49 94.12,874.01 95.1,872.09 96.13,871.97 97.17,872.28 98.2,872.88 99.23,872.84 100.27,873.09 101.3,872.87 102.33,873.22 103.37,872.84 104.4,873.05 105.38,869.38 106.36,865.35 107.34,861.55 108.33,858 109.31,854.86 110.29,851.28 111.27,848.08 112.25,845.26 113.23,842.07 114.21,838.43 115.19,835.86 116.17,832.91 117.16,829.88 118.14,827.08 119.12,824.34 120.1,822.22 121.14,822.49 122.19,822.24 123.23,822.71 124.28,822.4 125.32,822.3 126.37,823.03 127.41,822.76 128.46,822.81 129.5,822.92 130.48,817.85 131.46,811.88 132.44,806.69 133.43,802.1 134.41,797.54 135.39,792.34 136.37,788.31 137.35,784.42 138.33,779.94 139.31,775.75 140.29,772.07 141.27,768.77 142.26,764.94 143.24,761.64 144.22,758.16 145.2,755.52 146.2,755.35 147.2,755.61 148.2,755.33 149.2,755.66 150.2,755.29 151.2,755.82 152.2,755.81 153.2,755.7 154.2,755.68 155.2,756.12 156.22,750.01 157.25,744.4 158.27,738.85 159.29,733.94 160.32,728.68 161.34,723.87 162.36,720.04 163.38,715.91 164.41,712.37 165.43,708.78 166.45,705.83 167.48,702.73 168.5,699.59 169.47,699.46 170.45,699.63 171.43,699.71 172.4,699.81 173.38,700.22 174.35,700.5 175.32,700.45 176.3,700.59 177.27,700.58 178.25,700.7 179.22,701.25 180.2,700.9 181.19,698.29 182.18,696.67 183.16,694.76 184.15,692.67 185.14,691.51 186.13,690.36 187.12,688.71 188.11,687.66 189.09,686.91 190.08,685.98 191.07,685.41 192.06,684.18 193.05,683.66 194.04,682.87 195.02,683 196.01,682.03 197,681.94 198,681.8 199,681.5 200.01,682.21 201.01,681.74 202.01,681.64 203.01,682.43 204.01,681.97 205.02,681.85 206.02,681.98 207.02,682.47 208.02,682.57 209.03,682.44 210.03,682.5 211.03,682.41 212.03,682.97 213.03,682.38 214.04,682.45 215.04,683.11 216.04,683.19 217.04,683.15 218.04,683.42 219.05,683.41 220.05,683.01 221.05,682.91 222.05,683.34 223.05,682.96 224.06,683.35 225.06,683.1 226.06,683.74 227.06,683.18 228.06,683.86 229.07,684.01 230.07,683.43 231.07,683.77 232.07,683.5 233.07,683.7 234.08,683.62 235.08,683.95 236.08,683.79 237.08,684.12 238.09,684.41 239.09,684.28 240.09,684.67 241.09,684.59 242.09,684.72 243.1,684.29 244.1,684.69 245.1,684.83 246.1,685 247.1,684.96 248.11,684.61 249.11,685.13 250.11,684.81 251.11,685.14 252.11,684.55 253.12,685.03 254.12,685.17 255.12,685.41 256.12,685.28 257.12,685.03 258.13,685.18 259.13,685.36 260.13,685.02 261.13,685.22 262.14,685.81 263.14,685.25 264.14,685.7 265.14,685.21 266.14,685.41 267.15,685.34 268.15,685.65 269.15,685.52 270.15,685.43 271.15,686.23 272.16,685.82 273.16,685.75 274.16,685.74 275.16,685.8 276.16,685.99 277.17,686.16 278.17,685.9 279.17,686.38 280.17,686.04 281.18,686.54 282.18,686.22 283.18,686.56 284.18,686.69 285.18,686.34 286.19,686.94 287.19,686.8 288.19,686.59 289.19,686.7 290.19,686.78 291.2,687.28 292.2,687.16 293.2,686.61 294.2,687.3 295.2,687.11 296.21,687.37 297.21,686.89 298.21,687.07 299.21,687.63 300.21,687.6 301.22,687.45 302.22,687.41 303.22,687.25 304.22,687.39 305.23,687.54 306.23,687.53 307.23,687.62 308.23,687.81 309.23,688.05 310.24,687.91 311.24,688.04 312.24,687.54 313.24,687.91 314.24,687.81 315.25,687.66 316.25,687.83 317.25,688.34 318.25,688.48 319.25,688.07 320.26,687.83 321.26,688.23 322.26,687.95 323.26,688.21 324.26,687.99 325.27,688.41 326.27,688.2 327.27,688.25 328.27,688.21 329.27,688.27 330.28,688.71 331.28,688.82 332.28,688.34 333.28,688.29 334.29,688.68 335.29,688.5 336.29,688.39 337.29,688.91 338.29,688.84 339.3,688.67 340.3,689.12 341.3,688.83 342.3,688.93 343.3,688.9 344.31,689.12 345.31,689.27 346.31,688.67 347.31,688.98 348.31,689.12 349.32,689.26 350.32,689.26 351.32,688.66 352.32,688.76 353.32,689.31 354.33,688.92 355.33,689.42 356.33,689.13 357.33,689.15 358.34,689.03 359.34,688.79 360.34,689.12 361.34,689.3 362.34,688.96 363.35,689.03 364.35,689.3 365.35,689.33 366.35,689.38 367.35,689.01 368.36,689.55 369.36,689.29 370.36,689.74 371.36,689.09 372.36,689.02 373.37,689.66 374.37,689.76 375.37,689.24 376.37,689.39 377.38,689.56 378.38,689.57 379.38,689.62 380.38,689.9 381.38,689.91 382.39,689.15 383.39,689.22 384.39,689.59 385.39,689.45 386.39,689.34 387.4,689.63 388.4,689.51 389.4,690.02 390.4,690.04 391.4,690 392.41,689.59 393.41,689.97 394.41,689.7 395.41,689.34 396.41,689.9 397.42,689.97 398.42,689.5 399.42,689.88 400.42,689.99 401.43,689.57 402.43,689.68 403.43,690.08 404.43,690.17 405.43,689.57 406.44,689.83 407.44,689.71 408.44,690.13 409.44,690.14 410.44,689.69 411.45,689.9 412.45,689.8 413.45,689.78 414.45,690.14 415.45,689.6 416.46,689.7 417.46,690.1 418.46,689.94 419.46,689.91 420.46,689.74 421.47,689.83 422.47,689.96 423.47,690.28 424.47,690.27 425.48,690.17 426.48,690.01 427.48,690.12 428.48,690.06 429.48,690.34 430.49,690.22 431.49,690.26 432.49,690.21 433.49,690.05 434.49,689.95 435.5,689.96 436.5,690.33 437.5,690.28" fill="none" stroke="#d8c464" stroke-width="1.1" stroke-opacity="0.9" stroke-linejoin="round"/>
<polyline points="64.5,897.73 65.49,898.34 66.49,897.7 67.48,897.93 68.47,897.64 69.46,897.62 70.46,897.96 71.45,898.26 72.44,897.77 73.44,897.72 74.43,898.23 75.42,898.23 76.41,898.36 77.41,898.26 78.4,897.81 79.38,895.71 80.36,893.73 81.35,892.08 82.33,890.22 83.31,887.88 84.29,886.45 85.28,884.43 86.26,882.21 87.24,880.74 88.22,878.67 89.21,877.34 90.19,875.44 91.17,873.76 92.15,872.05 93.14,870.26 94.12,868.86 95.1,867.51 96.13,867.08 97.17,867.61 98.2,867.69 99.23,867.66 100.27,867.62 101.3,867.71 102.33,867.71 103.37,868.28 104.4,867.71 105.38,863.77 106.36,860.37 107.34,856.73 108.33,852.46 109.31,849.1 110.29,846.08 111.27,842.74 112.25,839.22 113.23,835.84 114.21,832.69 115.19,829.9 116.17,827.03 117.16,823.76 118.14,821.03 119.12,818.36 120.1,815.66 121.14,815.61 122.19,815.51 123.23,816.45 124.28,816.21 125.32,816.59 126.37,816.7 127.41,816.43 128.46,816.51 129.5,816.99 130.48,811.89 131.46,806.36 132.44,801.51 133.43,796.24 134.41,791.73 135.39,787.41 136.37,782.65 137.35,778.54 138.33,774.93 139.31,770.49 140.29,766.68 141.27,763.29 142.26,759.73 143.24,756.68 144.22,753.23 145.2,750.32 146.2,750.21 147.2,750.89 148.2,751.23 149.2,750.92 150.2,751.28 151.2,751.8 152.2,751.25 153.2,751.45 154.2,751.71 155.2,751.94 156.22,746.02 157.25,740.13 158.27,735.12 159.29,729.99 160.32,725.65 161.34,721.24 162.36,717.23 163.38,713.53 164.41,709.44 165.43,706.62 166.45,703.32 167.48,699.88 168.5,697.39 169.47,697.95 170.45,698.12 171.43,698.25 172.4,697.83 173.38,698.48 174.35,698.39 175.32,698.66 176.3,698.73 177.27,698.93 178.25,698.79 179.22,698.65 180.2,699.26 181.19,696.2 182.18,694.17 183.16,692.62 184.15,690.42 185.14,688.93 186.13,687.87 187.12,686.47 188.11,685.13 189.09,684.17 190.08,682.89 191.07,682.29 192.06,681.7 193.05,680.46 194.04,680.02 195.02,679.57 196.01,678.81 197,678.94 198,678.97 199,678.42 200.01,678.83 201.01,678.97 202.01,678.67 203.01,679.4 204.01,679.17 205.02,679.11 206.02,679.26 207.02,679.23 208.02,679.68 209.03,680.07 210.03,679.74 211.03,679.51 212.03,680.23 213.03,680.28 214.04,680.08 215.04,680.36 216.04,680.06 217.04,680.62 218.04,680.85 219.05,680.29 220.05,680.55 221.05,680.57 222.05,680.49 223.05,680.56 224.06,680.84 225.06,680.64 226.06,681.17 227.06,680.95 228.06,681.28 229.07,681.69 230.07,681.65 231.07,681.26 232.07,681.22 233.07,681.75 234.08,681.32 235.08,681.76 236.08,681.54 237.08,682 238.09,681.96 239.09,682.07 240.09,682.3 241.09,682.07 242.09,682.13 243.1,682.18 244.1,682.05 245.1,682.18 246.1,682.28 247.1,682.48 248.11,682.22 249.11,682.94 250.11,682.95 251.11,683.14 252.11,683.09 253.12,682.48 254.12,683.08 255.12,683.25 256.12,683.33 257.12,683.29 258.13,683.45 259.13,683.25 260.13,683.09 261.13,683.2 262.14,683.45 263.14,683.46 264.14,683.59 265.14,683.13 266.14,683.4 267.15,683.8 268.15,683.75 269.15,683.6 270.15,683.72 271.15,683.52 272.16,683.98 273.16,684.09 274.16,683.72 275.16,683.81 276.16,683.94 277.17,684.27 278.17,683.72 279.17,684.5 280.17,684.59 281.18,684.49 282.18,684.4 283.18,684.25 284.18,684.66 285.18,684.04 286.19,684.16 287.19,684.62 288.19,684.36 289.19,684.4 290.19,684.32 291.2,684.91 292.2,685.02 293.2,684.82 294.2,684.45 295.2,685.05 296.21,685.09 297.21,684.83 298.21,684.72 299.21,684.89 300.21,684.88 301.22,684.83 302.22,685.51 303.22,685.39 304.22,685.21 305.23,685.12 306.23,684.99 307.23,685.38 308.23,685.25 309.23,685.6 310.24,685.16 311.24,685.43 312.24,685.53 313.24,685.62 314.24,685.43 315.25,685.46 316.25,685.88 317.25,685.82 318.25,685.75 319.25,685.76 320.26,685.57 321.26,686.18 322.26,685.49 323.26,685.86 324.26,685.52 325.27,685.54 326.27,686.16 327.27,686.02 328.27,685.89 329.27,686.27 330.28,685.66 331.28,685.95 332.28,686.47 333.28,686.36 334.29,686.14 335.29,686.35 336.29,686.52 337.29,686.11 338.29,685.89 339.3,686.5 340.3,686.28 341.3,686.58 342.3,686.42 343.3,686.11 344.31,685.94 345.31,686.4 346.31,686.32 347.31,686.25 348.31,686.53 349.32,686.3 350.32,686.65 351.32,686.07 352.32,686.04 353.32,686.33 354.33,686.18 355.33,686.78 356.33,686.58 357.33,686.85 358.34,686.33 359.34,686.78 360.34,686.9 361.34,686.82 362.34,686.75 363.35,686.25 364.35,686.88 365.35,686.24 366.35,686.46 367.35,686.33 368.36,686.3 369.36,686.98 370.36,686.71 371.36,686.94 372.36,686.54 373.37,686.56 374.37,686.92 375.37,687.04 376.37,686.89 377.38,686.99 378.38,686.97 379.38,686.92 380.38,687.04 381.38,686.94 382.39,686.34 383.39,686.49 384.39,686.62 385.39,686.55 386.39,687.14 387.4,687.07 388.4,686.82 389.4,686.58 390.4,686.48 391.4,686.45 392.41,686.56 393.41,686.63 394.41,687.11 395.41,686.68 396.41,686.84 397.42,686.93 398.42,687.24 399.42,687.03 400.42,686.69 401.43,686.85 402.43,686.75 403.43,686.67 404.43,687.1 405.43,686.96 406.44,686.79 407.44,687.03 408.44,686.62 409.44,687 410.44,687.18 411.45,687.27 412.45,686.97 413.45,686.74 414.45,687.15 415.45,687.35 416.46,686.82 417.46,686.82 418.46,686.7 419.46,686.84 420.46,687.18 421.47,687.02 422.47,686.73 423.47,686.75 424.47,686.72 425.48,687.09 426.48,686.68 427.48,686.77 428.48,686.9 429.48,687.23 430.49,687.31 431.49,686.93 432.49,687.24 433.49,686.76 434.49,686.8 435.5,686.9 436.5,687.08 437.5,687.15" fill="none" stroke="#4c4cc8" stroke-width="1.1" stroke-opacity="0.9" stroke-linejoin="round"/>
<line x1="66" y1="893" x2="66" y2="910" stroke="#888" stroke-width="1" stroke-opacity="0.6"/>
<line x1="78.4" y1="895" x2="78.4" y2="918" stroke="#888" stroke-width="1" stroke-opacity="0.6"/>
<line x1="95.1" y1="862" x2="95.1" y2="885" stroke="#888" stroke-width="1" stroke-opacity="0.6"/>
<line x1="104.4" y1="864" x2="104.4" y2="892" stroke="#888" stroke-width="1" stroke-opacity="0.6"/>
<line x1="129.5" y1="812" x2="129.5" y2="840" stroke="#888" stroke-width="1" stroke-opacity="0.6"/>
<line x1="155.2" y1="745" x2="155.2" y2="775" stroke="#888" stroke-width="1" stroke-opacity="0.6"/>
<line x1="180.2" y1="690" x2="180.2" y2="722" stroke="#888" stroke-width="1" stroke-opacity="0.6"/>
<line x1="432" y1="679" x2="432" y2="694" stroke="#4c4cc8" stroke-width="1.2" stroke-opacity="0.9"/>
<line x1="430" y1="687" x2="437" y2="687" stroke="#4c4cc8" stroke-width="1" stroke-opacity="0.8"/>
<line x1="432" y1="693" x2="432" y2="700" stroke="#c45ce0" stroke-width="1" stroke-opacity="0.8"/>
<line x1="432" y1="785" x2="432" y2="796" stroke="#d04848" stroke-width="1" stroke-opacity="0.9"/>
<line x1="429" y1="790.5" x2="436" y2="790.5" stroke="#d04848" stroke-width="1" stroke-opacity="0.8"/>
<line x1="337" y1="682" x2="337" y2="688" stroke="#4c4cc8" stroke-width="1" stroke-opacity="0.8"/>
<line x1="337" y1="760" x2="337" y2="766" stroke="#d04848" stroke-width="1" stroke-opacity="0.8"/>
<text x="0" y="993.9" font-size="30" font-weight="bold" fill="#000" transform="translate(-0.3,0) scale(0.94,1)">D</text>
<line x1="63.9" y1="975.6" x2="63.9" y2="1257" stroke="#666" stroke-width="1"/>
<line x1="61.4" y1="984.6" x2="65.9" y2="984.6" stroke="#666" stroke-width="1"/>
<line x1="61.4" y1="1018.5" x2="65.9" y2="1018.5" stroke="#666" stroke-width="1"/>
<line x1="61.4" y1="1052.4" x2="65.9" y2="1052.4" stroke="#666" stroke-width="1"/>
<line x1="61.4" y1="1086.3" x2="65.9" y2="1086.3" stroke="#666" stroke-width="1"/>
<line x1="61.4" y1="1120.2" x2="65.9" y2="1120.2" stroke="#666" stroke-width="1"/>
<line x1="61.4" y1="1154.1" x2="65.9" y2="1154.1" stroke="#666" stroke-width="1"/>
<line x1="61.4" y1="1188" x2="65.9" y2="1188" stroke="#666" stroke-width="1"/>
<line x1="61.4" y1="1221.9" x2="65.9" y2="1221.9" stroke="#666" stroke-width="1"/>
<line x1="62.7" y1="1001.55" x2="65.1" y2="1001.55" stroke="#999" stroke-width="1"/>
<line x1="62.7" y1="1035.45" x2="65.1" y2="1035.45" stroke="#999" stroke-width="1"/>
<line x1="62.7" y1="1069.35" x2="65.1" y2="1069.35" stroke="#999" stroke-width="1"/>
<line x1="62.7" y1="1103.25" x2="65.1" y2="1103.25" stroke="#999" stroke-width="1"/>
<line x1="62.7" y1="1137.15" x2="65.1" y2="1137.15" stroke="#999" stroke-width="1"/>
<line x1="62.7" y1="1171.05" x2="65.1" y2="1171.05" stroke="#999" stroke-width="1"/>
<line x1="62.7" y1="1204.95" x2="65.1" y2="1204.95" stroke="#999" stroke-width="1"/>
<line x1="62.7" y1="1238.85" x2="65.1" y2="1238.85" stroke="#999" stroke-width="1"/>
<line x1="61.7" y1="1255" x2="450.9" y2="1255" stroke="#666" stroke-width="1"/>
<line x1="63.9" y1="1253" x2="63.9" y2="1257" stroke="#666" stroke-width="1"/>
<line x1="96.15" y1="1253" x2="96.15" y2="1257" stroke="#666" stroke-width="1"/>
<line x1="128.4" y1="1253" x2="128.4" y2="1257" stroke="#666" stroke-width="1"/>
<line x1="160.65" y1="1253" x2="160.65" y2="1257" stroke="#666" stroke-width="1"/>
<line x1="192.9" y1="1253" x2="192.9" y2="1257" stroke="#666" stroke-width="1"/>
<line x1="225.15" y1="1253" x2="225.15" y2="1257" stroke="#666" stroke-width="1"/>
<line x1="257.4" y1="1253" x2="257.4" y2="1257" stroke="#666" stroke-width="1"/>
<line x1="289.65" y1="1253" x2="289.65" y2="1257" stroke="#666" stroke-width="1"/>
<line x1="321.9" y1="1253" x2="321.9" y2="1257" stroke="#666" stroke-width="1"/>
<line x1="354.15" y1="1253" x2="354.15" y2="1257" stroke="#666" stroke-width="1"/>
<line x1="386.4" y1="1253" x2="386.4" y2="1257" stroke="#666" stroke-width="1"/>
<line x1="418.65" y1="1253" x2="418.65" y2="1257" stroke="#666" stroke-width="1"/>
<line x1="450.9" y1="1253" x2="450.9" y2="1257" stroke="#666" stroke-width="1"/>
<text x="60.6" y="1022.8" font-size="16" text-anchor="end" fill="#111">120</text>
<text x="59.8" y="1060.3" font-size="16" text-anchor="end" fill="#111">RU</text>
<text x="60.4" y="1125.8" font-size="16" text-anchor="end" fill="#111">60</text>
<text x="60.4" y="1228.5" font-size="16" text-anchor="end" fill="#111">0</text>
<text x="49.5" y="1272.2" font-size="16.3" fill="#111">500</text>
<text x="120.7" y="1273" font-size="16.3" fill="#111">time (sec)</text>
<text x="244.7" y="1272.3" font-size="16.3" fill="#111">2000</text>
<text x="373" y="1272.3" font-size="16.3" fill="#111">3000</text>
<text x="264.1" y="1004.8" font-size="16.2" fill="#111">Mab 2-117 (Type C)</text>
<line x1="161.3" y1="1134.6" x2="176.6" y2="1134.6" stroke="#d04848" stroke-width="1.5" stroke-opacity="0.9"/>
<text x="180.8" y="1138.1" font-size="14" fill="#111">N2225A</text>
<line x1="161.3" y1="1155.96" x2="176.6" y2="1155.96" stroke="#66a866" stroke-width="1.5" stroke-opacity="0.9"/>
<text x="180.8" y="1159.7" font-size="14" fill="#111">Q2213A</text>
<line x1="161.3" y1="1177.32" x2="176.6" y2="1177.32" stroke="#4c4cc8" stroke-width="1.5" stroke-opacity="0.9"/>
<text x="180.8" y="1181.3" font-size="14" fill="#111">Q2270A</text>
<line x1="161.3" y1="1198.68" x2="176.6" y2="1198.68" stroke="#c45ce0" stroke-width="1.5" stroke-opacity="0.9"/>
<text x="180.8" y="1202.9" font-size="14" fill="#111">T2272A</text>
<line x1="161.3" y1="1220.04" x2="176.6" y2="1220.04" stroke="#80d8e8" stroke-width="1.5" stroke-opacity="0.9"/>
<text x="180.8" y="1224.5" font-size="14" fill="#111">WTC2</text>
<line x1="161.3" y1="1241.4" x2="176.6" y2="1241.4" stroke="#d8c464" stroke-width="1.5" stroke-opacity="0.9"/>
<text x="180.8" y="1246.1" font-size="14" fill="#111">Y2195A</text>
<polyline points="64.5,1222.49 65.48,1222.08 66.46,1221.99 67.44,1222.05 68.42,1222.02 69.4,1222.37 70.38,1222.64 71.36,1222.57 72.34,1222.52 73.32,1222.34 74.3,1222.1 75.28,1222.64 76.26,1222.41 77.24,1222.7 78.22,1222.37 79.2,1222.04 80.23,1220.22 81.25,1218.97 82.28,1216.63 83.31,1215.14 84.33,1213.45 85.36,1211.71 86.39,1210.57 87.41,1208.93 88.44,1206.74 89.47,1205.89 90.49,1204.06 91.52,1202.26 92.55,1201.38 93.57,1199.58 94.6,1198.27 95.63,1198.17 96.66,1198.44 97.69,1198.32 98.72,1198.93 99.75,1198.29 100.78,1198.55 101.81,1198.63 102.84,1198.99 103.87,1198.76 104.9,1198.96 105.88,1194.2 106.86,1190.37 107.84,1186.07 108.82,1182.29 109.8,1178.37 110.78,1174.13 111.76,1170.56 112.74,1167.03 113.72,1163.67 114.7,1159.62 115.68,1156.56 116.66,1153.54 117.64,1149.82 118.62,1147.4 119.6,1144.08 120.63,1144.26 121.66,1143.89 122.69,1144.35 123.72,1144.5 124.75,1144.38 125.78,1145.09 126.81,1144.83 127.84,1144.77 128.87,1145.19 129.9,1145.33 130.91,1138.91 131.91,1133.04 132.92,1127.8 133.93,1122.52 134.93,1117.62 135.94,1113.24 136.95,1107.86 137.95,1103.65 138.96,1099.09 139.97,1095.19 140.97,1091.62 141.98,1087.59 142.99,1084.18 143.99,1080.21 145,1077.12 146.02,1076.98 147.04,1077.55 148.06,1077.46 149.08,1078.16 150.1,1078.18 151.12,1078.44 152.14,1078.67 153.16,1078.73 154.18,1078.53 155.2,1078.95 156.2,1074.07 157.2,1068.93 158.2,1064.17 159.2,1059.95 160.2,1055.53 161.2,1051.2 162.2,1047.73 163.2,1044.26 164.2,1040.36 165.2,1037.13 166.2,1034.04 167.2,1031.73 168.2,1028.43 169.2,1026.19 170.2,1023.15 171.17,1023.32 172.15,1024.05 173.12,1023.79 174.09,1024.16 175.06,1024.44 176.04,1024.28 177.01,1024.68 177.98,1024.38 178.95,1024.5 179.93,1024.55 180.9,1025.14 181.89,1022.62 182.89,1020.12 183.88,1017.94 184.88,1016.49 185.87,1014.22 186.86,1013.05 187.86,1011.71 188.85,1010.24 189.85,1009.14 190.84,1007.67 191.84,1006.85 192.83,1006.17 193.82,1004.73 194.82,1004.3 195.81,1003.74 196.81,1003.2 197.8,1002.46 198.8,1003.38 199.8,1004.52 200.8,1005.88 201.8,1007.02 202.79,1007.89 203.79,1009.39 204.79,1010.21 205.79,1010.91 206.79,1012.39 207.79,1013.43 208.79,1014.18 209.79,1015.59 210.78,1016.52 211.78,1017.67 212.78,1018.24 213.78,1019.21 214.78,1020.18 215.78,1021.2 216.78,1022.04 217.78,1022.38 218.77,1023.79 219.77,1024.11 220.77,1025.04 221.77,1025.69 222.77,1026.99 223.77,1027.17 224.77,1028.67 225.77,1028.92 226.76,1029.54 227.76,1030.63 228.76,1031.58 229.76,1032.09 230.76,1032.51 231.76,1033.15 232.76,1034.05 233.76,1034.39 234.75,1035.05 235.75,1036 236.75,1036.18 237.75,1037.21 238.75,1037.93 239.75,1038.61 240.75,1038.82 241.75,1039.6 242.74,1040.01 243.74,1040.72 244.74,1041.1 245.74,1041.67 246.74,1042.52 247.74,1042.64 248.74,1043.71 249.74,1043.88 250.73,1044.17 251.73,1044.76 252.73,1045.15 253.73,1046.09 254.73,1046.28 255.73,1046.54 256.73,1047.29 257.73,1048.09 258.72,1048.22 259.72,1048.38 260.72,1049.16 261.72,1049.71 262.72,1050.3 263.72,1050.36 264.72,1050.83 265.72,1051.45 266.71,1052.03 267.71,1052.71 268.71,1052.74 269.71,1052.86 270.71,1053.53 271.71,1053.63 272.71,1054.4 273.71,1054.93 274.7,1054.92 275.7,1055.43 276.7,1056.04 277.7,1056.01 278.7,1056.6 279.7,1057.03 280.7,1057.7 281.7,1057.97 282.69,1057.82 283.69,1058.5 284.69,1058.98 285.69,1059.26 286.69,1059.5 287.69,1059.94 288.69,1060.72 289.69,1060.69 290.68,1061.32 291.68,1061.23 292.68,1061.66 293.68,1062.23 294.68,1062.3 295.68,1063.04 296.68,1062.91 297.68,1063.59 298.67,1063.98 299.67,1063.62 300.67,1064.13 301.67,1064.37 302.67,1064.9 303.67,1065.56 304.67,1065.6 305.67,1065.81 306.66,1065.89 307.66,1066.26 308.66,1066.28 309.66,1067.25 310.66,1066.88 311.66,1067.69 312.66,1067.49 313.66,1068.12 314.65,1068.63 315.65,1068.69 316.65,1069.25 317.65,1068.93 318.65,1069.81 319.65,1070.11 320.65,1070.37 321.65,1070.11 322.64,1070.51 323.64,1071.15 324.64,1071.14 325.64,1071.42 326.64,1071.16 327.64,1071.58 328.64,1071.79 329.64,1072.07 330.63,1072.63 331.63,1072.53 332.63,1073.16 333.63,1073.63 334.63,1073.46 335.63,1073.36 336.63,1074.09 337.63,1074.54 338.62,1074.23 339.62,1074.99 340.62,1075.18 341.62,1075.07 342.62,1075.14 343.62,1075.54 344.62,1075.84 345.62,1075.74 346.61,1076.5 347.61,1076.49 348.61,1076.69 349.61,1077.19 350.61,1076.78 351.61,1077.16 352.61,1077.32 353.61,1077.8 354.6,1078.21 355.6,1077.67 356.6,1077.89 357.6,1078.19 358.6,1078.66 359.6,1079.04 360.6,1079.35 361.6,1079.28 362.59,1079.28 363.59,1079.66 364.59,1079.66 365.59,1079.55 366.59,1079.86 367.59,1080.26 368.59,1080.57 369.59,1080.82 370.58,1081.03 371.58,1080.65 372.58,1080.97 373.58,1081.08 374.58,1081.5 375.58,1081.94 376.58,1082.03 377.58,1082.07 378.57,1081.87 379.57,1082.3 380.57,1082.67 381.57,1082.44 382.57,1082.82 383.57,1082.96 384.57,1083.01 385.57,1083.29 386.56,1083.53 387.56,1083.99 388.56,1084.09 389.56,1083.97 390.56,1084.46 391.56,1084.37 392.56,1084.57 393.56,1084.66 394.55,1085.07 395.55,1084.89 396.55,1084.92 397.55,1085.38 398.55,1085.3 399.55,1085.33 400.55,1085.86 401.55,1085.87 402.54,1085.52 403.54,1086.03 404.54,1086.21 405.54,1086.18 406.54,1086.81 407.54,1086.19 408.54,1086.64 409.54,1087.08 410.53,1086.91 411.53,1087.03 412.53,1087.51 413.53,1087.47 414.53,1087.61 415.53,1087.81 416.53,1087.46 417.53,1087.97 418.52,1087.59 419.52,1087.82 420.52,1088.41 421.52,1088.58 422.52,1088.79 423.52,1088.32 424.52,1088.68 425.52,1088.48 426.51,1088.58 427.51,1089.14 428.51,1088.75 429.51,1088.88 430.51,1089.56 431.51,1089.33 432.51,1089.55 433.51,1089.58 434.5,1089.63 435.5,1089.93 436.5,1090.37 437.5,1090.37 438.5,1089.9" fill="none" stroke="#c45ce0" stroke-width="1.1" stroke-opacity="0.9" stroke-linejoin="round"/>
<polyline points="64.5,1216.88 65.48,1216.88 66.46,1217.16 67.44,1217.34 68.42,1217.39 69.4,1216.64 70.38,1216.78 71.36,1217.35 72.34,1217.23 73.32,1217.28 74.3,1216.84 75.28,1216.63 76.26,1217.13 77.24,1216.61 78.22,1216.78 79.2,1216.79 80.23,1214.99 81.25,1213.38 82.28,1212.01 83.31,1210.06 84.33,1208.79 85.36,1206.91 86.39,1205.3 87.41,1203.83 88.44,1202.45 89.47,1201.24 90.49,1199.25 91.52,1197.87 92.55,1196.89 93.57,1195.73 94.6,1194.35 95.63,1193.76 96.66,1194.13 97.69,1193.83 98.72,1194.11 99.75,1194.07 100.78,1194.15 101.81,1194.06 102.84,1194.21 103.87,1194.86 104.9,1194.64 105.88,1191.21 106.86,1187.49 107.84,1184.29 108.82,1181.52 109.8,1178.48 110.78,1175.11 111.76,1171.86 112.74,1169.32 113.72,1166.68 114.7,1164.03 115.68,1161.43 116.66,1159 117.64,1155.81 118.62,1154.01 119.6,1151.28 120.63,1151.74 121.66,1152.07 122.69,1152.42 123.72,1152.59 124.75,1153.18 125.78,1153.05 126.81,1153.19 127.84,1153.42 128.87,1153.66 129.9,1153.87 130.91,1148.7 131.91,1142.83 132.92,1137.46 133.93,1132.51 134.93,1127.8 135.94,1122.95 136.95,1118.48 137.95,1114.44 138.96,1110.33 139.97,1106.37 140.97,1102.6 141.98,1098.66 142.99,1095.01 143.99,1091.91 145,1088.29 146.02,1088.96 147.04,1089.27 148.06,1089.33 149.08,1088.98 150.1,1089.61 151.12,1089.45 152.14,1089.36 153.16,1090.16 154.18,1089.83 155.2,1089.66 156.2,1083.81 157.2,1078.16 158.2,1072.91 159.2,1067 160.2,1062.62 161.2,1057.39 162.2,1052.93 163.2,1048.69 164.2,1045.15 165.2,1041.41 166.2,1037.82 167.2,1033.97 168.2,1031.08 169.2,1027.9 170.2,1024.9 171.17,1025.23 172.15,1025.82 173.12,1025.48 174.09,1025.71 175.06,1025.81 176.04,1026.37 177.01,1026.07 177.98,1026.63 178.95,1026.89 179.93,1026.84 180.9,1026.64 181.89,1023.41 182.89,1020.51 183.88,1017.58 184.88,1015.01 185.87,1012.33 186.86,1010.62 187.86,1007.86 188.85,1006.52 189.85,1004.66 190.84,1003 191.84,1001.96 192.83,1000.82 193.82,999.34 194.82,998.85 195.81,997.69 196.81,996.58 197.8,995.87 198.8,995.72 199.8,996.19 200.8,995.94 201.8,996.47 202.8,996.96 203.8,997.67 204.79,997.74 205.79,997.98 206.79,998.42 207.79,998.63 208.79,998.84 209.79,999.15 210.79,999.42 211.79,1000.44 212.79,1000.16 213.79,1000.75 214.79,1001.12 215.79,1001.09 216.78,1001.44 217.78,1001.68 218.78,1002.36 219.78,1002.37 220.78,1003.14 221.78,1003.64 222.78,1003.22 223.78,1004.22 224.78,1004.42 225.78,1004.27 226.78,1004.92 227.78,1005.05 228.77,1005.3 229.77,1005.65 230.77,1006.44 231.77,1006.3 232.77,1006.64 233.77,1006.69 234.77,1007.58 235.77,1007.43 236.77,1007.69 237.77,1007.98 238.77,1008.74 239.77,1008.47 240.76,1008.95 241.76,1009.43 242.76,1009.45 243.76,1010.03 244.76,1010.55 245.76,1010.2 246.76,1011.06 247.76,1011.06 248.76,1011.63 249.76,1011.34 250.76,1011.55 251.76,1012.48 252.75,1012.2 253.75,1013.01 254.75,1012.73 255.75,1013.54 256.75,1013.8 257.75,1013.53 258.75,1014.37 259.75,1014.36 260.75,1014.83 261.75,1014.63 262.75,1015.18 263.75,1015.36 264.74,1015.39 265.74,1015.76 266.74,1016.55 267.74,1016.22 268.74,1017.03 269.74,1016.85 270.74,1017.04 271.74,1017.56 272.74,1017.8 273.74,1017.86 274.74,1018.02 275.74,1018.56 276.73,1018.39 277.73,1018.73 278.73,1019.51 279.73,1019.26 280.73,1019.67 281.73,1020.25 282.73,1019.91 283.73,1020.01 284.73,1020.71 285.73,1020.97 286.73,1021.29 287.73,1021.7 288.72,1021.6 289.72,1021.93 290.72,1022.19 291.72,1021.87 292.72,1022.83 293.72,1022.41 294.72,1022.71 295.72,1022.87 296.72,1023.64 297.72,1023.96 298.72,1023.87 299.72,1023.7 300.71,1023.93 301.71,1024.2 302.71,1024.5 303.71,1024.68 304.71,1025.5 305.71,1025.36 306.71,1025.28 307.71,1026.18 308.71,1025.88 309.71,1025.88 310.71,1026.06 311.71,1026.52 312.7,1026.94 313.7,1027.27 314.7,1027.3 315.7,1027.83 316.7,1027.83 317.7,1028.2 318.7,1028.05 319.7,1028.16 320.7,1028.23 321.7,1028.88 322.7,1028.57 323.7,1028.99 324.69,1029.2 325.69,1029.34 326.69,1029.76 327.69,1029.78 328.69,1029.75 329.69,1030.14 330.69,1030.12 331.69,1030.68 332.69,1030.51 333.69,1030.83 334.69,1031.18 335.69,1031.05 336.68,1031.34 337.68,1031.69 338.68,1031.83 339.68,1032.19 340.68,1032.3 341.68,1032.63 342.68,1032.44 343.68,1032.93 344.68,1032.73 345.68,1033.58 346.68,1033.16 347.68,1033.31 348.67,1034.15 349.67,1033.95 350.67,1033.79 351.67,1034.04 352.67,1034.2 353.67,1034.7 354.67,1034.62 355.67,1035.04 356.67,1035.5 357.67,1035.6 358.67,1035.35 359.67,1035.75 360.66,1036 361.66,1036.33 362.66,1036.37 363.66,1036.74 364.66,1036.85 365.66,1036.8 366.66,1036.78 367.66,1037.27 368.66,1037.43 369.66,1037.23 370.66,1037.68 371.66,1037.96 372.65,1037.87 373.65,1037.85 374.65,1037.82 375.65,1038.43 376.65,1038.26 377.65,1038.36 378.65,1038.42 379.65,1039.17 380.65,1039.3 381.65,1038.97 382.65,1039.17 383.65,1039.39 384.64,1039.71 385.64,1039.47 386.64,1039.68 387.64,1040.29 388.64,1040.6 389.64,1040.03 390.64,1040.54 391.64,1040.81 392.64,1040.72 393.64,1041.25 394.64,1040.76 395.64,1041.41 396.63,1041.24 397.63,1041.69 398.63,1041.82 399.63,1042.24 400.63,1042.16 401.63,1041.97 402.63,1041.96 403.63,1042.62 404.63,1042.81 405.63,1042.7 406.63,1042.7 407.63,1043 408.62,1042.92 409.62,1043.53 410.62,1043.55 411.62,1043.25 412.62,1043.24 413.62,1043.5 414.62,1043.88 415.62,1044.11 416.62,1044.35 417.62,1044.37 418.62,1044.38 419.62,1044.38 420.61,1044.87 421.61,1045 422.61,1044.56 423.61,1045.4 424.61,1045.09 425.61,1045.09 426.61,1045.18 427.61,1045.68 428.61,1045.75 429.61,1046.11 430.61,1045.64 431.61,1045.99 432.6,1046.36 433.6,1046.1 434.6,1046.5 435.6,1046.89 436.6,1046.35 437.6,1046.92 438.6,1047.19" fill="none" stroke="#80d8e8" stroke-width="1.1" stroke-opacity="0.9" stroke-linejoin="round"/>
<polyline points="64.5,1217.05 65.48,1217.17 66.46,1216.81 67.44,1217.26 68.42,1216.84 69.4,1216.61 70.38,1217.35 71.36,1217.18 72.34,1217.39 73.32,1216.73 74.3,1217.02 75.28,1217.36 76.26,1216.94 77.24,1217.12 78.22,1217.18 79.2,1217.33 80.23,1215.15 81.25,1212.26 82.28,1210.26 83.31,1208.46 84.33,1206.45 85.36,1204.41 86.39,1202.59 87.41,1200.53 88.44,1198.61 89.47,1196.47 90.49,1194.64 91.52,1193.06 92.55,1191.13 93.57,1189.63 94.6,1187.51 95.63,1187.9 96.66,1187.82 97.69,1188.27 98.72,1188.34 99.75,1187.84 100.78,1188.4 101.81,1188.58 102.84,1188.8 103.87,1188.42 104.9,1188.66 105.88,1184.76 106.86,1181.2 107.84,1177.9 108.82,1175.18 109.8,1171.89 110.78,1168.32 111.76,1165.51 112.74,1162.4 113.72,1159.46 114.7,1157 115.68,1154.22 116.66,1151.83 117.64,1148.57 118.62,1146.06 119.6,1144.08 120.63,1144.24 121.66,1144.14 122.69,1144.59 123.72,1144.79 124.75,1144.98 125.78,1144.33 126.81,1144.46 127.84,1144.58 128.87,1144.71 129.9,1145.06 130.91,1139.47 131.91,1133.77 132.92,1128.31 133.93,1122.37 134.93,1117.35 135.94,1112.87 136.95,1108.5 137.95,1104.02 138.96,1099.74 139.97,1095.5 140.97,1091.35 141.98,1087.9 142.99,1083.99 143.99,1080.46 145,1077.08 146.02,1077.21 147.04,1077.21 148.06,1078.15 149.08,1078.11 150.1,1078 151.12,1078.37 152.14,1078.2 153.16,1078.65 154.18,1079.23 155.2,1078.71 156.2,1073.7 157.2,1068.56 158.2,1064.28 159.2,1059.31 160.2,1055.44 161.2,1051.54 162.2,1047.45 163.2,1044.18 164.2,1040.88 165.2,1037.02 166.2,1034.4 167.2,1031.53 168.2,1028.86 169.2,1026.24 170.2,1023.8 171.17,1023.46 172.15,1024.11 173.12,1023.96 174.09,1024.04 175.06,1024.46 176.04,1024.26 177.01,1024.82 177.98,1024.8 178.95,1025.06 179.93,1024.52 180.9,1025.36 181.89,1022.44 182.89,1019.36 183.88,1017.41 184.88,1015.26 185.87,1013.24 186.86,1011.48 187.86,1010.57 188.85,1008.81 189.85,1007.06 190.84,1005.88 191.84,1005.4 192.83,1004.49 193.82,1003.3 194.82,1002.72 195.81,1001.58 196.81,1000.87 197.8,1000.9 198.8,1000.47 199.8,1001.24 200.8,1001.47 201.8,1001.91 202.8,1001.91 203.8,1002.18 204.79,1002.22 205.79,1002.74 206.79,1003.45 207.79,1003.48 208.79,1003.89 209.79,1004.12 210.79,1004.36 211.79,1005.21 212.79,1005.49 213.79,1005.1 214.79,1006.14 215.79,1006.17 216.78,1006.43 217.78,1006.62 218.78,1006.9 219.78,1007.22 220.78,1007.55 221.78,1007.82 222.78,1008.35 223.78,1008.71 224.78,1009.09 225.78,1008.88 226.78,1009.02 227.78,1009.77 228.77,1010.02 229.77,1009.92 230.77,1010.47 231.77,1011.01 232.77,1010.78 233.77,1010.89 234.77,1011.74 235.77,1011.86 236.77,1012.46 237.77,1012.41 238.77,1012.39 239.77,1013.25 240.76,1013.53 241.76,1013.8 242.76,1013.73 243.76,1014.18 244.76,1013.91 245.76,1014.21 246.76,1014.71 247.76,1014.69 248.76,1015.43 249.76,1015.41 250.76,1015.66 251.76,1016.27 252.75,1016.12 253.75,1016.33 254.75,1016.77 255.75,1016.8 256.75,1017.37 257.75,1017.05 258.75,1017.65 259.75,1017.56 260.75,1018.23 261.75,1017.9 262.75,1018.4 263.75,1018.83 264.74,1018.98 265.74,1018.94 266.74,1019.73 267.74,1020.01 268.74,1019.48 269.74,1020.12 270.74,1020.17 271.74,1020.85 272.74,1020.61 273.74,1021.29 274.74,1021.31 275.74,1021.08 276.73,1021.93 277.73,1021.5 278.73,1022.09 279.73,1022.49 280.73,1022.78 281.73,1022.25 282.73,1022.69 283.73,1023.01 284.73,1022.95 285.73,1023.77 286.73,1023.96 287.73,1023.38 288.72,1023.89 289.72,1024.17 290.72,1024.53 291.72,1024.26 292.72,1025.02 293.72,1024.9 294.72,1025.06 295.72,1025.53 296.72,1025.26 297.72,1025.66 298.72,1025.55 299.72,1026.33 300.71,1025.93 301.71,1026.11 302.71,1026.74 303.71,1026.63 304.71,1027.29 305.71,1026.81 306.71,1027.38 307.71,1027.36 308.71,1027.3 309.71,1027.74 310.71,1027.56 311.71,1028.48 312.7,1028.32 313.7,1028.15 314.7,1028.55 315.7,1028.89 316.7,1029.1 317.7,1028.78 318.7,1029.21 319.7,1029.75 320.7,1029.81 321.7,1029.59 322.7,1029.56 323.7,1029.82 324.69,1030.38 325.69,1030.01 326.69,1030.24 327.69,1030.23 328.69,1030.69 329.69,1031.28 330.69,1031.13 331.69,1031.01 332.69,1030.99 333.69,1031.9 334.69,1031.59 335.69,1031.83 336.68,1031.74 337.68,1032.19 338.68,1032.57 339.68,1032.4 340.68,1032.4 341.68,1032.98 342.68,1032.44 343.68,1032.9 344.68,1033.37 345.68,1033.12 346.68,1033.19 347.68,1033.75 348.67,1033.71 349.67,1033.9 350.67,1033.8 351.67,1033.79 352.67,1034.17 353.67,1034.56 354.67,1034.27 355.67,1034.41 356.67,1034.93 357.67,1034.54 358.67,1034.6 359.67,1034.94 360.66,1035.44 361.66,1035.24 362.66,1035.19 363.66,1035.31 364.66,1035.56 365.66,1036.05 366.66,1035.56 367.66,1036.05 368.66,1036.45 369.66,1036.48 370.66,1036.33 371.66,1036.8 372.65,1036.39 373.65,1036.3 374.65,1036.62 375.65,1036.74 376.65,1037.31 377.65,1036.86 378.65,1036.88 379.65,1037.17 380.65,1037.37 381.65,1037.85 382.65,1037.45 383.65,1037.59 384.64,1037.63 385.64,1037.7 386.64,1037.66 387.64,1038.27 388.64,1038.08 389.64,1038.22 390.64,1038.6 391.64,1038.28 392.64,1038.37 393.64,1038.41 394.64,1039.17 395.64,1039.05 396.63,1038.99 397.63,1038.75 398.63,1039.28 399.63,1039.01 400.63,1039.7 401.63,1039.9 402.63,1039.52 403.63,1039.58 404.63,1039.54 405.63,1040.21 406.63,1039.71 407.63,1040.03 408.62,1039.86 409.62,1040.07 410.62,1040.69 411.62,1040.41 412.62,1040.21 413.62,1040.35 414.62,1040.35 415.62,1040.8 416.62,1041.03 417.62,1040.74 418.62,1040.7 419.62,1040.9 420.61,1041.6 421.61,1041.53 422.61,1041.38 423.61,1041.14 424.61,1041.34 425.61,1041.22 426.61,1041.57 427.61,1041.43 428.61,1041.95 429.61,1042.11 430.61,1041.83 431.61,1041.98 432.6,1041.94 433.6,1042.09 434.6,1042.68 435.6,1042.09 436.6,1042.16 437.6,1042.9 438.6,1042.87" fill="none" stroke="#d04848" stroke-width="1.1" stroke-opacity="0.9" stroke-linejoin="round"/>
<polyline points="64.5,1217.26 65.48,1216.65 66.46,1217 67.44,1216.71 68.42,1217.06 69.4,1217.36 70.38,1217 71.36,1217.37 72.34,1216.93 73.32,1217.06 74.3,1216.78 75.28,1216.71 76.26,1216.6 77.24,1216.63 78.22,1216.83 79.2,1217.35 80.23,1214.88 81.25,1212.67 82.28,1210.13 83.31,1208.09 84.33,1206.47 85.36,1204.52 86.39,1201.9 87.41,1200.71 88.44,1198.52 89.47,1196.4 90.49,1195.14 91.52,1193.06 92.55,1191.37 93.57,1189.58 94.6,1187.64 95.63,1188.19 96.66,1188.2 97.69,1187.78 98.72,1188.1 99.75,1188.3 100.78,1188.49 101.81,1188.65 102.84,1188.74 103.87,1188.3 104.9,1188.18 105.88,1184.75 106.86,1181.04 107.84,1178.23 108.82,1174.35 109.8,1171.18 110.78,1167.99 111.76,1164.81 112.74,1161.91 113.72,1158.75 114.7,1155.83 115.68,1153.79 116.66,1151.07 117.64,1147.85 118.62,1145.38 119.6,1143.03 120.63,1142.96 121.66,1143.37 122.69,1143.05 123.72,1143.84 124.75,1143.89 125.78,1143.55 126.81,1143.57 127.84,1144.21 128.87,1144.3 129.9,1143.71 130.91,1137.78 131.91,1132.31 132.92,1127.02 133.93,1121.91 134.93,1116.78 135.94,1111.98 136.95,1107.44 137.95,1103.01 138.96,1098.08 139.97,1094.31 140.97,1089.97 141.98,1086.5 142.99,1083.12 143.99,1078.98 145,1075.68 146.02,1076.13 147.04,1076.17 148.06,1076.68 149.08,1076.81 150.1,1076.96 151.12,1077 152.14,1077.41 153.16,1077.51 154.18,1077.84 155.2,1077.71 156.2,1073.1 157.2,1067.95 158.2,1062.85 159.2,1058.54 160.2,1053.91 161.2,1050.45 162.2,1046.59 163.2,1042.96 164.2,1038.96 165.2,1035.87 166.2,1032.68 167.2,1029.93 168.2,1027.05 169.2,1024.84 170.2,1021.93 171.17,1022.5 172.15,1022.73 173.12,1022.7 174.09,1022.57 175.06,1023.17 176.04,1022.9 177.01,1023.83 177.98,1023.2 178.95,1023.37 179.93,1023.69 180.9,1024.13 181.89,1020.81 182.89,1017 183.88,1014.46 184.88,1012 185.87,1009.4 186.86,1007.79 187.86,1005.33 188.85,1003.51 189.85,1002.32 190.84,1000.88 191.84,999.46 192.83,997.75 193.82,997.15 194.82,995.71 195.81,994.69 196.81,993.97 197.8,993.55 198.8,993.4 199.8,993.83 200.8,993.96 201.8,994.29 202.8,994.92 203.8,994.68 204.79,995.19 205.79,995.89 206.79,996.34 207.79,996.51 208.79,996.81 209.79,996.8 210.79,997.44 211.79,998.07 212.79,997.81 213.79,998.55 214.79,999.06 215.79,999.12 216.78,999.22 217.78,999.89 218.78,999.62 219.78,1000.64 220.78,1000.77 221.78,1000.58 222.78,1001.28 223.78,1001.39 224.78,1001.98 225.78,1001.87 226.78,1002.21 227.78,1003.13 228.77,1002.82 229.77,1003.31 230.77,1003.47 231.77,1004.12 232.77,1004.3 233.77,1004.69 234.77,1005.15 235.77,1004.93 236.77,1005.53 237.77,1006.02 238.77,1005.92 239.77,1006.22 240.76,1006.39 241.76,1006.75 242.76,1007.24 243.76,1007.77 244.76,1008.06 245.76,1007.77 246.76,1008.55 247.76,1008.71 248.76,1008.66 249.76,1009.16 250.76,1009.14 251.76,1009.88 252.75,1010.2 253.75,1010.28 254.75,1010.44 255.75,1010.71 256.75,1010.69 257.75,1010.92 258.75,1011.4 259.75,1011.41 260.75,1012.08 261.75,1012.25 262.75,1012.28 263.75,1012.83 264.74,1012.67 265.74,1013.37 266.74,1013.06 267.74,1013.32 268.74,1013.88 269.74,1013.84 270.74,1014.69 271.74,1014.47 272.74,1015.2 273.74,1014.66 274.74,1015.4 275.74,1015.13 276.73,1015.83 277.73,1016.1 278.73,1016.36 279.73,1016.62 280.73,1016.61 281.73,1016.88 282.73,1016.98 283.73,1016.91 284.73,1017.35 285.73,1017.45 286.73,1017.56 287.73,1018.04 288.72,1018.19 289.72,1018.83 290.72,1018.9 291.72,1019.06 292.72,1019.03 293.72,1019.81 294.72,1019.29 295.72,1019.63 296.72,1020.27 297.72,1020.08 298.72,1020.8 299.72,1020.28 300.71,1021.09 301.71,1021.26 302.71,1021.62 303.71,1021.59 304.71,1021.4 305.71,1021.83 306.71,1021.84 307.71,1022.58 308.71,1022.54 309.71,1022.57 310.71,1023 311.71,1023.32 312.7,1023.3 313.7,1023.51 314.7,1023.22 315.7,1023.67 316.7,1023.72 317.7,1023.93 318.7,1024.43 319.7,1024.64 320.7,1024.8 321.7,1024.94 322.7,1025.12 323.7,1024.84 324.69,1024.94 325.69,1025.85 326.69,1025.64 327.69,1025.73 328.69,1026.35 329.69,1026.25 330.69,1026.05 331.69,1026.67 332.69,1026.28 333.69,1026.8 334.69,1026.83 335.69,1027.34 336.68,1027.67 337.68,1027.46 338.68,1027.84 339.68,1027.81 340.68,1027.56 341.68,1027.97 342.68,1028.42 343.68,1028.14 344.68,1028.15 345.68,1028.73 346.68,1028.78 347.68,1029.07 348.67,1029.46 349.67,1029.54 350.67,1029.14 351.67,1029.51 352.67,1029.84 353.67,1029.82 354.67,1030.42 355.67,1030.07 356.67,1030.58 357.67,1030.54 358.67,1030.73 359.67,1031.03 360.66,1030.81 361.66,1031.39 362.66,1030.97 363.66,1031.29 364.66,1031.23 365.66,1031.97 366.66,1031.88 367.66,1032.05 368.66,1032.11 369.66,1032.25 370.66,1032.28 371.66,1032.48 372.65,1032.25 373.65,1032.72 374.65,1032.96 375.65,1032.94 376.65,1033.33 377.65,1033.41 378.65,1033.19 379.65,1033.22 380.65,1033.63 381.65,1034 382.65,1033.84 383.65,1033.65 384.64,1034.33 385.64,1034.28 386.64,1033.96 387.64,1034.06 388.64,1034.6 389.64,1034.85 390.64,1035.1 391.64,1035.23 392.64,1035.28 393.64,1035.42 394.64,1035.29 395.64,1035.65 396.63,1035.61 397.63,1035.56 398.63,1035.34 399.63,1035.76 400.63,1036.28 401.63,1036.24 402.63,1036.19 403.63,1036.37 404.63,1036.6 405.63,1036.27 406.63,1036.7 407.63,1036.52 408.62,1036.83 409.62,1036.5 410.62,1037.1 411.62,1037.37 412.62,1037.28 413.62,1037.4 414.62,1037.55 415.62,1037.42 416.62,1037.21 417.62,1037.56 418.62,1037.94 419.62,1037.82 420.61,1037.87 421.61,1038.35 422.61,1038.02 423.61,1038.59 424.61,1038.79 425.61,1038.19 426.61,1038.55 427.61,1038.62 428.61,1038.58 429.61,1039.07 430.61,1038.85 431.61,1038.94 432.6,1039.03 433.6,1039.29 434.6,1039.35 435.6,1039.23 436.6,1039.47 437.6,1039.83 438.6,1039.93" fill="none" stroke="#66a866" stroke-width="1.1" stroke-opacity="0.9" stroke-linejoin="round"/>
<polyline points="64.5,1215.35 65.48,1215.47 66.46,1215.56 67.44,1215.86 68.42,1215.84 69.4,1215.64 70.38,1215.32 71.36,1215.34 72.34,1215.2 73.32,1215.1 74.3,1215.62 75.28,1215.44 76.26,1215.28 77.24,1215.13 78.22,1215.22 79.2,1215.57 80.23,1213.26 81.25,1210.72 82.28,1208.85 83.31,1206.38 84.33,1203.86 85.36,1201.67 86.39,1200.36 87.41,1198.25 88.44,1195.89 89.47,1193.59 90.49,1192.17 91.52,1190.36 92.55,1188.08 93.57,1186.27 94.6,1184.94 95.63,1184.6 96.66,1185.15 97.69,1184.84 98.72,1184.88 99.75,1185.29 100.78,1184.89 101.81,1185.51 102.84,1185.73 103.87,1185.13 104.9,1185.43 105.88,1181.04 106.86,1177.74 107.84,1173.82 108.82,1170.22 109.8,1166.52 110.78,1162.28 111.76,1159.36 112.74,1156.11 113.72,1152.61 114.7,1149.13 115.68,1146.02 116.66,1143.36 117.64,1140.01 118.62,1137.03 119.6,1134.91 120.63,1134.66 121.66,1134.96 122.69,1134.64 123.72,1135.02 124.75,1135.04 125.78,1135.56 126.81,1135.02 127.84,1135.67 128.87,1135.16 129.9,1135.73 130.91,1129.62 131.91,1123.77 132.92,1118.95 133.93,1113.41 134.93,1108.98 135.94,1104.12 136.95,1099.46 137.95,1095.15 138.96,1090.71 139.97,1086.24 140.97,1082.37 141.98,1078.63 142.99,1075.18 143.99,1072.18 145,1068.76 146.02,1068.75 147.04,1068.89 148.06,1069.33 149.08,1069.19 150.1,1069.73 151.12,1069.67 152.14,1069.45 153.16,1070.05 154.18,1069.59 155.2,1070.11 156.2,1064.89 157.2,1059.61 158.2,1055.25 159.2,1051.07 160.2,1046.72 161.2,1042.38 162.2,1038.76 163.2,1035.24 164.2,1032.23 165.2,1028.39 166.2,1026.05 167.2,1023.16 168.2,1020.34 169.2,1017.85 170.2,1014.73 171.17,1015.35 172.15,1015.87 173.12,1016.09 174.09,1016.28 175.06,1016.17 176.04,1016.09 177.01,1016.18 177.98,1016.62 178.95,1016.63 179.93,1017.24 180.9,1017.22 181.89,1013.79 182.89,1011.31 183.88,1008.6 184.88,1006.03 185.87,1004.05 186.86,1002.73 187.86,1000.72 188.85,999.25 189.85,997.5 190.84,996.48 191.84,994.86 192.83,994 193.82,992.77 194.82,992.55 195.81,991.75 196.81,990.67 197.8,990.03 198.8,990.21 199.8,990.4 200.8,990.52 201.8,991.43 202.8,991.07 203.8,991.83 204.79,992.03 205.79,992.46 206.79,992.91 207.79,993.14 208.79,993.34 209.79,993.92 210.79,994.57 211.79,994.73 212.79,995.14 213.79,995.63 214.79,995.8 215.79,996.18 216.78,996.53 217.78,997.01 218.78,997.04 219.78,996.92 220.78,997.55 221.78,997.65 222.78,998.35 223.78,998.83 224.78,999.13 225.78,998.88 226.78,999.16 227.78,1000.12 228.77,1000.46 229.77,1000.29 230.77,1000.9 231.77,1001.47 232.77,1001.64 233.77,1001.29 234.77,1001.98 235.77,1002.68 236.77,1002.53 237.77,1002.8 238.77,1003.41 239.77,1003.41 240.76,1003.72 241.76,1004.13 242.76,1004.57 243.76,1004.53 244.76,1005.03 245.76,1004.98 246.76,1005.3 247.76,1005.4 248.76,1006.02 249.76,1006.09 250.76,1006.61 251.76,1007.12 252.75,1007.35 253.75,1007.1 254.75,1007.77 255.75,1007.8 256.75,1008.22 257.75,1008.39 258.75,1008.62 259.75,1008.59 260.75,1009.36 261.75,1009.61 262.75,1009.71 263.75,1010.24 264.74,1010.46 265.74,1010.85 266.74,1010.46 267.74,1010.65 268.74,1011.15 269.74,1011.64 270.74,1011.91 271.74,1012.15 272.74,1012.17 273.74,1012.36 274.74,1012.73 275.74,1013.25 276.73,1013.38 277.73,1013.13 278.73,1013.26 279.73,1013.64 280.73,1014.04 281.73,1014.51 282.73,1014.48 283.73,1015.1 284.73,1015.24 285.73,1015.26 286.73,1015.31 287.73,1015.5 288.72,1015.94 289.72,1016.36 290.72,1016.24 291.72,1016.79 292.72,1016.5 293.72,1017.16 294.72,1017.25 295.72,1017.12 296.72,1017.81 297.72,1017.6 298.72,1017.61 299.72,1018.05 300.71,1018.7 301.71,1018.44 302.71,1018.68 303.71,1018.99 304.71,1019.46 305.71,1019.31 306.71,1019.91 307.71,1019.73 308.71,1019.92 309.71,1020.16 310.71,1020.6 311.71,1020.38 312.7,1020.61 313.7,1021.06 314.7,1021.35 315.7,1021.65 316.7,1021.42 317.7,1021.78 318.7,1022.24 319.7,1021.71 320.7,1022.48 321.7,1022.4 322.7,1022.83 323.7,1022.39 324.69,1022.65 325.69,1022.89 326.69,1023.19 327.69,1023.58 328.69,1023.78 329.69,1023.78 330.69,1024.16 331.69,1024.29 332.69,1024.32 333.69,1024.81 334.69,1024.92 335.69,1024.78 336.68,1025.09 337.68,1025.44 338.68,1025.31 339.68,1025.36 340.68,1025.28 341.68,1025.62 342.68,1025.78 343.68,1025.94 344.68,1025.89 345.68,1026.15 346.68,1026.97 347.68,1026.54 348.67,1026.91 349.67,1026.67 350.67,1027.52 351.67,1027.67 352.67,1027.47 353.67,1027.3 354.67,1027.52 355.67,1028.16 356.67,1027.85 357.67,1028.05 358.67,1028.56 359.67,1028.86 360.66,1029.08 361.66,1028.84 362.66,1029.32 363.66,1029.12 364.66,1029.24 365.66,1029.53 366.66,1029.71 367.66,1029.55 368.66,1029.82 369.66,1030.21 370.66,1030.09 371.66,1030.03 372.65,1030.59 373.65,1030.56 374.65,1030.36 375.65,1030.75 376.65,1030.56 377.65,1030.97 378.65,1031.22 379.65,1030.89 380.65,1031.42 381.65,1031.13 382.65,1031.84 383.65,1031.41 384.64,1031.62 385.64,1031.6 386.64,1032.2 387.64,1032.19 388.64,1032.24 389.64,1032.82 390.64,1032.21 391.64,1032.87 392.64,1033.03 393.64,1033.13 394.64,1033.08 395.64,1033.49 396.63,1032.99 397.63,1033.4 398.63,1033.71 399.63,1034.02 400.63,1033.47 401.63,1034.15 402.63,1034.27 403.63,1033.82 404.63,1034.34 405.63,1034.21 406.63,1034.74 407.63,1034.49 408.62,1034.75 409.62,1034.46 410.62,1034.64 411.62,1034.8 412.62,1035.39 413.62,1035.39 414.62,1035.45 415.62,1035.28 416.62,1035.65 417.62,1035.54 418.62,1035.93 419.62,1036.03 420.61,1036.18 421.61,1036 422.61,1035.69 423.61,1036.55 424.61,1036.2 425.61,1036.11 426.61,1036.78 427.61,1036.81 428.61,1037.04 429.61,1037.09 430.61,1036.5 431.61,1037.17 432.6,1036.81 433.6,1037.23 434.6,1037.39 435.6,1037.41 436.6,1037.17 437.6,1037.5 438.6,1037.98" fill="none" stroke="#d8c464" stroke-width="1.1" stroke-opacity="0.9" stroke-linejoin="round"/>
<polyline points="64.5,1213.17 65.48,1213.39 66.46,1212.62 67.44,1212.64 68.42,1213.22 69.4,1212.81 70.38,1212.8 71.36,1213.18 72.34,1212.97 73.32,1212.83 74.3,1212.62 75.28,1212.71 76.26,1212.73 77.24,1212.94 78.22,1213.03 79.2,1212.6 80.23,1210.82 81.25,1209.43 82.28,1207.4 83.31,1205.55 84.33,1203.82 85.36,1202.49 86.39,1200.52 87.41,1199.23 88.44,1197.45 89.47,1196.31 90.49,1195.02 91.52,1193.15 92.55,1191.64 93.57,1190.35 94.6,1188.74 95.63,1189.07 96.66,1189.45 97.69,1189.63 98.72,1189.49 99.75,1189.68 100.78,1190.39 101.81,1190.66 102.84,1190.52 103.87,1190.42 104.9,1190.83 105.89,1188.05 106.89,1185.05 107.88,1182.05 108.87,1179.3 109.87,1177.05 110.86,1174.75 111.85,1171.89 112.85,1169.7 113.84,1168.12 114.83,1165.92 115.83,1163.81 116.82,1161.67 117.81,1159.81 118.81,1157.77 119.8,1156.45 120.84,1157.64 121.89,1159.24 122.93,1160.9 123.98,1162.09 125.02,1163.72 126.07,1164.99 127.11,1166.65 128.16,1167.37 129.2,1168.52 129.2,1173.6 129.21,1168.86 130.19,1162.41 131.17,1156.31 132.15,1151.54 133.13,1147.15 134.11,1143.03 135.09,1139.01 136.07,1136.31 137.06,1133.28 138.04,1130.4 139.02,1128.13 140,1126.12 140.98,1124.03 141.96,1122.53 142.94,1121.3 143.92,1119.53 144.9,1118.95 145.88,1120.83 146.86,1123.33 147.84,1124.94 148.82,1127.61 149.8,1129.43 150.78,1131.59 151.76,1133.51 152.74,1135.23 153.72,1136.86 154.7,1138.33 154.7,1147.2 154.71,1138.69 155.7,1130.47 156.7,1122.85 157.69,1116.55 158.68,1111.06 159.68,1105.5 160.67,1101.62 161.66,1097.24 162.65,1093.35 163.65,1090.25 164.64,1088.08 165.63,1084.94 166.63,1083.16 167.62,1080.92 168.61,1079.48 169.61,1077.49 170.6,1076.6 171.58,1079.75 172.56,1083.47 173.54,1086.96 174.52,1090.91 175.5,1093.73 176.48,1097.58 177.46,1100.76 178.44,1103.36 179.42,1106.48 180.4,1109.58 180.4,1122.29 180.41,1109.04 181.4,1101.13 182.4,1093.47 183.39,1086.53 184.38,1080.65 185.38,1075.61 186.37,1070.8 187.36,1066.3 188.36,1063.18 189.35,1059.79 190.35,1056.66 191.34,1054.27 192.33,1051.5 193.33,1049.81 194.32,1047.68 195.31,1046.52 196.31,1044.39 197.3,1043.41 198.3,1047.75 199.3,1053.41 200.31,1059.26 201.31,1064.1 202.31,1068.83 203.31,1073.03 204.31,1076.44 205.32,1079.95 206.32,1083.13 207.32,1086.24 208.32,1088.98 209.33,1091.23 210.33,1093.51 211.33,1095.73 212.33,1098.03 213.33,1099.9 214.34,1101.65 215.34,1103.21 216.34,1105.24 217.34,1106.58 218.34,1107.73 219.35,1109.38 220.35,1111.09 221.35,1112.21 222.35,1112.8 223.35,1114.54 224.36,1115.16 225.36,1116.41 226.36,1117.15 227.36,1118.45 228.36,1119.2 229.37,1120.45 230.37,1121.38 231.37,1121.83 232.37,1122.75 233.38,1124.11 234.38,1124.12 235.38,1125.33 236.38,1126.09 237.38,1126.69 238.39,1127.26 239.39,1128.14 240.39,1128.6 241.39,1129.02 242.39,1130.12 243.4,1130.24 244.4,1131.09 245.4,1131.65 246.4,1132.38 247.4,1132.59 248.41,1133.12 249.41,1133.53 250.41,1134.46 251.41,1134.51 252.41,1135.35 253.42,1135.29 254.42,1135.65 255.42,1136.08 256.42,1136.37 257.43,1136.97 258.43,1137.7 259.43,1137.81 260.43,1138.25 261.43,1138.78 262.44,1139.05 263.44,1139.18 264.44,1139.46 265.44,1140.26 266.44,1140.78 267.45,1140.72 268.45,1141.27 269.45,1141.36 270.45,1141.86 271.45,1142.32 272.46,1142.42 273.46,1143.14 274.46,1143.52 275.46,1143.13 276.46,1143.9 277.47,1143.87 278.47,1144.65 279.47,1144.96 280.47,1145.12 281.48,1145.12 282.48,1145.79 283.48,1145.37 284.48,1145.69 285.48,1145.98 286.49,1146.54 287.49,1146.62 288.49,1146.96 289.49,1147.35 290.49,1147.85 291.5,1148.06 292.5,1147.89 293.5,1148.48 294.5,1148.6 295.5,1148.89 296.51,1148.62 297.51,1149.24 298.51,1149.18 299.51,1149.24 300.51,1150 301.52,1149.78 302.52,1149.86 303.52,1150.83 304.52,1150.65 305.52,1150.84 306.53,1151.19 307.53,1150.89 308.53,1151.18 309.53,1151.42 310.54,1151.84 311.54,1151.71 312.54,1151.95 313.54,1152.05 314.54,1152.8 315.55,1152.61 316.55,1152.61 317.55,1152.91 318.55,1153.57 319.55,1153.65 320.56,1153.59 321.56,1153.53 322.56,1154.28 323.56,1154.5 324.56,1154.29 325.57,1154.91 326.57,1155 327.57,1154.54 328.57,1155.11 329.58,1155.5 330.58,1155.21 331.58,1155.71 332.58,1156.11 333.58,1156.16 334.59,1156.02 335.59,1155.92 336.59,1156.24 337.59,1156.82 338.59,1156.52 339.6,1156.9 340.6,1157.25 341.6,1157.1 342.6,1157.4 343.6,1157.22 344.61,1157.16 345.61,1158.08 346.61,1158.19 347.61,1157.98 348.61,1157.96 349.62,1158.35 350.62,1158.71 351.62,1158.47 352.62,1158.45 353.62,1158.89 354.63,1158.72 355.63,1158.91 356.63,1159.48 357.63,1159.01 358.64,1159.72 359.64,1159.33 360.64,1159.8 361.64,1159.6 362.64,1159.82 363.65,1160.18 364.65,1159.86 365.65,1160.28 366.65,1160.03 367.65,1160.66 368.66,1160.43 369.66,1160.81 370.66,1160.8 371.66,1161.01 372.66,1161.46 373.67,1160.78 374.67,1161.49 375.67,1161.7 376.67,1161.74 377.68,1161.38 378.68,1161.36 379.68,1161.43 380.68,1161.81 381.68,1162.01 382.69,1162.3 383.69,1162.52 384.69,1162.32 385.69,1162.32 386.69,1162.65 387.7,1162.75 388.7,1162.79 389.7,1162.47 390.7,1162.9 391.7,1163.12 392.71,1162.76 393.71,1163.59 394.71,1163.15 395.71,1163.4 396.71,1163.41 397.72,1163.8 398.72,1163.7 399.72,1163.47 400.72,1163.46 401.73,1163.99 402.73,1163.92 403.73,1164.22 404.73,1164.51 405.73,1164.2 406.74,1164.74 407.74,1164.55 408.74,1164.52 409.74,1164.62 410.74,1164.92 411.75,1165.01 412.75,1164.66 413.75,1164.68 414.75,1164.8 415.75,1164.97 416.76,1165 417.76,1165.5 418.76,1165.62 419.76,1165.51 420.76,1165.72 421.77,1165.5 422.77,1165.18 423.77,1165.7 424.77,1165.4 425.77,1165.54 426.78,1166.21 427.78,1166.24 428.78,1165.85 429.78,1166.01 430.79,1165.89 431.79,1165.95 432.79,1166.54 433.79,1166.63 434.79,1166.79 435.8,1166.44 436.8,1166.63 437.8,1166.21" fill="none" stroke="#4c4cc8" stroke-width="1.1" stroke-opacity="0.9" stroke-linejoin="round"/>
<line x1="66" y1="1208" x2="66" y2="1228" stroke="#888" stroke-width="1" stroke-opacity="0.6"/>
<line x1="79.2" y1="1205" x2="79.2" y2="1230" stroke="#888" stroke-width="1" stroke-opacity="0.6"/>
<line x1="337.4" y1="1151" x2="337.4" y2="1160" stroke="#4c4cc8" stroke-width="1" stroke-opacity="0.85"/>
<line x1="337.4" y1="1069" x2="337.4" y2="1078" stroke="#c45ce0" stroke-width="1" stroke-opacity="0.85"/>
<line x1="337.4" y1="1024" x2="337.4" y2="1034" stroke="#c0a070" stroke-width="1" stroke-opacity="0.85"/>
<line x1="432.3" y1="1160" x2="432.3" y2="1174" stroke="#4c4cc8" stroke-width="1" stroke-opacity="0.85"/>
<line x1="430.6" y1="1083" x2="430.6" y2="1095" stroke="#c45ce0" stroke-width="1" stroke-opacity="0.85"/>
<line x1="431.5" y1="1033" x2="431.5" y2="1054" stroke="#c89070" stroke-width="1" stroke-opacity="0.85"/>
<line x1="427" y1="1166" x2="436" y2="1166" stroke="#4c4cc8" stroke-width="1" stroke-opacity="0.7"/>
<line x1="427" y1="1089" x2="436" y2="1089" stroke="#c45ce0" stroke-width="1" stroke-opacity="0.7"/>
<line x1="427" y1="1042" x2="436" y2="1042" stroke="#d04848" stroke-width="1" stroke-opacity="0.7"/>
</svg>
</body></html>
